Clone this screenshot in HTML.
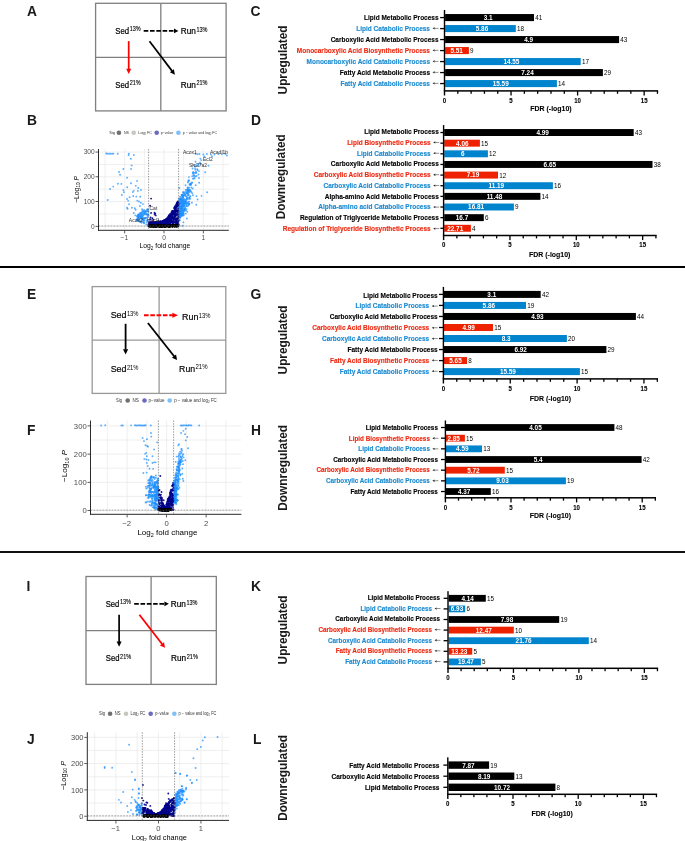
<!DOCTYPE html><html><head><meta charset="utf-8"><style>
*{margin:0;padding:0}
html,body{width:685px;height:841px;background:#fff;overflow:hidden}
svg{display:block;will-change:transform}
text{font-family:"Liberation Sans",sans-serif}
.pl{font-size:13.8px;font-weight:bold;fill:#1a1a1a}
.bl{font-weight:bold;stroke-width:0.14px}
.bv{font-size:7.1px;font-weight:bold;fill:#fff}
.bc{font-size:7.1px;fill:#000}
.bt{font-size:6.6px;font-weight:bold;fill:#000;stroke:#000;stroke-width:0.1px}
.bt2{font-size:7.1px;font-weight:bold;fill:#000;stroke:#000;stroke-width:0.1px}
.side{font-size:12.6px;font-weight:bold;fill:#1a1a1a}
.dt{font-size:8.8px;fill:#000;stroke:#000;stroke-width:0.22px}
.ds{font-size:6.3px;fill:#000;stroke:#000;stroke-width:0.12px}
.dt2{font-size:9px;fill:#000;stroke:#000;stroke-width:0.18px}
.ds2{font-size:6.6px;fill:#000}
.vt{fill:#4d4d4d}
.vx{fill:#000}
.lg{fill:#333}
.gl{font-size:5px;fill:#333}
</style></head><body><svg width="685" height="841" viewBox="0 0 685 841"><rect x="0" y="266" width="685" height="2" fill="#000"/>
<rect x="0" y="551" width="685" height="2" fill="#111"/>
<text x="27.1" y="15.7" class="pl">A</text>
<text x="27" y="124.9" class="pl">B</text>
<text x="250.4" y="15.8" class="pl">C</text>
<text x="251" y="124.9" class="pl">D</text>
<text x="27" y="299" class="pl">E</text>
<text x="27" y="434.9" class="pl">F</text>
<text x="250.4" y="299.2" class="pl">G</text>
<text x="250.9" y="434.7" class="pl">H</text>
<text x="26.5" y="590.6" class="pl">I</text>
<text x="26.9" y="743.6" class="pl">J</text>
<text x="250.9" y="590.6" class="pl">K</text>
<text x="253.1" y="743.8" class="pl">L</text>
<rect x="445.1" y="14.05" width="88.9" height="7.05" fill="#000"/>
<text x="483.76" y="19.97" class="bv" textLength="8.88" lengthAdjust="spacingAndGlyphs">3.1</text>
<text x="535.2" y="20.02" class="bc" textLength="7.03" lengthAdjust="spacingAndGlyphs">41</text>
<rect x="440.1" y="16.93" width="4.2" height="1.3" fill="#000"/>
<text x="364.08" y="19.6" class="bl" font-size="7.5" fill="#000" stroke="#000" textLength="74.52" lengthAdjust="spacingAndGlyphs">Lipid Metabolic Process</text>
<rect x="445.1" y="25.05" width="70.7" height="7.05" fill="#0084cd"/>
<text x="475.78" y="30.97" class="bv" textLength="12.44" lengthAdjust="spacingAndGlyphs">5.86</text>
<text x="517" y="31.02" class="bc" textLength="7.03" lengthAdjust="spacingAndGlyphs">18</text>
<rect x="440.1" y="27.93" width="4.2" height="1.3" fill="#000"/>
<path d="M432.5 28.3l2.2 -1.15v2.3z" fill="#222"/>
<rect x="434.5" y="27.9" width="4.0" height="0.8" fill="#777"/>
<text x="356.21" y="30.6" class="bl" font-size="7.5" fill="#1a8ad0" stroke="#1a8ad0" textLength="73.79" lengthAdjust="spacingAndGlyphs">Lipid Catabolic Process</text>
<rect x="445.1" y="36.05" width="174" height="7.05" fill="#000"/>
<text x="524.26" y="41.97" class="bv" textLength="8.88" lengthAdjust="spacingAndGlyphs">4.9</text>
<text x="620.3" y="42.02" class="bc" textLength="7.03" lengthAdjust="spacingAndGlyphs">43</text>
<rect x="440.1" y="38.92" width="4.2" height="1.3" fill="#000"/>
<text x="330.67" y="41.6" class="bl" font-size="7.5" fill="#000" stroke="#000" textLength="107.93" lengthAdjust="spacingAndGlyphs">Carboxylic Acid Metabolic Process</text>
<rect x="445.1" y="47.05" width="23.8" height="7.05" fill="#ee2200"/>
<text x="450.38" y="52.97" class="bv" textLength="12.44" lengthAdjust="spacingAndGlyphs">5.51</text>
<text x="470.1" y="53.02" class="bc" textLength="3.51" lengthAdjust="spacingAndGlyphs">9</text>
<rect x="440.1" y="49.92" width="4.2" height="1.3" fill="#000"/>
<path d="M432.5 50.3l2.2 -1.15v2.3z" fill="#222"/>
<rect x="434.5" y="49.9" width="4.0" height="0.8" fill="#777"/>
<text x="296.76" y="52.6" class="bl" font-size="7.5" fill="#ee2a12" stroke="#ee2a12" textLength="133.24" lengthAdjust="spacingAndGlyphs">Monocarboxylic Acid Biosynthetic Process</text>
<rect x="445.1" y="58.05" width="135.6" height="7.05" fill="#0084cd"/>
<text x="503.41" y="63.97" class="bv" textLength="15.99" lengthAdjust="spacingAndGlyphs">14.55</text>
<text x="581.9" y="64.02" class="bc" textLength="7.03" lengthAdjust="spacingAndGlyphs">17</text>
<rect x="440.1" y="60.92" width="4.2" height="1.3" fill="#000"/>
<path d="M432.5 61.3l2.2 -1.15v2.3z" fill="#222"/>
<rect x="434.5" y="60.9" width="4.0" height="0.8" fill="#777"/>
<text x="306.52" y="63.6" class="bl" font-size="7.5" fill="#1a8ad0" stroke="#1a8ad0" textLength="123.48" lengthAdjust="spacingAndGlyphs">Monocarboxylic Acid Catabolic Process</text>
<rect x="445.1" y="69.05" width="157.8" height="7.05" fill="#000"/>
<text x="521.28" y="74.98" class="bv" textLength="12.44" lengthAdjust="spacingAndGlyphs">7.24</text>
<text x="604.1" y="75.03" class="bc" textLength="7.03" lengthAdjust="spacingAndGlyphs">29</text>
<rect x="440.1" y="71.92" width="4.2" height="1.3" fill="#000"/>
<path d="M432.5 72.3l2.2 -1.15v2.3z" fill="#222"/>
<rect x="434.5" y="71.9" width="4.0" height="0.8" fill="#777"/>
<text x="339.8" y="74.6" class="bl" font-size="7.5" fill="#000" stroke="#000" textLength="90.2" lengthAdjust="spacingAndGlyphs">Fatty Acid Metabolic Process</text>
<rect x="445.1" y="80.05" width="111.8" height="7.05" fill="#0084cd"/>
<text x="492.71" y="85.98" class="bv" textLength="15.99" lengthAdjust="spacingAndGlyphs">15.59</text>
<text x="558.1" y="86.03" class="bc" textLength="7.03" lengthAdjust="spacingAndGlyphs">14</text>
<rect x="440.1" y="82.92" width="4.2" height="1.3" fill="#000"/>
<path d="M432.5 83.3l2.2 -1.15v2.3z" fill="#222"/>
<rect x="434.5" y="82.9" width="4.0" height="0.8" fill="#777"/>
<text x="340.53" y="85.6" class="bl" font-size="7.5" fill="#1a8ad0" stroke="#1a8ad0" textLength="89.47" lengthAdjust="spacingAndGlyphs">Fatty Acid Catabolic Process</text>
<rect x="443.8" y="10" width="1.4" height="85.5" fill="#000"/>
<rect x="443.8" y="90.15" width="214.36" height="1.5" fill="#000"/>
<rect x="457.16" y="90.9" width="1.3" height="2.9" fill="#000"/>
<rect x="470.47" y="90.9" width="1.3" height="2.9" fill="#000"/>
<rect x="483.78" y="90.9" width="1.3" height="2.9" fill="#000"/>
<rect x="497.09" y="90.9" width="1.3" height="2.9" fill="#000"/>
<rect x="510.4" y="90.9" width="1.3" height="4.6" fill="#000"/>
<rect x="523.71" y="90.9" width="1.3" height="2.9" fill="#000"/>
<rect x="537.02" y="90.9" width="1.3" height="2.9" fill="#000"/>
<rect x="550.33" y="90.9" width="1.3" height="2.9" fill="#000"/>
<rect x="563.64" y="90.9" width="1.3" height="2.9" fill="#000"/>
<rect x="576.95" y="90.9" width="1.3" height="4.6" fill="#000"/>
<rect x="590.26" y="90.9" width="1.3" height="2.9" fill="#000"/>
<rect x="603.57" y="90.9" width="1.3" height="2.9" fill="#000"/>
<rect x="616.88" y="90.9" width="1.3" height="2.9" fill="#000"/>
<rect x="630.19" y="90.9" width="1.3" height="2.9" fill="#000"/>
<rect x="643.5" y="90.9" width="1.3" height="4.6" fill="#000"/>
<rect x="656.81" y="90.9" width="1.3" height="2.9" fill="#000"/>
<text x="442.81" y="102.7" class="bt" textLength="3.38" lengthAdjust="spacingAndGlyphs">0</text>
<text x="509.36" y="102.7" class="bt" textLength="3.38" lengthAdjust="spacingAndGlyphs">5</text>
<text x="574.22" y="102.7" class="bt" textLength="6.75" lengthAdjust="spacingAndGlyphs">10</text>
<text x="640.77" y="102.7" class="bt" textLength="6.75" lengthAdjust="spacingAndGlyphs">15</text>
<text x="530.3" y="111" class="bt2" textLength="41.35" lengthAdjust="spacingAndGlyphs">FDR (-log10)</text>
<text transform="translate(286.8 94.4) rotate(-90)" class="side" textLength="68.9" lengthAdjust="spacingAndGlyphs">Upregulated</text>
<rect x="444.2" y="129.05" width="189.5" height="6.95" fill="#000"/>
<text x="536.48" y="134.93" class="bv" textLength="12.44" lengthAdjust="spacingAndGlyphs">4.99</text>
<text x="634.9" y="134.97" class="bc" textLength="7.03" lengthAdjust="spacingAndGlyphs">43</text>
<rect x="440.4" y="131.88" width="3" height="1.3" fill="#000"/>
<text x="364.28" y="133.95" class="bl" font-size="7" fill="#000" stroke="#000" textLength="74.52" lengthAdjust="spacingAndGlyphs">Lipid Metabolic Process</text>
<rect x="444.2" y="139.69" width="35.7" height="6.95" fill="#ee2200"/>
<text x="456.08" y="145.56" class="bv" textLength="12.44" lengthAdjust="spacingAndGlyphs">4.06</text>
<text x="481.1" y="145.61" class="bc" textLength="7.03" lengthAdjust="spacingAndGlyphs">15</text>
<rect x="440.4" y="142.51" width="3" height="1.3" fill="#000"/>
<path d="M433.2 142.43l2.2 -1.15v2.3z" fill="#222"/>
<rect x="435.2" y="142.03" width="4.0" height="0.8" fill="#777"/>
<text x="347.14" y="144.73" class="bl" font-size="7" fill="#ee2a12" stroke="#ee2a12" textLength="83.56" lengthAdjust="spacingAndGlyphs">Lipid Biosynthetic Process</text>
<rect x="444.2" y="150.33" width="43.7" height="6.95" fill="#0084cd"/>
<text x="461.12" y="156.21" class="bv" textLength="3.55" lengthAdjust="spacingAndGlyphs">6</text>
<text x="489.1" y="156.25" class="bc" textLength="7.03" lengthAdjust="spacingAndGlyphs">12</text>
<rect x="440.4" y="153.16" width="3" height="1.3" fill="#000"/>
<path d="M433.2 153.21l2.2 -1.15v2.3z" fill="#222"/>
<rect x="435.2" y="152.81" width="4.0" height="0.8" fill="#777"/>
<text x="356.91" y="155.51" class="bl" font-size="7" fill="#1a8ad0" stroke="#1a8ad0" textLength="73.79" lengthAdjust="spacingAndGlyphs">Lipid Catabolic Process</text>
<rect x="444.2" y="160.97" width="208.3" height="6.95" fill="#000"/>
<text x="543.58" y="166.85" class="bv" textLength="12.44" lengthAdjust="spacingAndGlyphs">6.65</text>
<text x="653.7" y="166.9" class="bc" textLength="7.03" lengthAdjust="spacingAndGlyphs">38</text>
<rect x="440.4" y="163.8" width="3" height="1.3" fill="#000"/>
<text x="330.87" y="166.28" class="bl" font-size="7" fill="#000" stroke="#000" textLength="107.93" lengthAdjust="spacingAndGlyphs">Carboxylic Acid Metabolic Process</text>
<rect x="444.2" y="171.61" width="53.8" height="6.95" fill="#ee2200"/>
<text x="466.78" y="177.49" class="bv" textLength="12.44" lengthAdjust="spacingAndGlyphs">7.19</text>
<text x="499.2" y="177.53" class="bc" textLength="7.03" lengthAdjust="spacingAndGlyphs">12</text>
<rect x="440.4" y="174.44" width="3" height="1.3" fill="#000"/>
<path d="M433.2 174.76l2.2 -1.15v2.3z" fill="#222"/>
<rect x="435.2" y="174.36" width="4.0" height="0.8" fill="#777"/>
<text x="313.73" y="177.06" class="bl" font-size="7" fill="#ee2a12" stroke="#ee2a12" textLength="116.97" lengthAdjust="spacingAndGlyphs">Carboxylic Acid Biosynthetic Process</text>
<rect x="444.2" y="182.25" width="108.7" height="6.95" fill="#0084cd"/>
<text x="488.48" y="188.12" class="bv" textLength="15.64" lengthAdjust="spacingAndGlyphs">11.19</text>
<text x="554.1" y="188.17" class="bc" textLength="7.03" lengthAdjust="spacingAndGlyphs">16</text>
<rect x="440.4" y="185.07" width="3" height="1.3" fill="#000"/>
<path d="M433.2 185.54l2.2 -1.15v2.3z" fill="#222"/>
<rect x="435.2" y="185.14" width="4.0" height="0.8" fill="#777"/>
<text x="323.49" y="187.84" class="bl" font-size="7" fill="#1a8ad0" stroke="#1a8ad0" textLength="107.21" lengthAdjust="spacingAndGlyphs">Carboxylic Acid Catabolic Process</text>
<rect x="444.2" y="192.89" width="96.2" height="6.95" fill="#000"/>
<text x="486.68" y="198.77" class="bv" textLength="15.64" lengthAdjust="spacingAndGlyphs">11.48</text>
<text x="541.6" y="198.81" class="bc" textLength="7.03" lengthAdjust="spacingAndGlyphs">14</text>
<rect x="440.4" y="195.72" width="3" height="1.3" fill="#000"/>
<text x="324.74" y="198.62" class="bl" font-size="7" fill="#000" stroke="#000" textLength="114.06" lengthAdjust="spacingAndGlyphs">Alpha-amino Acid Metabolic Process</text>
<rect x="444.2" y="203.53" width="69.7" height="6.95" fill="#0084cd"/>
<text x="468.11" y="209.41" class="bv" textLength="15.99" lengthAdjust="spacingAndGlyphs">16.81</text>
<text x="515.1" y="209.46" class="bc" textLength="3.51" lengthAdjust="spacingAndGlyphs">9</text>
<rect x="440.4" y="206.36" width="3" height="1.3" fill="#000"/>
<path d="M433.2 207.09l2.2 -1.15v2.3z" fill="#222"/>
<rect x="435.2" y="206.69" width="4.0" height="0.8" fill="#777"/>
<text x="318.2" y="209.39" class="bl" font-size="7" fill="#1a8ad0" stroke="#1a8ad0" textLength="112.5" lengthAdjust="spacingAndGlyphs">Alpha-amino acid Catabolic Process</text>
<rect x="444.2" y="214.17" width="39.6" height="6.95" fill="#000"/>
<text x="455.78" y="220.05" class="bv" textLength="12.44" lengthAdjust="spacingAndGlyphs">16.7</text>
<text x="485" y="220.09" class="bc" textLength="3.51" lengthAdjust="spacingAndGlyphs">6</text>
<rect x="440.4" y="217" width="3" height="1.3" fill="#000"/>
<text x="299.89" y="220.17" class="bl" font-size="7" fill="#000" stroke="#000" textLength="138.91" lengthAdjust="spacingAndGlyphs">Regulation of Triglyceride Metabolic Process</text>
<rect x="444.2" y="224.81" width="26.7" height="6.95" fill="#ee2200"/>
<text x="447.21" y="230.69" class="bv" textLength="15.99" lengthAdjust="spacingAndGlyphs">22.71</text>
<text x="472.1" y="230.73" class="bc" textLength="3.51" lengthAdjust="spacingAndGlyphs">4</text>
<rect x="440.4" y="227.63" width="3" height="1.3" fill="#000"/>
<path d="M433.2 228.65l2.2 -1.15v2.3z" fill="#222"/>
<rect x="435.2" y="228.25" width="4.0" height="0.8" fill="#777"/>
<text x="282.75" y="230.95" class="bl" font-size="7" fill="#ee2a12" stroke="#ee2a12" textLength="147.95" lengthAdjust="spacingAndGlyphs">Regulation of Triglyceride Biosynthetic Process</text>
<rect x="442.9" y="125.1" width="1.4" height="115" fill="#000"/>
<rect x="442.9" y="234.75" width="213.72" height="1.5" fill="#000"/>
<rect x="456.22" y="235.5" width="1.3" height="2.9" fill="#000"/>
<rect x="469.49" y="235.5" width="1.3" height="2.9" fill="#000"/>
<rect x="482.76" y="235.5" width="1.3" height="2.9" fill="#000"/>
<rect x="496.03" y="235.5" width="1.3" height="2.9" fill="#000"/>
<rect x="509.3" y="235.5" width="1.3" height="4.6" fill="#000"/>
<rect x="522.57" y="235.5" width="1.3" height="2.9" fill="#000"/>
<rect x="535.84" y="235.5" width="1.3" height="2.9" fill="#000"/>
<rect x="549.11" y="235.5" width="1.3" height="2.9" fill="#000"/>
<rect x="562.38" y="235.5" width="1.3" height="2.9" fill="#000"/>
<rect x="575.65" y="235.5" width="1.3" height="4.6" fill="#000"/>
<rect x="588.92" y="235.5" width="1.3" height="2.9" fill="#000"/>
<rect x="602.19" y="235.5" width="1.3" height="2.9" fill="#000"/>
<rect x="615.46" y="235.5" width="1.3" height="2.9" fill="#000"/>
<rect x="628.73" y="235.5" width="1.3" height="2.9" fill="#000"/>
<rect x="642" y="235.5" width="1.3" height="4.6" fill="#000"/>
<rect x="655.27" y="235.5" width="1.3" height="2.9" fill="#000"/>
<text x="441.91" y="247.3" class="bt" textLength="3.38" lengthAdjust="spacingAndGlyphs">0</text>
<text x="508.26" y="247.3" class="bt" textLength="3.38" lengthAdjust="spacingAndGlyphs">5</text>
<text x="572.92" y="247.3" class="bt" textLength="6.75" lengthAdjust="spacingAndGlyphs">10</text>
<text x="639.27" y="247.3" class="bt" textLength="6.75" lengthAdjust="spacingAndGlyphs">15</text>
<text x="529.08" y="257" class="bt2" textLength="41.35" lengthAdjust="spacingAndGlyphs">FDR (-log10)</text>
<text transform="translate(285.2 219.2) rotate(-90)" class="side" textLength="85" lengthAdjust="spacingAndGlyphs">Downregulated</text>
<rect x="444" y="290.9" width="96.7" height="7" fill="#000"/>
<text x="487.36" y="296.8" class="bv" textLength="8.88" lengthAdjust="spacingAndGlyphs">3.1</text>
<text x="541.9" y="296.85" class="bc" textLength="7.03" lengthAdjust="spacingAndGlyphs">42</text>
<rect x="439" y="293.75" width="4.2" height="1.3" fill="#000"/>
<text x="363.18" y="297.55" class="bl" font-size="7.3" fill="#000" stroke="#000" textLength="74.52" lengthAdjust="spacingAndGlyphs">Lipid Metabolic Process</text>
<rect x="444" y="301.93" width="82" height="7" fill="#0084cd"/>
<text x="482.58" y="307.83" class="bv" textLength="12.44" lengthAdjust="spacingAndGlyphs">5.86</text>
<text x="527.2" y="307.88" class="bc" textLength="7.03" lengthAdjust="spacingAndGlyphs">19</text>
<rect x="439" y="304.78" width="4.2" height="1.3" fill="#000"/>
<path d="M431.7 306.1l2.2 -1.15v2.3z" fill="#222"/>
<rect x="433.7" y="305.7" width="4.0" height="0.8" fill="#777"/>
<text x="355.41" y="308.4" class="bl" font-size="7.3" fill="#1a8ad0" stroke="#1a8ad0" textLength="73.79" lengthAdjust="spacingAndGlyphs">Lipid Catabolic Process</text>
<rect x="444" y="312.96" width="191.9" height="7" fill="#000"/>
<text x="531.18" y="318.86" class="bv" textLength="12.44" lengthAdjust="spacingAndGlyphs">4.93</text>
<text x="637.1" y="318.91" class="bc" textLength="7.03" lengthAdjust="spacingAndGlyphs">44</text>
<rect x="439" y="315.81" width="4.2" height="1.3" fill="#000"/>
<text x="329.77" y="319.25" class="bl" font-size="7.3" fill="#000" stroke="#000" textLength="107.93" lengthAdjust="spacingAndGlyphs">Carboxylic Acid Metabolic Process</text>
<rect x="444" y="323.99" width="49" height="7" fill="#ee2200"/>
<text x="462.38" y="329.89" class="bv" textLength="12.44" lengthAdjust="spacingAndGlyphs">4.99</text>
<text x="494.2" y="329.94" class="bc" textLength="7.03" lengthAdjust="spacingAndGlyphs">15</text>
<rect x="439" y="326.84" width="4.2" height="1.3" fill="#000"/>
<path d="M431.7 327.8l2.2 -1.15v2.3z" fill="#222"/>
<rect x="433.7" y="327.4" width="4.0" height="0.8" fill="#777"/>
<text x="312.23" y="330.1" class="bl" font-size="7.3" fill="#ee2a12" stroke="#ee2a12" textLength="116.97" lengthAdjust="spacingAndGlyphs">Carboxylic Acid Biosynthetic Process</text>
<rect x="444" y="335.02" width="122.9" height="7" fill="#0084cd"/>
<text x="501.66" y="340.92" class="bv" textLength="8.88" lengthAdjust="spacingAndGlyphs">8.3</text>
<text x="568.1" y="340.97" class="bc" textLength="7.03" lengthAdjust="spacingAndGlyphs">20</text>
<rect x="439" y="337.87" width="4.2" height="1.3" fill="#000"/>
<path d="M431.7 338.65l2.2 -1.15v2.3z" fill="#222"/>
<rect x="433.7" y="338.25" width="4.0" height="0.8" fill="#777"/>
<text x="321.99" y="340.95" class="bl" font-size="7.3" fill="#1a8ad0" stroke="#1a8ad0" textLength="107.21" lengthAdjust="spacingAndGlyphs">Carboxylic Acid Catabolic Process</text>
<rect x="444" y="346.05" width="162.4" height="7" fill="#000"/>
<text x="514.48" y="351.95" class="bv" textLength="12.44" lengthAdjust="spacingAndGlyphs">6.92</text>
<text x="607.6" y="352" class="bc" textLength="7.03" lengthAdjust="spacingAndGlyphs">29</text>
<rect x="439" y="348.9" width="4.2" height="1.3" fill="#000"/>
<text x="347.5" y="351.8" class="bl" font-size="7.3" fill="#000" stroke="#000" textLength="90.2" lengthAdjust="spacingAndGlyphs">Fatty Acid Metabolic Process</text>
<rect x="444" y="357.08" width="23" height="7" fill="#ee2200"/>
<text x="449.28" y="362.98" class="bv" textLength="12.44" lengthAdjust="spacingAndGlyphs">5.65</text>
<text x="468.2" y="363.03" class="bc" textLength="3.51" lengthAdjust="spacingAndGlyphs">8</text>
<rect x="439" y="359.93" width="4.2" height="1.3" fill="#000"/>
<path d="M431.7 360.35l2.2 -1.15v2.3z" fill="#222"/>
<rect x="433.7" y="359.95" width="4.0" height="0.8" fill="#777"/>
<text x="329.96" y="362.65" class="bl" font-size="7.3" fill="#ee2a12" stroke="#ee2a12" textLength="99.24" lengthAdjust="spacingAndGlyphs">Fatty Acid Biosynthetic Process</text>
<rect x="444" y="368.11" width="135.9" height="7" fill="#0084cd"/>
<text x="499.91" y="374.01" class="bv" textLength="15.99" lengthAdjust="spacingAndGlyphs">15.59</text>
<text x="581.1" y="374.06" class="bc" textLength="7.03" lengthAdjust="spacingAndGlyphs">15</text>
<rect x="439" y="370.96" width="4.2" height="1.3" fill="#000"/>
<path d="M431.7 371.2l2.2 -1.15v2.3z" fill="#222"/>
<rect x="433.7" y="370.8" width="4.0" height="0.8" fill="#777"/>
<text x="339.73" y="373.5" class="bl" font-size="7.3" fill="#1a8ad0" stroke="#1a8ad0" textLength="89.47" lengthAdjust="spacingAndGlyphs">Fatty Acid Catabolic Process</text>
<rect x="442.7" y="286.9" width="1.4" height="96.6" fill="#000"/>
<rect x="442.7" y="378.15" width="215.32" height="1.5" fill="#000"/>
<rect x="456.12" y="378.9" width="1.3" height="2.9" fill="#000"/>
<rect x="469.49" y="378.9" width="1.3" height="2.9" fill="#000"/>
<rect x="482.86" y="378.9" width="1.3" height="2.9" fill="#000"/>
<rect x="496.23" y="378.9" width="1.3" height="2.9" fill="#000"/>
<rect x="509.6" y="378.9" width="1.3" height="4.6" fill="#000"/>
<rect x="522.97" y="378.9" width="1.3" height="2.9" fill="#000"/>
<rect x="536.34" y="378.9" width="1.3" height="2.9" fill="#000"/>
<rect x="549.71" y="378.9" width="1.3" height="2.9" fill="#000"/>
<rect x="563.08" y="378.9" width="1.3" height="2.9" fill="#000"/>
<rect x="576.45" y="378.9" width="1.3" height="4.6" fill="#000"/>
<rect x="589.82" y="378.9" width="1.3" height="2.9" fill="#000"/>
<rect x="603.19" y="378.9" width="1.3" height="2.9" fill="#000"/>
<rect x="616.56" y="378.9" width="1.3" height="2.9" fill="#000"/>
<rect x="629.93" y="378.9" width="1.3" height="2.9" fill="#000"/>
<rect x="643.3" y="378.9" width="1.3" height="4.6" fill="#000"/>
<rect x="656.67" y="378.9" width="1.3" height="2.9" fill="#000"/>
<text x="441.71" y="390.7" class="bt" textLength="3.38" lengthAdjust="spacingAndGlyphs">0</text>
<text x="508.56" y="390.7" class="bt" textLength="3.38" lengthAdjust="spacingAndGlyphs">5</text>
<text x="573.72" y="390.7" class="bt" textLength="6.75" lengthAdjust="spacingAndGlyphs">10</text>
<text x="640.57" y="390.7" class="bt" textLength="6.75" lengthAdjust="spacingAndGlyphs">15</text>
<text x="529.68" y="400.5" class="bt2" textLength="41.35" lengthAdjust="spacingAndGlyphs">FDR (-log10)</text>
<text transform="translate(286.5 374.4) rotate(-90)" class="side" textLength="68.9" lengthAdjust="spacingAndGlyphs">Upregulated</text>
<rect x="446" y="424.1" width="168.4" height="6.8" fill="#000"/>
<text x="529.28" y="429.9" class="bv" textLength="12.44" lengthAdjust="spacingAndGlyphs">4.05</text>
<text x="615.6" y="429.95" class="bc" textLength="7.03" lengthAdjust="spacingAndGlyphs">48</text>
<rect x="441" y="426.85" width="4.2" height="1.3" fill="#000"/>
<text x="365.63" y="429.9" class="bl" font-size="7" fill="#000" stroke="#000" textLength="72.27" lengthAdjust="spacingAndGlyphs">Lipid Metabolic Process</text>
<rect x="446" y="434.77" width="18.9" height="6.8" fill="#ee2200"/>
<text x="447.38" y="440.57" class="bv" textLength="12.44" lengthAdjust="spacingAndGlyphs">2.85</text>
<text x="466.1" y="440.62" class="bc" textLength="7.03" lengthAdjust="spacingAndGlyphs">15</text>
<rect x="441" y="437.52" width="4.2" height="1.3" fill="#000"/>
<path d="M432.4 438.23l2.2 -1.15v2.3z" fill="#222"/>
<rect x="434.4" y="437.83" width="4.0" height="0.8" fill="#777"/>
<text x="348.86" y="440.53" class="bl" font-size="7" fill="#ee2a12" stroke="#ee2a12" textLength="81.04" lengthAdjust="spacingAndGlyphs">Lipid Biosynthetic Process</text>
<rect x="446" y="445.44" width="36" height="6.8" fill="#0084cd"/>
<text x="456.08" y="451.24" class="bv" textLength="12.44" lengthAdjust="spacingAndGlyphs">4.59</text>
<text x="483.2" y="451.29" class="bc" textLength="7.03" lengthAdjust="spacingAndGlyphs">13</text>
<rect x="441" y="448.19" width="4.2" height="1.3" fill="#000"/>
<path d="M432.4 448.87l2.2 -1.15v2.3z" fill="#222"/>
<rect x="434.4" y="448.47" width="4.0" height="0.8" fill="#777"/>
<text x="358.33" y="451.17" class="bl" font-size="7" fill="#1a8ad0" stroke="#1a8ad0" textLength="71.57" lengthAdjust="spacingAndGlyphs">Lipid Catabolic Process</text>
<rect x="446" y="456.11" width="195.6" height="6.8" fill="#000"/>
<text x="533.76" y="461.91" class="bv" textLength="8.88" lengthAdjust="spacingAndGlyphs">5.4</text>
<text x="642.8" y="461.96" class="bc" textLength="7.03" lengthAdjust="spacingAndGlyphs">42</text>
<rect x="441" y="458.86" width="4.2" height="1.3" fill="#000"/>
<text x="333.22" y="461.8" class="bl" font-size="7" fill="#000" stroke="#000" textLength="104.68" lengthAdjust="spacingAndGlyphs">Carboxylic Acid Metabolic Process</text>
<rect x="446" y="466.78" width="58.8" height="6.8" fill="#ee2200"/>
<text x="467.18" y="472.58" class="bv" textLength="12.44" lengthAdjust="spacingAndGlyphs">5.72</text>
<text x="506" y="472.63" class="bc" textLength="7.03" lengthAdjust="spacingAndGlyphs">15</text>
<rect x="441" y="469.53" width="4.2" height="1.3" fill="#000"/>
<path d="M432.4 470.13l2.2 -1.15v2.3z" fill="#222"/>
<rect x="434.4" y="469.73" width="4.0" height="0.8" fill="#777"/>
<text x="316.45" y="472.43" class="bl" font-size="7" fill="#ee2a12" stroke="#ee2a12" textLength="113.45" lengthAdjust="spacingAndGlyphs">Carboxylic Acid Biosynthetic Process</text>
<rect x="446" y="477.45" width="119.9" height="6.8" fill="#0084cd"/>
<text x="496.28" y="483.25" class="bv" textLength="12.44" lengthAdjust="spacingAndGlyphs">9.03</text>
<text x="567.1" y="483.3" class="bc" textLength="7.03" lengthAdjust="spacingAndGlyphs">19</text>
<rect x="441" y="480.2" width="4.2" height="1.3" fill="#000"/>
<path d="M432.4 480.77l2.2 -1.15v2.3z" fill="#222"/>
<rect x="434.4" y="480.37" width="4.0" height="0.8" fill="#777"/>
<text x="325.92" y="483.07" class="bl" font-size="7" fill="#1a8ad0" stroke="#1a8ad0" textLength="103.98" lengthAdjust="spacingAndGlyphs">Carboxylic Acid Catabolic Process</text>
<rect x="446" y="488.12" width="44.8" height="6.8" fill="#000"/>
<text x="457.88" y="493.92" class="bv" textLength="12.44" lengthAdjust="spacingAndGlyphs">4.37</text>
<text x="492" y="493.97" class="bc" textLength="7.03" lengthAdjust="spacingAndGlyphs">16</text>
<rect x="441" y="490.87" width="4.2" height="1.3" fill="#000"/>
<text x="350.42" y="493.7" class="bl" font-size="7" fill="#000" stroke="#000" textLength="87.48" lengthAdjust="spacingAndGlyphs">Fatty Acid Metabolic Process</text>
<rect x="444.7" y="420.5" width="1.4" height="81.9" fill="#000"/>
<rect x="444.7" y="497.05" width="211.32" height="1.5" fill="#000"/>
<rect x="457.87" y="497.8" width="1.3" height="2.9" fill="#000"/>
<rect x="470.99" y="497.8" width="1.3" height="2.9" fill="#000"/>
<rect x="484.11" y="497.8" width="1.3" height="2.9" fill="#000"/>
<rect x="497.23" y="497.8" width="1.3" height="2.9" fill="#000"/>
<rect x="510.35" y="497.8" width="1.3" height="4.6" fill="#000"/>
<rect x="523.47" y="497.8" width="1.3" height="2.9" fill="#000"/>
<rect x="536.59" y="497.8" width="1.3" height="2.9" fill="#000"/>
<rect x="549.71" y="497.8" width="1.3" height="2.9" fill="#000"/>
<rect x="562.83" y="497.8" width="1.3" height="2.9" fill="#000"/>
<rect x="575.95" y="497.8" width="1.3" height="4.6" fill="#000"/>
<rect x="589.07" y="497.8" width="1.3" height="2.9" fill="#000"/>
<rect x="602.19" y="497.8" width="1.3" height="2.9" fill="#000"/>
<rect x="615.31" y="497.8" width="1.3" height="2.9" fill="#000"/>
<rect x="628.43" y="497.8" width="1.3" height="2.9" fill="#000"/>
<rect x="641.55" y="497.8" width="1.3" height="4.6" fill="#000"/>
<rect x="654.67" y="497.8" width="1.3" height="2.9" fill="#000"/>
<text x="443.71" y="509.6" class="bt" textLength="3.38" lengthAdjust="spacingAndGlyphs">0</text>
<text x="509.31" y="509.6" class="bt" textLength="3.38" lengthAdjust="spacingAndGlyphs">5</text>
<text x="573.22" y="509.6" class="bt" textLength="6.75" lengthAdjust="spacingAndGlyphs">10</text>
<text x="638.82" y="509.6" class="bt" textLength="6.75" lengthAdjust="spacingAndGlyphs">15</text>
<text x="529.68" y="518" class="bt2" textLength="41.35" lengthAdjust="spacingAndGlyphs">FDR (-log10)</text>
<text transform="translate(286.5 510.7) rotate(-90)" class="side" textLength="85.7" lengthAdjust="spacingAndGlyphs">Downregulated</text>
<rect x="448.6" y="594.9" width="37.2" height="6.8" fill="#000"/>
<text x="461.48" y="600.7" class="bv" textLength="12.44" lengthAdjust="spacingAndGlyphs">4.14</text>
<text x="487" y="600.75" class="bc" textLength="7.03" lengthAdjust="spacingAndGlyphs">15</text>
<rect x="443.6" y="597.65" width="4.2" height="1.3" fill="#000"/>
<text x="367.73" y="600.3" class="bl" font-size="6.7" fill="#000" stroke="#000" textLength="72.27" lengthAdjust="spacingAndGlyphs">Lipid Metabolic Process</text>
<rect x="448.6" y="605.5" width="16.6" height="6.8" fill="#0084cd"/>
<text x="450.78" y="611.3" class="bv" textLength="12.44" lengthAdjust="spacingAndGlyphs">6.93</text>
<text x="466.4" y="611.35" class="bc" textLength="3.51" lengthAdjust="spacingAndGlyphs">6</text>
<rect x="443.6" y="608.25" width="4.2" height="1.3" fill="#000"/>
<path d="M434.5 608.57l2.2 -1.15v2.3z" fill="#222"/>
<rect x="436.5" y="608.17" width="4.0" height="0.8" fill="#777"/>
<text x="360.43" y="610.87" class="bl" font-size="6.7" fill="#1a8ad0" stroke="#1a8ad0" textLength="71.57" lengthAdjust="spacingAndGlyphs">Lipid Catabolic Process</text>
<rect x="448.6" y="616.1" width="110.6" height="6.8" fill="#000"/>
<text x="500.78" y="621.9" class="bv" textLength="12.44" lengthAdjust="spacingAndGlyphs">7.98</text>
<text x="560.4" y="621.95" class="bc" textLength="7.03" lengthAdjust="spacingAndGlyphs">19</text>
<rect x="443.6" y="618.85" width="4.2" height="1.3" fill="#000"/>
<text x="335.32" y="621.43" class="bl" font-size="6.7" fill="#000" stroke="#000" textLength="104.68" lengthAdjust="spacingAndGlyphs">Carboxylic Acid Metabolic Process</text>
<rect x="448.6" y="626.7" width="65.2" height="6.8" fill="#ee2200"/>
<text x="475.81" y="632.5" class="bv" textLength="15.99" lengthAdjust="spacingAndGlyphs">12.47</text>
<text x="515" y="632.55" class="bc" textLength="7.03" lengthAdjust="spacingAndGlyphs">10</text>
<rect x="443.6" y="629.45" width="4.2" height="1.3" fill="#000"/>
<path d="M434.5 629.7l2.2 -1.15v2.3z" fill="#222"/>
<rect x="436.5" y="629.3" width="4.0" height="0.8" fill="#777"/>
<text x="318.55" y="632" class="bl" font-size="6.7" fill="#ee2a12" stroke="#ee2a12" textLength="113.45" lengthAdjust="spacingAndGlyphs">Carboxylic Acid Biosynthetic Process</text>
<rect x="448.6" y="637.3" width="140.2" height="6.8" fill="#0084cd"/>
<text x="515.61" y="643.1" class="bv" textLength="15.99" lengthAdjust="spacingAndGlyphs">21.76</text>
<text x="590" y="643.15" class="bc" textLength="7.03" lengthAdjust="spacingAndGlyphs">14</text>
<rect x="443.6" y="640.05" width="4.2" height="1.3" fill="#000"/>
<path d="M434.5 640.27l2.2 -1.15v2.3z" fill="#222"/>
<rect x="436.5" y="639.87" width="4.0" height="0.8" fill="#777"/>
<text x="328.02" y="642.57" class="bl" font-size="6.7" fill="#1a8ad0" stroke="#1a8ad0" textLength="103.98" lengthAdjust="spacingAndGlyphs">Carboxylic Acid Catabolic Process</text>
<rect x="448.6" y="647.9" width="23.6" height="6.8" fill="#ee2200"/>
<text x="451.31" y="653.7" class="bv" textLength="15.99" lengthAdjust="spacingAndGlyphs">13.23</text>
<text x="473.4" y="653.75" class="bc" textLength="3.51" lengthAdjust="spacingAndGlyphs">5</text>
<rect x="443.6" y="650.65" width="4.2" height="1.3" fill="#000"/>
<path d="M434.5 650.83l2.2 -1.15v2.3z" fill="#222"/>
<rect x="436.5" y="650.43" width="4.0" height="0.8" fill="#777"/>
<text x="335.75" y="653.13" class="bl" font-size="6.7" fill="#ee2a12" stroke="#ee2a12" textLength="96.25" lengthAdjust="spacingAndGlyphs">Fatty Acid Biosynthetic Process</text>
<rect x="448.6" y="658.5" width="32.3" height="6.8" fill="#0084cd"/>
<text x="457.91" y="664.3" class="bv" textLength="15.99" lengthAdjust="spacingAndGlyphs">19.47</text>
<text x="482.1" y="664.35" class="bc" textLength="3.51" lengthAdjust="spacingAndGlyphs">5</text>
<rect x="443.6" y="661.25" width="4.2" height="1.3" fill="#000"/>
<path d="M434.5 661.4l2.2 -1.15v2.3z" fill="#222"/>
<rect x="436.5" y="661" width="4.0" height="0.8" fill="#777"/>
<text x="345.22" y="663.7" class="bl" font-size="6.7" fill="#1a8ad0" stroke="#1a8ad0" textLength="86.78" lengthAdjust="spacingAndGlyphs">Fatty Acid Catabolic Process</text>
<rect x="447.3" y="591.2" width="1.4" height="81.7" fill="#000"/>
<rect x="447.3" y="667.55" width="210.84" height="1.5" fill="#000"/>
<rect x="460.44" y="668.3" width="1.3" height="2.9" fill="#000"/>
<rect x="473.53" y="668.3" width="1.3" height="2.9" fill="#000"/>
<rect x="486.62" y="668.3" width="1.3" height="2.9" fill="#000"/>
<rect x="499.71" y="668.3" width="1.3" height="2.9" fill="#000"/>
<rect x="512.8" y="668.3" width="1.3" height="4.6" fill="#000"/>
<rect x="525.89" y="668.3" width="1.3" height="2.9" fill="#000"/>
<rect x="538.98" y="668.3" width="1.3" height="2.9" fill="#000"/>
<rect x="552.07" y="668.3" width="1.3" height="2.9" fill="#000"/>
<rect x="565.16" y="668.3" width="1.3" height="2.9" fill="#000"/>
<rect x="578.25" y="668.3" width="1.3" height="4.6" fill="#000"/>
<rect x="591.34" y="668.3" width="1.3" height="2.9" fill="#000"/>
<rect x="604.43" y="668.3" width="1.3" height="2.9" fill="#000"/>
<rect x="617.52" y="668.3" width="1.3" height="2.9" fill="#000"/>
<rect x="630.61" y="668.3" width="1.3" height="2.9" fill="#000"/>
<rect x="643.7" y="668.3" width="1.3" height="4.6" fill="#000"/>
<rect x="656.79" y="668.3" width="1.3" height="2.9" fill="#000"/>
<text x="446.31" y="680.1" class="bt" textLength="3.38" lengthAdjust="spacingAndGlyphs">0</text>
<text x="511.76" y="680.1" class="bt" textLength="3.38" lengthAdjust="spacingAndGlyphs">5</text>
<text x="575.52" y="680.1" class="bt" textLength="6.75" lengthAdjust="spacingAndGlyphs">10</text>
<text x="640.97" y="680.1" class="bt" textLength="6.75" lengthAdjust="spacingAndGlyphs">15</text>
<text transform="translate(286.5 664.4) rotate(-90)" class="side" textLength="68.9" lengthAdjust="spacingAndGlyphs">Upregulated</text>
<rect x="448.4" y="761.4" width="40.7" height="7.4" fill="#000"/>
<text x="462.18" y="767.5" class="bv" textLength="12.44" lengthAdjust="spacingAndGlyphs">7.87</text>
<text x="490.3" y="767.55" class="bc" textLength="7.03" lengthAdjust="spacingAndGlyphs">19</text>
<rect x="443.4" y="764.45" width="4.2" height="1.3" fill="#000"/>
<text x="349.2" y="767.6" class="bl" font-size="7" fill="#000" stroke="#000" textLength="90.2" lengthAdjust="spacingAndGlyphs">Fatty Acid Metabolic Process</text>
<rect x="448.4" y="772.5" width="65.9" height="7.4" fill="#000"/>
<text x="477.88" y="778.6" class="bv" textLength="12.44" lengthAdjust="spacingAndGlyphs">8.19</text>
<text x="515.5" y="778.65" class="bc" textLength="7.03" lengthAdjust="spacingAndGlyphs">13</text>
<rect x="443.4" y="775.55" width="4.2" height="1.3" fill="#000"/>
<text x="331.47" y="778.65" class="bl" font-size="7" fill="#000" stroke="#000" textLength="107.93" lengthAdjust="spacingAndGlyphs">Carboxylic Acid Metabolic Process</text>
<rect x="448.4" y="783.6" width="107" height="7.4" fill="#000"/>
<text x="494.01" y="789.7" class="bv" textLength="15.99" lengthAdjust="spacingAndGlyphs">10.72</text>
<text x="556.6" y="789.75" class="bc" textLength="3.51" lengthAdjust="spacingAndGlyphs">8</text>
<rect x="443.4" y="786.65" width="4.2" height="1.3" fill="#000"/>
<text x="364.88" y="789.7" class="bl" font-size="7" fill="#000" stroke="#000" textLength="74.52" lengthAdjust="spacingAndGlyphs">Lipid Metabolic Process</text>
<rect x="447.1" y="757.3" width="1.4" height="41.6" fill="#000"/>
<rect x="447.1" y="793.55" width="210.04" height="1.5" fill="#000"/>
<rect x="460.19" y="794.3" width="1.3" height="2.9" fill="#000"/>
<rect x="473.23" y="794.3" width="1.3" height="2.9" fill="#000"/>
<rect x="486.27" y="794.3" width="1.3" height="2.9" fill="#000"/>
<rect x="499.31" y="794.3" width="1.3" height="2.9" fill="#000"/>
<rect x="512.35" y="794.3" width="1.3" height="4.6" fill="#000"/>
<rect x="525.39" y="794.3" width="1.3" height="2.9" fill="#000"/>
<rect x="538.43" y="794.3" width="1.3" height="2.9" fill="#000"/>
<rect x="551.47" y="794.3" width="1.3" height="2.9" fill="#000"/>
<rect x="564.51" y="794.3" width="1.3" height="2.9" fill="#000"/>
<rect x="577.55" y="794.3" width="1.3" height="4.6" fill="#000"/>
<rect x="590.59" y="794.3" width="1.3" height="2.9" fill="#000"/>
<rect x="603.63" y="794.3" width="1.3" height="2.9" fill="#000"/>
<rect x="616.67" y="794.3" width="1.3" height="2.9" fill="#000"/>
<rect x="629.71" y="794.3" width="1.3" height="2.9" fill="#000"/>
<rect x="642.75" y="794.3" width="1.3" height="4.6" fill="#000"/>
<rect x="655.79" y="794.3" width="1.3" height="2.9" fill="#000"/>
<text x="446.11" y="806.1" class="bt" textLength="3.38" lengthAdjust="spacingAndGlyphs">0</text>
<text x="511.31" y="806.1" class="bt" textLength="3.38" lengthAdjust="spacingAndGlyphs">5</text>
<text x="574.82" y="806.1" class="bt" textLength="6.75" lengthAdjust="spacingAndGlyphs">10</text>
<text x="640.02" y="806.1" class="bt" textLength="6.75" lengthAdjust="spacingAndGlyphs">15</text>
<text x="531.44" y="815.7" class="bt2" textLength="41.35" lengthAdjust="spacingAndGlyphs">FDR (-log10)</text>
<text transform="translate(286.5 820.7) rotate(-90)" class="side" textLength="85.7" lengthAdjust="spacingAndGlyphs">Downregulated</text>
<rect x="95.6" y="3.3" width="130.5" height="107.6" fill="none" stroke="#7f7f7f" stroke-width="1.3"/>
<line x1="160.8" y1="3.3" x2="160.8" y2="110.9" stroke="#7f7f7f" stroke-width="1.3"/>
<line x1="95.6" y1="57.4" x2="226.1" y2="57.4" stroke="#7f7f7f" stroke-width="1.3"/>
<text x="115.3" y="33.8" class="dt" textLength="13.8" lengthAdjust="spacingAndGlyphs">Sed</text>
<text x="129.7" y="31.45" class="ds" textLength="11" lengthAdjust="spacingAndGlyphs">13%</text>
<text x="180.8" y="34" class="dt" textLength="15.1" lengthAdjust="spacingAndGlyphs">Run</text>
<text x="196.5" y="31.65" class="ds" textLength="11" lengthAdjust="spacingAndGlyphs">13%</text>
<text x="115.3" y="87.5" class="dt" textLength="13.8" lengthAdjust="spacingAndGlyphs">Sed</text>
<text x="129.7" y="85.15" class="ds" textLength="11" lengthAdjust="spacingAndGlyphs">21%</text>
<text x="180.8" y="87.8" class="dt" textLength="15.1" lengthAdjust="spacingAndGlyphs">Run</text>
<text x="196.5" y="85.45" class="ds" textLength="11" lengthAdjust="spacingAndGlyphs">21%</text>
<line x1="143.7" y1="30.9" x2="174.5" y2="30.9" stroke="#000" stroke-width="1.8" stroke-dasharray="4.6 1.7"/><path d="M178.4 30.9L174 33.3L174 28.5z" fill="#000"/>
<line x1="128.7" y1="41.1" x2="128.7" y2="69.2" stroke="#ff0000" stroke-width="1.7"/><path d="M128.7 74L126.2 68.7L131.2 68.7z" fill="#ff0000"/>
<line x1="149.5" y1="41.3" x2="172.18" y2="71.12" stroke="#000" stroke-width="1.7"/><path d="M174.9 74.7L169.88 72.23L173.86 69.21z" fill="#000"/>
<rect x="92.2" y="286.6" width="133.6" height="106.8" fill="none" stroke="#999" stroke-width="1.3"/>
<line x1="159.1" y1="286.6" x2="159.1" y2="393.4" stroke="#999" stroke-width="1.3"/>
<line x1="92.2" y1="340.1" x2="225.8" y2="340.1" stroke="#999" stroke-width="1.3"/>
<text x="110.7" y="317.7" class="dt2" textLength="15.8" lengthAdjust="spacingAndGlyphs">Sed</text>
<text x="126.9" y="315.5" class="ds2" textLength="11.6" lengthAdjust="spacingAndGlyphs">13%</text>
<text x="182.1" y="319.9" class="dt2" textLength="16.3" lengthAdjust="spacingAndGlyphs">Run</text>
<text x="198.8" y="317.7" class="ds2" textLength="11.6" lengthAdjust="spacingAndGlyphs">13%</text>
<text x="110.7" y="372" class="dt2" textLength="15.8" lengthAdjust="spacingAndGlyphs">Sed</text>
<text x="126.9" y="369.8" class="ds2" textLength="11.6" lengthAdjust="spacingAndGlyphs">21%</text>
<text x="179.1" y="371.5" class="dt2" textLength="16" lengthAdjust="spacingAndGlyphs">Run</text>
<text x="195.5" y="369.3" class="ds2" textLength="12" lengthAdjust="spacingAndGlyphs">21%</text>
<line x1="144" y1="315.2" x2="172.9" y2="315.2" stroke="#ff0000" stroke-width="2" stroke-dasharray="4.6 1.7"/><path d="M178 315.2L172.4 317.7L172.4 312.7z" fill="#ff0000"/>
<line x1="125.6" y1="323.8" x2="125.6" y2="349.7" stroke="#000" stroke-width="1.8"/><path d="M125.6 354.4L123 349.2L128.2 349.2z" fill="#000"/>
<line x1="147.9" y1="323" x2="174.31" y2="356.47" stroke="#000" stroke-width="1.8"/><path d="M177.1 360L171.96 357.69L176.04 354.46z" fill="#000"/>
<rect x="86" y="576.5" width="130.3" height="107.9" fill="none" stroke="#7f7f7f" stroke-width="1.3"/>
<line x1="151.1" y1="576.5" x2="151.1" y2="684.4" stroke="#7f7f7f" stroke-width="1.3"/>
<line x1="86" y1="630.7" x2="216.3" y2="630.7" stroke="#7f7f7f" stroke-width="1.3"/>
<text x="105.7" y="606.8" class="dt" textLength="13.7" lengthAdjust="spacingAndGlyphs">Sed</text>
<text x="120" y="604.45" class="ds" textLength="11" lengthAdjust="spacingAndGlyphs">13%</text>
<text x="170.8" y="607.3" class="dt" textLength="15.1" lengthAdjust="spacingAndGlyphs">Run</text>
<text x="186.5" y="604.95" class="ds" textLength="11" lengthAdjust="spacingAndGlyphs">13%</text>
<text x="105.8" y="661" class="dt" textLength="13.7" lengthAdjust="spacingAndGlyphs">Sed</text>
<text x="120.1" y="658.65" class="ds" textLength="11" lengthAdjust="spacingAndGlyphs">21%</text>
<text x="171.1" y="661.1" class="dt" textLength="15.1" lengthAdjust="spacingAndGlyphs">Run</text>
<text x="186.8" y="658.75" class="ds" textLength="11" lengthAdjust="spacingAndGlyphs">21%</text>
<line x1="134.2" y1="603.8" x2="164.9" y2="603.8" stroke="#000" stroke-width="1.8" stroke-dasharray="4.6 1.7"/><path d="M168.8 603.8L164.4 606.2L164.4 601.4z" fill="#000"/>
<line x1="119.1" y1="614.7" x2="119.1" y2="642.1" stroke="#000" stroke-width="1.7"/><path d="M119.1 646.8L116.6 641.6L121.6 641.6z" fill="#000"/>
<line x1="139.4" y1="614.7" x2="162.25" y2="644.24" stroke="#ff0000" stroke-width="1.8"/><path d="M165 647.8L159.88 645.44L164 642.25z" fill="#ff0000"/>
<g stroke="#e8e8e8" stroke-width="0.7"><line x1="105.05" y1="149" x2="105.05" y2="229.7"/><line x1="124.7" y1="149" x2="124.7" y2="229.7"/><line x1="144.35" y1="149" x2="144.35" y2="229.7"/><line x1="164" y1="149" x2="164" y2="229.7"/><line x1="183.65" y1="149" x2="183.65" y2="229.7"/><line x1="203.3" y1="149" x2="203.3" y2="229.7"/><line x1="222.95" y1="149" x2="222.95" y2="229.7"/><line x1="98.5" y1="226.3" x2="228.8" y2="226.3"/><line x1="98.5" y1="213.93" x2="228.8" y2="213.93"/><line x1="98.5" y1="201.55" x2="228.8" y2="201.55"/><line x1="98.5" y1="189.18" x2="228.8" y2="189.18"/><line x1="98.5" y1="176.8" x2="228.8" y2="176.8"/><line x1="98.5" y1="164.43" x2="228.8" y2="164.43"/><line x1="98.5" y1="152.05" x2="228.8" y2="152.05"/></g>
<g fill="#1e90ff" fill-opacity="0.72"><circle cx="180.82" cy="205.37" r="0.95"/><circle cx="182.75" cy="203.49" r="0.95"/><circle cx="180.97" cy="204.28" r="0.95"/><circle cx="179.57" cy="208.8" r="0.95"/><circle cx="181.55" cy="198.91" r="0.95"/><circle cx="179.19" cy="214.4" r="0.95"/><circle cx="179.32" cy="202.87" r="0.95"/><circle cx="181.7" cy="214.38" r="0.95"/><circle cx="183.04" cy="192.86" r="0.95"/><circle cx="181.5" cy="202.52" r="0.95"/><circle cx="179.67" cy="220.55" r="0.95"/><circle cx="181" cy="215.7" r="0.95"/><circle cx="179.56" cy="215.12" r="0.95"/><circle cx="179.01" cy="211.34" r="0.95"/><circle cx="180.72" cy="199.24" r="0.95"/><circle cx="181.06" cy="203.1" r="0.95"/><circle cx="180.87" cy="202.93" r="0.95"/><circle cx="180.65" cy="211.54" r="0.95"/><circle cx="183.07" cy="192.03" r="0.95"/><circle cx="182.28" cy="199.14" r="0.95"/><circle cx="180.1" cy="214.16" r="0.95"/><circle cx="180.23" cy="217.75" r="0.95"/><circle cx="182.03" cy="206.19" r="0.95"/><circle cx="182.34" cy="205.8" r="0.95"/><circle cx="182.83" cy="195.27" r="0.95"/><circle cx="178.92" cy="217.61" r="0.95"/><circle cx="182.59" cy="203.44" r="0.95"/><circle cx="183" cy="204.24" r="0.95"/><circle cx="179.2" cy="207.21" r="0.95"/><circle cx="182.15" cy="208.73" r="0.95"/><circle cx="179.39" cy="213.77" r="0.95"/><circle cx="182.94" cy="197.02" r="0.95"/><circle cx="179.42" cy="215.49" r="0.95"/><circle cx="179.3" cy="220.13" r="0.95"/><circle cx="182.25" cy="210.54" r="0.95"/><circle cx="181.11" cy="206.99" r="0.95"/><circle cx="179.6" cy="203.81" r="0.95"/><circle cx="179.44" cy="206.15" r="0.95"/><circle cx="179.41" cy="211.62" r="0.95"/><circle cx="179.79" cy="214.24" r="0.95"/><circle cx="182.78" cy="196.05" r="0.95"/><circle cx="180" cy="199.45" r="0.95"/><circle cx="179.74" cy="211.3" r="0.95"/><circle cx="182.33" cy="200.45" r="0.95"/><circle cx="179.18" cy="198.67" r="0.95"/><circle cx="179.79" cy="214.4" r="0.95"/><circle cx="182.16" cy="207.47" r="0.95"/><circle cx="180.01" cy="217.68" r="0.95"/><circle cx="179.13" cy="207.99" r="0.95"/><circle cx="179.93" cy="206.34" r="0.95"/><circle cx="180.35" cy="208.56" r="0.95"/><circle cx="182.71" cy="202.78" r="0.95"/><circle cx="181.16" cy="197.77" r="0.95"/><circle cx="179.55" cy="217.11" r="0.95"/><circle cx="182.72" cy="196.43" r="0.95"/><circle cx="179.79" cy="215.56" r="0.95"/><circle cx="181.89" cy="194.99" r="0.95"/><circle cx="179.85" cy="198.62" r="0.95"/><circle cx="182.51" cy="201" r="0.95"/><circle cx="180.77" cy="215.68" r="0.95"/><circle cx="179.05" cy="199.67" r="0.95"/><circle cx="179.74" cy="203.95" r="0.95"/><circle cx="180.07" cy="201.08" r="0.95"/><circle cx="181.31" cy="209.89" r="0.95"/><circle cx="179.6" cy="204.04" r="0.95"/><circle cx="179.04" cy="216.61" r="0.95"/><circle cx="181.27" cy="198.33" r="0.95"/><circle cx="181.34" cy="209.99" r="0.95"/><circle cx="182.68" cy="208.65" r="0.95"/><circle cx="178.96" cy="216.15" r="0.95"/><circle cx="180.69" cy="216.44" r="0.95"/><circle cx="179.77" cy="212.24" r="0.95"/><circle cx="181.11" cy="213.63" r="0.95"/><circle cx="180.43" cy="198.76" r="0.95"/><circle cx="182.87" cy="199.08" r="0.95"/><circle cx="181.84" cy="202.95" r="0.95"/><circle cx="179.59" cy="220.21" r="0.95"/><circle cx="178.94" cy="201.08" r="0.95"/><circle cx="181.74" cy="194.96" r="0.95"/><circle cx="178.9" cy="207.33" r="0.95"/><circle cx="180.78" cy="201.52" r="0.95"/><circle cx="180.11" cy="196.69" r="0.95"/><circle cx="179.12" cy="209.01" r="0.95"/><circle cx="181.86" cy="195.91" r="0.95"/><circle cx="182.07" cy="200.09" r="0.95"/><circle cx="182.26" cy="195.12" r="0.95"/><circle cx="180.31" cy="203.42" r="0.95"/><circle cx="182.65" cy="195.28" r="0.95"/><circle cx="180.54" cy="200.55" r="0.95"/><circle cx="182.34" cy="201.63" r="0.95"/><circle cx="183.32" cy="197.45" r="0.95"/><circle cx="187.52" cy="198.02" r="0.95"/><circle cx="200.05" cy="162.35" r="0.95"/><circle cx="182.17" cy="206.39" r="0.95"/><circle cx="183.23" cy="205.64" r="0.95"/><circle cx="191.35" cy="187.44" r="0.95"/><circle cx="183.43" cy="206.02" r="0.95"/><circle cx="179.75" cy="201.77" r="0.95"/><circle cx="183.13" cy="211.86" r="0.95"/><circle cx="186.92" cy="193.26" r="0.95"/><circle cx="193.2" cy="172.19" r="0.95"/><circle cx="192.27" cy="176.21" r="0.95"/><circle cx="178.02" cy="213.5" r="0.95"/><circle cx="196.15" cy="171.68" r="0.95"/><circle cx="183.99" cy="199.28" r="0.95"/><circle cx="185.34" cy="201.41" r="0.95"/><circle cx="189" cy="190.03" r="0.95"/><circle cx="179.56" cy="213.32" r="0.95"/><circle cx="178.86" cy="213.41" r="0.95"/><circle cx="181.67" cy="205.67" r="0.95"/><circle cx="196.66" cy="165.15" r="0.95"/><circle cx="181.35" cy="213.68" r="0.95"/><circle cx="185.7" cy="189.89" r="0.95"/><circle cx="190.81" cy="183.99" r="0.95"/><circle cx="186.58" cy="205.83" r="0.95"/><circle cx="181.95" cy="212.3" r="0.95"/><circle cx="182.79" cy="196.67" r="0.95"/><circle cx="187.69" cy="191.51" r="0.95"/><circle cx="187.48" cy="193.67" r="0.95"/><circle cx="183.58" cy="213.01" r="0.95"/><circle cx="188.21" cy="190.8" r="0.95"/><circle cx="181.17" cy="208.01" r="0.95"/><circle cx="185.03" cy="195.68" r="0.95"/><circle cx="190.55" cy="183.55" r="0.95"/><circle cx="195.22" cy="169.86" r="0.95"/><circle cx="179.71" cy="203.57" r="0.95"/><circle cx="178.36" cy="207.43" r="0.95"/><circle cx="192.08" cy="182.84" r="0.95"/><circle cx="186.76" cy="196.36" r="0.95"/><circle cx="188.68" cy="180.08" r="0.95"/><circle cx="185.92" cy="210.53" r="0.95"/><circle cx="193.74" cy="164.99" r="0.95"/><circle cx="185.11" cy="208.85" r="0.95"/><circle cx="183.74" cy="209.95" r="0.95"/><circle cx="183.99" cy="199.28" r="0.95"/><circle cx="181.29" cy="213.57" r="0.95"/><circle cx="190.95" cy="184.04" r="0.95"/><circle cx="190.34" cy="184.66" r="0.95"/><circle cx="182.96" cy="200.22" r="0.95"/><circle cx="188.96" cy="191.47" r="0.95"/><circle cx="197.19" cy="169.21" r="0.95"/><circle cx="182.81" cy="203.95" r="0.95"/><circle cx="181.77" cy="195.05" r="0.95"/><circle cx="183.37" cy="201.28" r="0.95"/><circle cx="192.98" cy="178.68" r="0.95"/><circle cx="194.42" cy="178.31" r="0.95"/><circle cx="184.9" cy="200.9" r="0.95"/><circle cx="183.07" cy="202.93" r="0.95"/><circle cx="194.93" cy="166.27" r="0.95"/><circle cx="187.95" cy="182.52" r="0.95"/><circle cx="189.1" cy="192.33" r="0.95"/><circle cx="187" cy="206.24" r="0.95"/><circle cx="180.43" cy="211.45" r="0.95"/><circle cx="184.43" cy="203.84" r="0.95"/><circle cx="182.37" cy="205.14" r="0.95"/><circle cx="186.06" cy="196.34" r="0.95"/><circle cx="190.78" cy="185.07" r="0.95"/><circle cx="180.71" cy="211.32" r="0.95"/><circle cx="181.38" cy="208.83" r="0.95"/><circle cx="189.83" cy="189.74" r="0.95"/><circle cx="182.22" cy="213.33" r="0.95"/><circle cx="181.16" cy="207.09" r="0.95"/><circle cx="184.4" cy="202.54" r="0.95"/><circle cx="184.01" cy="194.82" r="0.95"/><circle cx="188.96" cy="177.09" r="0.95"/><circle cx="181.18" cy="209.99" r="0.95"/><circle cx="193.52" cy="174.56" r="0.95"/><circle cx="196.62" cy="175.85" r="0.95"/><circle cx="194.51" cy="175.74" r="0.95"/><circle cx="187.74" cy="189.56" r="0.95"/><circle cx="188.2" cy="181.2" r="0.95"/><circle cx="178.47" cy="214.47" r="0.95"/><circle cx="181.8" cy="215.79" r="0.95"/><circle cx="195.5" cy="172.67" r="0.95"/><circle cx="183.56" cy="201.59" r="0.95"/><circle cx="186.93" cy="192.69" r="0.95"/><circle cx="183.64" cy="213.92" r="0.95"/><circle cx="182.36" cy="202.27" r="0.95"/><circle cx="182.41" cy="215.09" r="0.95"/><circle cx="198.49" cy="163.82" r="0.95"/><circle cx="183.21" cy="213.46" r="0.95"/><circle cx="187.92" cy="187.38" r="0.95"/><circle cx="181.11" cy="203.32" r="0.95"/><circle cx="179.85" cy="211.77" r="0.95"/><circle cx="178.14" cy="213.56" r="0.95"/><circle cx="182.92" cy="208.17" r="0.95"/><circle cx="187.53" cy="202.88" r="0.95"/><circle cx="189.16" cy="180.63" r="0.95"/><circle cx="183.08" cy="196.74" r="0.95"/><circle cx="186.96" cy="202.98" r="0.95"/><circle cx="184.45" cy="210.5" r="0.95"/><circle cx="190.3" cy="183.87" r="0.95"/><circle cx="196.27" cy="172.97" r="0.95"/><circle cx="189.42" cy="184.83" r="0.95"/><circle cx="189.24" cy="189.95" r="0.95"/><circle cx="184.73" cy="204.71" r="0.95"/><circle cx="184.52" cy="194.83" r="0.95"/><circle cx="195.14" cy="168.22" r="0.95"/><circle cx="183.83" cy="193.2" r="0.95"/><circle cx="185.17" cy="207.96" r="0.95"/><circle cx="187.52" cy="187.61" r="0.95"/><circle cx="178.64" cy="212.79" r="0.95"/><circle cx="180.91" cy="211.88" r="0.95"/><circle cx="180.65" cy="213.23" r="0.95"/><circle cx="183.71" cy="210.93" r="0.95"/><circle cx="185.97" cy="202.6" r="0.95"/><circle cx="195.54" cy="161.8" r="0.95"/><circle cx="178.17" cy="212.58" r="0.95"/><circle cx="182.21" cy="213.58" r="0.95"/><circle cx="184.14" cy="205.75" r="0.95"/><circle cx="189.45" cy="198.02" r="0.95"/><circle cx="179.9" cy="206.43" r="0.95"/><circle cx="181.5" cy="210.43" r="0.95"/><circle cx="183.24" cy="201.93" r="0.95"/><circle cx="183.14" cy="210.8" r="0.95"/><circle cx="182.73" cy="215.51" r="0.95"/><circle cx="185.07" cy="206.7" r="0.95"/><circle cx="185.68" cy="213.65" r="0.95"/><circle cx="182.78" cy="213.31" r="0.95"/><circle cx="184.45" cy="204.33" r="0.95"/><circle cx="186.5" cy="201.35" r="0.95"/><circle cx="186.72" cy="204.47" r="0.95"/><circle cx="186.81" cy="198.71" r="0.95"/><circle cx="183.09" cy="205.77" r="0.95"/><circle cx="185.07" cy="202.91" r="0.95"/><circle cx="184.92" cy="193.81" r="0.95"/><circle cx="181.35" cy="199.96" r="0.95"/><circle cx="188.64" cy="201.58" r="0.95"/><circle cx="188" cy="189.02" r="0.95"/><circle cx="194.31" cy="172.88" r="0.95"/><circle cx="181.62" cy="210.88" r="0.95"/><circle cx="181.63" cy="198.91" r="0.95"/><circle cx="189.07" cy="187.79" r="0.95"/><circle cx="200.9" cy="163.96" r="0.95"/><circle cx="182.49" cy="214.42" r="0.95"/><circle cx="182" cy="206.31" r="0.95"/><circle cx="184.49" cy="201.45" r="0.95"/><circle cx="183.93" cy="192.37" r="0.95"/><circle cx="180.95" cy="208.53" r="0.95"/><circle cx="181.98" cy="207.16" r="0.95"/><circle cx="183.75" cy="215.28" r="0.95"/><circle cx="185.57" cy="195.37" r="0.95"/><circle cx="182.41" cy="208.76" r="0.95"/><circle cx="178.68" cy="205.67" r="0.95"/><circle cx="178.74" cy="209.51" r="0.95"/><circle cx="193.29" cy="172.38" r="0.95"/><circle cx="181.58" cy="213.34" r="0.95"/><circle cx="179.04" cy="213.23" r="0.95"/><circle cx="185.57" cy="194.11" r="0.95"/><circle cx="181.78" cy="215.49" r="0.95"/><circle cx="180.04" cy="215.67" r="0.95"/><circle cx="186.78" cy="192.11" r="0.95"/><circle cx="181.66" cy="207.8" r="0.95"/><circle cx="180.38" cy="212.09" r="0.95"/><circle cx="198.93" cy="171.1" r="0.95"/><circle cx="183.22" cy="205.09" r="0.95"/><circle cx="178.05" cy="212.02" r="0.95"/><circle cx="193.84" cy="175.7" r="0.95"/><circle cx="180.75" cy="209.78" r="0.95"/><circle cx="183.03" cy="209.64" r="0.95"/><circle cx="182.13" cy="195.14" r="0.95"/><circle cx="188.16" cy="203.34" r="0.95"/><circle cx="188.78" cy="194.6" r="0.95"/><circle cx="181.47" cy="200.81" r="0.95"/><circle cx="186.45" cy="189.77" r="0.95"/><circle cx="176.95" cy="209.66" r="0.95"/><circle cx="187.28" cy="211.71" r="0.95"/><circle cx="192.98" cy="195.29" r="0.95"/><circle cx="182.9" cy="206.19" r="0.95"/><circle cx="184.72" cy="210.3" r="0.95"/><circle cx="185.96" cy="199.44" r="0.95"/><circle cx="188.99" cy="204.53" r="0.95"/><circle cx="180.28" cy="201.28" r="0.95"/><circle cx="190.07" cy="196.62" r="0.95"/><circle cx="185.24" cy="192.07" r="0.95"/><circle cx="191.46" cy="192.19" r="0.95"/><circle cx="187.14" cy="191.03" r="0.95"/><circle cx="188.28" cy="195.56" r="0.95"/><circle cx="188.1" cy="205.88" r="0.95"/><circle cx="188.57" cy="193.02" r="0.95"/><circle cx="181.16" cy="208.43" r="0.95"/><circle cx="192.26" cy="193.33" r="0.95"/><circle cx="179.55" cy="206.93" r="0.95"/><circle cx="186.57" cy="209.28" r="0.95"/><circle cx="186.69" cy="199.86" r="0.95"/><circle cx="183.53" cy="211.15" r="0.95"/><circle cx="182.73" cy="204.57" r="0.95"/><circle cx="184.66" cy="208.89" r="0.95"/><circle cx="183.44" cy="206.91" r="0.95"/><circle cx="187.33" cy="198.77" r="0.95"/><circle cx="189.32" cy="203.77" r="0.95"/><circle cx="176.77" cy="203.64" r="0.95"/><circle cx="185.41" cy="202.81" r="0.95"/><circle cx="190.48" cy="191.23" r="0.95"/><circle cx="183.16" cy="200.95" r="0.95"/><circle cx="188.55" cy="191.05" r="0.95"/><circle cx="178.91" cy="212.11" r="0.95"/><circle cx="187.12" cy="193.37" r="0.95"/><circle cx="184.55" cy="210.28" r="0.95"/><circle cx="186.5" cy="205.07" r="0.95"/><circle cx="189.03" cy="199.07" r="0.95"/><circle cx="188.95" cy="203.62" r="0.95"/><circle cx="184.66" cy="208.5" r="0.95"/><circle cx="190.35" cy="196.14" r="0.95"/><circle cx="190.37" cy="198.83" r="0.95"/><circle cx="189.17" cy="201.6" r="0.95"/><circle cx="186.72" cy="198.06" r="0.95"/><circle cx="186.09" cy="203.16" r="0.95"/><circle cx="189.23" cy="197.82" r="0.95"/><circle cx="188.82" cy="204.3" r="0.95"/><circle cx="183.77" cy="206.4" r="0.95"/><circle cx="179.03" cy="206.41" r="0.95"/><circle cx="183.85" cy="203.65" r="0.95"/><circle cx="176.53" cy="205.06" r="0.95"/><circle cx="188.11" cy="194.97" r="0.95"/><circle cx="184.02" cy="202.96" r="0.95"/><circle cx="185.31" cy="200.4" r="0.95"/><circle cx="190.64" cy="190.91" r="0.95"/><circle cx="185.4" cy="201.1" r="0.95"/><circle cx="184.95" cy="202.64" r="0.95"/><circle cx="195.66" cy="153.91" r="0.95"/><circle cx="197.65" cy="154.26" r="0.95"/><circle cx="199.47" cy="153.96" r="0.95"/><circle cx="203.34" cy="154.47" r="0.95"/><circle cx="206.89" cy="154.04" r="0.95"/><circle cx="210.78" cy="154.4" r="0.95"/><circle cx="214.47" cy="154.59" r="0.95"/><circle cx="218.5" cy="154.13" r="0.95"/><circle cx="221.85" cy="154.26" r="0.95"/><circle cx="200.32" cy="158.62" r="0.95"/><circle cx="201.34" cy="160.11" r="0.95"/><circle cx="208.44" cy="165.81" r="0.95"/><circle cx="198.55" cy="165.69" r="0.95"/><circle cx="192.53" cy="168.57" r="0.95"/><circle cx="197.67" cy="170.03" r="0.95"/><circle cx="205.18" cy="172.27" r="0.95"/><circle cx="192.78" cy="173.23" r="0.95"/><circle cx="198.48" cy="174.44" r="0.95"/><circle cx="195.64" cy="176.66" r="0.95"/><circle cx="193.85" cy="178.42" r="0.95"/><circle cx="198.97" cy="177.99" r="0.95"/><circle cx="199.12" cy="182.73" r="0.95"/><circle cx="195.68" cy="185.15" r="0.95"/><circle cx="192" cy="182.51" r="0.95"/><circle cx="190.03" cy="184.31" r="0.95"/><circle cx="185.58" cy="185.32" r="0.95"/><circle cx="192.68" cy="188.46" r="0.95"/><circle cx="188.06" cy="190.07" r="0.95"/><circle cx="207.15" cy="192.25" r="0.95"/><circle cx="201.52" cy="195.83" r="0.95"/><circle cx="196.46" cy="196.14" r="0.95"/><circle cx="197.59" cy="199.46" r="0.95"/><circle cx="191.89" cy="202.74" r="0.95"/><circle cx="196.25" cy="204.73" r="0.95"/><circle cx="189.14" cy="204.34" r="0.95"/><circle cx="186.85" cy="218.47" r="0.95"/><circle cx="183.4" cy="222.34" r="0.95"/><circle cx="182.46" cy="225.75" r="0.95"/><circle cx="179.37" cy="187.99" r="0.95"/><circle cx="204.47" cy="156.55" r="0.95"/><circle cx="211.92" cy="156.15" r="0.95"/><circle cx="225.41" cy="153.96" r="0.95"/><circle cx="226.89" cy="155.47" r="0.95"/><circle cx="106.27" cy="153.48" r="0.95"/><circle cx="107.4" cy="153.64" r="0.95"/><circle cx="109.04" cy="153.67" r="0.95"/><circle cx="110.43" cy="153.79" r="0.95"/><circle cx="112.07" cy="153.68" r="0.95"/><circle cx="113.39" cy="153.59" r="0.95"/><circle cx="117.75" cy="153.71" r="0.95"/><circle cx="128.83" cy="153.72" r="0.95"/><circle cx="128.56" cy="155.16" r="0.95"/><circle cx="133.81" cy="155.01" r="0.95"/><circle cx="130.78" cy="158.79" r="0.95"/><circle cx="131.64" cy="165.4" r="0.95"/><circle cx="123.39" cy="169.02" r="0.95"/><circle cx="131.09" cy="168.88" r="0.95"/><circle cx="119" cy="171.94" r="0.95"/><circle cx="120.08" cy="174.72" r="0.95"/><circle cx="127.07" cy="177.67" r="0.95"/><circle cx="137.02" cy="180.89" r="0.95"/><circle cx="117.92" cy="183.79" r="0.95"/><circle cx="121.41" cy="183.88" r="0.95"/><circle cx="131.01" cy="183.2" r="0.95"/><circle cx="113.24" cy="186.61" r="0.95"/><circle cx="110.07" cy="188.93" r="0.95"/><circle cx="127.21" cy="187.24" r="0.95"/><circle cx="135.77" cy="185.85" r="0.95"/><circle cx="138.3" cy="188" r="0.95"/><circle cx="140.97" cy="189.96" r="0.95"/><circle cx="137.9" cy="190.91" r="0.95"/><circle cx="123.36" cy="190.28" r="0.95"/><circle cx="123.94" cy="192.14" r="0.95"/><circle cx="132.74" cy="192.1" r="0.95"/><circle cx="133.66" cy="190.87" r="0.95"/><circle cx="121.87" cy="194.93" r="0.95"/><circle cx="129.58" cy="197.13" r="0.95"/><circle cx="133.25" cy="196" r="0.95"/><circle cx="136.35" cy="196.62" r="0.95"/><circle cx="140.23" cy="196.82" r="0.95"/><circle cx="107.7" cy="200.02" r="0.95"/><circle cx="127.07" cy="199.04" r="0.95"/><circle cx="128.17" cy="200.83" r="0.95"/><circle cx="137.26" cy="200.58" r="0.95"/><circle cx="138.89" cy="201.56" r="0.95"/><circle cx="140.88" cy="202.69" r="0.95"/><circle cx="142.86" cy="204.1" r="0.95"/><circle cx="129.07" cy="204.21" r="0.95"/><circle cx="139.91" cy="205.97" r="0.95"/><circle cx="127.02" cy="207.68" r="0.95"/><circle cx="127.56" cy="208.74" r="0.95"/><circle cx="131.9" cy="207.72" r="0.95"/><circle cx="134.87" cy="208.3" r="0.95"/><circle cx="135.65" cy="209.77" r="0.95"/><circle cx="142.04" cy="209.15" r="0.95"/><circle cx="144.03" cy="209.94" r="0.95"/><circle cx="133.76" cy="212.93" r="0.95"/><circle cx="135.26" cy="215.34" r="0.95"/><circle cx="141.28" cy="214.65" r="0.95"/><circle cx="139.55" cy="219.83" r="0.95"/><circle cx="145.36" cy="218.13" r="0.95"/><circle cx="147.8" cy="214.57" r="0.95"/><circle cx="145.18" cy="217.95" r="0.95"/><circle cx="146.59" cy="222.33" r="0.95"/><circle cx="138.31" cy="220.98" r="0.95"/><circle cx="144.64" cy="213.35" r="0.95"/><circle cx="138.55" cy="218.27" r="0.95"/><circle cx="146.73" cy="214.37" r="0.95"/><circle cx="137.54" cy="219.86" r="0.95"/><circle cx="138.49" cy="220.73" r="0.95"/><circle cx="141.29" cy="221.78" r="0.95"/><circle cx="147.5" cy="216.68" r="0.95"/><circle cx="142.71" cy="214.4" r="0.95"/><circle cx="145.82" cy="211.67" r="0.95"/><circle cx="141.3" cy="218.18" r="0.95"/><circle cx="141.51" cy="222.84" r="0.95"/><circle cx="141.42" cy="214.22" r="0.95"/><circle cx="148.44" cy="211.78" r="0.95"/><circle cx="144.61" cy="214.35" r="0.95"/><circle cx="136.81" cy="219.16" r="0.95"/><circle cx="140.72" cy="215.09" r="0.95"/><circle cx="137.77" cy="218.57" r="0.95"/><circle cx="142.55" cy="212.77" r="0.95"/><circle cx="146.56" cy="214.07" r="0.95"/><circle cx="138.3" cy="215.78" r="0.95"/><circle cx="147.48" cy="214.95" r="0.95"/><circle cx="140.65" cy="216.34" r="0.95"/><circle cx="138.16" cy="216.29" r="0.95"/><circle cx="148.46" cy="215.44" r="0.95"/><circle cx="145.07" cy="211.77" r="0.95"/><circle cx="138.9" cy="214.28" r="0.95"/><circle cx="143.98" cy="220.07" r="0.95"/><circle cx="137.5" cy="219.49" r="0.95"/><circle cx="143.46" cy="213.59" r="0.95"/><circle cx="140.54" cy="213.06" r="0.95"/><circle cx="140.87" cy="216.84" r="0.95"/><circle cx="137.97" cy="214.87" r="0.95"/><circle cx="138.02" cy="215.13" r="0.95"/><circle cx="142.98" cy="215.2" r="0.95"/><circle cx="143.19" cy="218.82" r="0.95"/><circle cx="147.4" cy="209.38" r="0.95"/><circle cx="146.42" cy="214.35" r="0.95"/><circle cx="137.95" cy="215.66" r="0.95"/><circle cx="140.09" cy="213.54" r="0.95"/><circle cx="139.44" cy="216.44" r="0.95"/><circle cx="146.7" cy="220.44" r="0.95"/><circle cx="143.19" cy="221.88" r="0.95"/><circle cx="136.82" cy="220.25" r="0.95"/><circle cx="148.47" cy="209.7" r="0.95"/><circle cx="144.34" cy="218.43" r="0.95"/><circle cx="144.59" cy="213.05" r="0.95"/><circle cx="141.1" cy="215.44" r="0.95"/><circle cx="146.24" cy="224.49" r="0.95"/><circle cx="139.04" cy="217.5" r="0.95"/><circle cx="138.23" cy="218.31" r="0.95"/><circle cx="143.47" cy="220.14" r="0.95"/><circle cx="142.73" cy="218.95" r="0.95"/><circle cx="143.23" cy="218" r="0.95"/><circle cx="144.29" cy="223.14" r="0.95"/><circle cx="144.57" cy="220.84" r="0.95"/><circle cx="148.24" cy="214.24" r="0.95"/><circle cx="142.28" cy="216.81" r="0.95"/><circle cx="144.13" cy="213.53" r="0.95"/><circle cx="145.58" cy="212.64" r="0.95"/><circle cx="142.41" cy="210.82" r="0.95"/><circle cx="146.72" cy="211.25" r="0.95"/><circle cx="141.57" cy="217" r="0.95"/><circle cx="143.4" cy="211.47" r="0.95"/><circle cx="143" cy="215.66" r="0.95"/><circle cx="141.67" cy="212.2" r="0.95"/><circle cx="140.45" cy="221.8" r="0.95"/><circle cx="145.2" cy="210.92" r="0.95"/><circle cx="145.37" cy="214.43" r="0.95"/><circle cx="145.54" cy="218.36" r="0.95"/><circle cx="143.57" cy="222.22" r="0.95"/><circle cx="137.94" cy="217.96" r="0.95"/><circle cx="142.52" cy="217.11" r="0.95"/><circle cx="137.24" cy="216.85" r="0.95"/><circle cx="142.98" cy="219.3" r="0.95"/><circle cx="140.24" cy="217.7" r="0.95"/><circle cx="139.42" cy="221.49" r="0.95"/><circle cx="147.57" cy="209.84" r="0.95"/><circle cx="144.64" cy="211.53" r="0.95"/><circle cx="141.47" cy="213.23" r="0.95"/><circle cx="139.14" cy="215.37" r="0.95"/><circle cx="143.28" cy="211.51" r="0.95"/><circle cx="137.65" cy="216.11" r="0.95"/><circle cx="138.13" cy="217.41" r="0.95"/><circle cx="148.03" cy="225.67" r="0.95"/><circle cx="139.37" cy="218.96" r="0.95"/><circle cx="140.31" cy="221.87" r="0.95"/><circle cx="147.38" cy="211.41" r="0.95"/><circle cx="141.43" cy="217.66" r="0.95"/><circle cx="143.6" cy="222.63" r="0.95"/><circle cx="137.02" cy="216.07" r="0.95"/><circle cx="140.34" cy="216.58" r="0.95"/><circle cx="147.85" cy="209.38" r="0.95"/><circle cx="142.08" cy="219.62" r="0.95"/><circle cx="140.22" cy="213.38" r="0.95"/><circle cx="147.46" cy="220.5" r="0.95"/><circle cx="146.65" cy="217.61" r="0.95"/><circle cx="142.23" cy="220.02" r="0.95"/><circle cx="147.15" cy="209.45" r="0.95"/><circle cx="138.94" cy="216.17" r="0.95"/><circle cx="138.88" cy="214.63" r="0.95"/><circle cx="137.1" cy="220.67" r="0.95"/><circle cx="145.28" cy="218.31" r="0.95"/><circle cx="147.54" cy="210.9" r="0.95"/></g>
<g fill="#00008b" fill-opacity="0.92"><circle cx="152.66" cy="224.69" r="0.95"/><circle cx="158.7" cy="222.91" r="0.95"/><circle cx="176.86" cy="202.99" r="0.95"/><circle cx="177.19" cy="203.5" r="0.95"/><circle cx="174.44" cy="208.47" r="0.95"/><circle cx="149.21" cy="224.09" r="0.95"/><circle cx="166.38" cy="220.84" r="0.95"/><circle cx="167.04" cy="220.87" r="0.95"/><circle cx="176.69" cy="224" r="0.95"/><circle cx="164.23" cy="220.44" r="0.95"/><circle cx="149.56" cy="225.56" r="0.95"/><circle cx="174.76" cy="207.52" r="0.95"/><circle cx="149.32" cy="225.87" r="0.95"/><circle cx="173.58" cy="214.16" r="0.95"/><circle cx="164.24" cy="222.64" r="0.95"/><circle cx="171.4" cy="214.71" r="0.95"/><circle cx="148.62" cy="225.74" r="0.95"/><circle cx="172.5" cy="210.96" r="0.95"/><circle cx="173.68" cy="218.91" r="0.95"/><circle cx="158.7" cy="224.47" r="0.95"/><circle cx="149.05" cy="223.01" r="0.95"/><circle cx="156.49" cy="223.52" r="0.95"/><circle cx="164.44" cy="224.02" r="0.95"/><circle cx="168.91" cy="221.1" r="0.95"/><circle cx="155.66" cy="222.28" r="0.95"/><circle cx="153.89" cy="225.35" r="0.95"/><circle cx="156.23" cy="223.98" r="0.95"/><circle cx="172.19" cy="221" r="0.95"/><circle cx="155.77" cy="223.24" r="0.95"/><circle cx="156.43" cy="223.79" r="0.95"/><circle cx="156.27" cy="222.3" r="0.95"/><circle cx="154.15" cy="225" r="0.95"/><circle cx="157.67" cy="224.57" r="0.95"/><circle cx="170.47" cy="217.39" r="0.95"/><circle cx="172.39" cy="217.75" r="0.95"/><circle cx="150.97" cy="222.78" r="0.95"/><circle cx="155.96" cy="225.08" r="0.95"/><circle cx="161.07" cy="221.3" r="0.95"/><circle cx="159.76" cy="224.4" r="0.95"/><circle cx="176.02" cy="204.49" r="0.95"/><circle cx="160.25" cy="225.38" r="0.95"/><circle cx="172.37" cy="214.08" r="0.95"/><circle cx="158.78" cy="222.52" r="0.95"/><circle cx="160.02" cy="224.71" r="0.95"/><circle cx="166.46" cy="220.35" r="0.95"/><circle cx="162.92" cy="221.76" r="0.95"/><circle cx="149.02" cy="224.07" r="0.95"/><circle cx="160.05" cy="225.71" r="0.95"/><circle cx="176.13" cy="222.85" r="0.95"/><circle cx="154.79" cy="222.26" r="0.95"/><circle cx="177.51" cy="202.7" r="0.95"/><circle cx="158.89" cy="221.89" r="0.95"/><circle cx="152.87" cy="222.89" r="0.95"/><circle cx="177.06" cy="221.37" r="0.95"/><circle cx="152.68" cy="223.04" r="0.95"/><circle cx="175.16" cy="211.44" r="0.95"/><circle cx="177.17" cy="214.99" r="0.95"/><circle cx="159.81" cy="225.46" r="0.95"/><circle cx="156.82" cy="222" r="0.95"/><circle cx="150.76" cy="225.23" r="0.95"/><circle cx="159.06" cy="225.78" r="0.95"/><circle cx="157.84" cy="225.21" r="0.95"/><circle cx="152.3" cy="223.69" r="0.95"/><circle cx="164.86" cy="222.54" r="0.95"/><circle cx="171.54" cy="218.54" r="0.95"/><circle cx="177.11" cy="224.03" r="0.95"/><circle cx="155.31" cy="225.68" r="0.95"/><circle cx="157.91" cy="222.7" r="0.95"/><circle cx="176.42" cy="214.62" r="0.95"/><circle cx="153.43" cy="224.57" r="0.95"/><circle cx="165.71" cy="224.04" r="0.95"/><circle cx="172.46" cy="211.06" r="0.95"/><circle cx="162.44" cy="222.94" r="0.95"/><circle cx="174.06" cy="217.6" r="0.95"/><circle cx="154.34" cy="221.96" r="0.95"/><circle cx="178.04" cy="225.37" r="0.95"/><circle cx="171.56" cy="220.32" r="0.95"/><circle cx="150.16" cy="225.34" r="0.95"/><circle cx="153.81" cy="222.83" r="0.95"/><circle cx="154.97" cy="225.92" r="0.95"/><circle cx="155.21" cy="222.61" r="0.95"/><circle cx="163.63" cy="222.41" r="0.95"/><circle cx="162.6" cy="225.07" r="0.95"/><circle cx="149.06" cy="224.82" r="0.95"/><circle cx="149.85" cy="224.95" r="0.95"/><circle cx="167.22" cy="222.82" r="0.95"/><circle cx="162.84" cy="222.78" r="0.95"/><circle cx="158.14" cy="224.45" r="0.95"/><circle cx="175.2" cy="214.32" r="0.95"/><circle cx="161.15" cy="223.42" r="0.95"/><circle cx="162.46" cy="224.31" r="0.95"/><circle cx="176.1" cy="220.89" r="0.95"/><circle cx="176.77" cy="206.06" r="0.95"/><circle cx="175.15" cy="222.75" r="0.95"/><circle cx="163.92" cy="220.45" r="0.95"/><circle cx="157.29" cy="225.27" r="0.95"/><circle cx="170.37" cy="223.03" r="0.95"/><circle cx="166.17" cy="224.86" r="0.95"/><circle cx="177.12" cy="219.14" r="0.95"/><circle cx="151.52" cy="223.03" r="0.95"/><circle cx="159.05" cy="223.52" r="0.95"/><circle cx="163.57" cy="220.95" r="0.95"/><circle cx="164.08" cy="223.83" r="0.95"/><circle cx="148.65" cy="224.11" r="0.95"/><circle cx="156.7" cy="223.56" r="0.95"/><circle cx="167.62" cy="221.79" r="0.95"/><circle cx="151.31" cy="223.87" r="0.95"/><circle cx="163.1" cy="222.63" r="0.95"/><circle cx="177.8" cy="218.86" r="0.95"/><circle cx="161.93" cy="225.58" r="0.95"/><circle cx="172.68" cy="222.33" r="0.95"/><circle cx="173.55" cy="212.31" r="0.95"/><circle cx="156.26" cy="222.19" r="0.95"/><circle cx="163.77" cy="223.63" r="0.95"/><circle cx="165.31" cy="220.03" r="0.95"/><circle cx="163.35" cy="223.41" r="0.95"/><circle cx="157.35" cy="222.38" r="0.95"/><circle cx="163.74" cy="224.1" r="0.95"/><circle cx="154.51" cy="225.08" r="0.95"/><circle cx="173.71" cy="212" r="0.95"/><circle cx="178.06" cy="202.22" r="0.95"/><circle cx="169.22" cy="217.1" r="0.95"/><circle cx="170.02" cy="216.13" r="0.95"/><circle cx="172.72" cy="223.23" r="0.95"/><circle cx="173.12" cy="221.03" r="0.95"/><circle cx="155.95" cy="222.14" r="0.95"/><circle cx="149.29" cy="223.99" r="0.95"/><circle cx="158.93" cy="222.5" r="0.95"/><circle cx="166.98" cy="218.45" r="0.95"/><circle cx="176.67" cy="211.08" r="0.95"/><circle cx="150.54" cy="223.24" r="0.95"/><circle cx="151.89" cy="221.7" r="0.95"/><circle cx="174.83" cy="219.96" r="0.95"/><circle cx="154.2" cy="223.02" r="0.95"/><circle cx="171.42" cy="212.2" r="0.95"/><circle cx="167.35" cy="224.9" r="0.95"/><circle cx="170.47" cy="225.25" r="0.95"/><circle cx="174.72" cy="211.21" r="0.95"/><circle cx="172.24" cy="212.83" r="0.95"/><circle cx="165.73" cy="219.68" r="0.95"/><circle cx="167.84" cy="221.38" r="0.95"/><circle cx="160.17" cy="224.4" r="0.95"/><circle cx="149.29" cy="225.37" r="0.95"/><circle cx="172.55" cy="222.46" r="0.95"/><circle cx="168.27" cy="218.29" r="0.95"/><circle cx="169.5" cy="220.06" r="0.95"/><circle cx="158.11" cy="224.81" r="0.95"/><circle cx="154.24" cy="223.22" r="0.95"/><circle cx="169.26" cy="215.44" r="0.95"/><circle cx="158.55" cy="221.93" r="0.95"/><circle cx="176.04" cy="219.68" r="0.95"/><circle cx="177.26" cy="210.85" r="0.95"/><circle cx="177.57" cy="206.55" r="0.95"/><circle cx="158.63" cy="224.77" r="0.95"/><circle cx="164.33" cy="223.15" r="0.95"/><circle cx="149.67" cy="222.56" r="0.95"/><circle cx="164.72" cy="223.15" r="0.95"/><circle cx="171.01" cy="222.63" r="0.95"/><circle cx="154.6" cy="223.52" r="0.95"/><circle cx="155.86" cy="224.62" r="0.95"/><circle cx="150.71" cy="225.78" r="0.95"/><circle cx="159.29" cy="223.66" r="0.95"/><circle cx="177.16" cy="210.49" r="0.95"/><circle cx="161.07" cy="224.07" r="0.95"/><circle cx="155.69" cy="224" r="0.95"/><circle cx="177.47" cy="222.96" r="0.95"/><circle cx="161.63" cy="222.65" r="0.95"/><circle cx="171.55" cy="218.13" r="0.95"/><circle cx="167.9" cy="217.12" r="0.95"/><circle cx="175.77" cy="220.69" r="0.95"/><circle cx="164.89" cy="219.91" r="0.95"/><circle cx="164.48" cy="224.88" r="0.95"/><circle cx="171.66" cy="225.18" r="0.95"/><circle cx="153.12" cy="223.61" r="0.95"/><circle cx="156.8" cy="222.93" r="0.95"/><circle cx="170.48" cy="221.92" r="0.95"/><circle cx="171.69" cy="216.7" r="0.95"/><circle cx="169.85" cy="220.53" r="0.95"/><circle cx="161.62" cy="225.48" r="0.95"/><circle cx="162.89" cy="221.06" r="0.95"/><circle cx="175.34" cy="224.86" r="0.95"/><circle cx="150.74" cy="224.87" r="0.95"/><circle cx="169.5" cy="220.96" r="0.95"/><circle cx="152.45" cy="224.14" r="0.95"/><circle cx="165.85" cy="220.9" r="0.95"/><circle cx="160.73" cy="222.97" r="0.95"/><circle cx="169.11" cy="219.22" r="0.95"/><circle cx="150" cy="223.12" r="0.95"/><circle cx="152.47" cy="225.76" r="0.95"/><circle cx="162.86" cy="225.91" r="0.95"/><circle cx="150.79" cy="224.36" r="0.95"/><circle cx="162.7" cy="225.46" r="0.95"/><circle cx="177.31" cy="205.06" r="0.95"/><circle cx="163.25" cy="222.87" r="0.95"/><circle cx="158.1" cy="221.71" r="0.95"/><circle cx="152.21" cy="224.66" r="0.95"/><circle cx="155.25" cy="222.33" r="0.95"/><circle cx="163.92" cy="223.69" r="0.95"/><circle cx="160.6" cy="221.88" r="0.95"/><circle cx="156.35" cy="222.66" r="0.95"/><circle cx="169.91" cy="220.59" r="0.95"/><circle cx="159.61" cy="224.05" r="0.95"/><circle cx="162.24" cy="224.42" r="0.95"/><circle cx="167.38" cy="222.38" r="0.95"/><circle cx="157.74" cy="222.65" r="0.95"/><circle cx="162.3" cy="223.61" r="0.95"/><circle cx="175.07" cy="216.96" r="0.95"/><circle cx="159.92" cy="221.96" r="0.95"/><circle cx="177.99" cy="205.72" r="0.95"/><circle cx="160.68" cy="222.87" r="0.95"/><circle cx="170.9" cy="222.05" r="0.95"/><circle cx="170.39" cy="213.96" r="0.95"/><circle cx="168.34" cy="219.29" r="0.95"/><circle cx="161.7" cy="222.8" r="0.95"/><circle cx="155.4" cy="222.74" r="0.95"/><circle cx="164.83" cy="220.04" r="0.95"/><circle cx="158.89" cy="222.86" r="0.95"/><circle cx="149.1" cy="224.38" r="0.95"/><circle cx="171.67" cy="222.28" r="0.95"/><circle cx="167.07" cy="224.14" r="0.95"/><circle cx="160.59" cy="221.39" r="0.95"/><circle cx="154.52" cy="222.1" r="0.95"/><circle cx="150.4" cy="223.6" r="0.95"/><circle cx="173.32" cy="211.99" r="0.95"/><circle cx="160.38" cy="223.29" r="0.95"/><circle cx="170.03" cy="216.7" r="0.95"/><circle cx="171.07" cy="218.15" r="0.95"/><circle cx="156.17" cy="223.03" r="0.95"/><circle cx="165.49" cy="222.52" r="0.95"/><circle cx="178.31" cy="222.4" r="0.95"/><circle cx="172.1" cy="221.16" r="0.95"/><circle cx="170.47" cy="213.86" r="0.95"/><circle cx="156.86" cy="223.58" r="0.95"/><circle cx="164.5" cy="223.07" r="0.95"/><circle cx="153.63" cy="223.3" r="0.95"/><circle cx="175.49" cy="212.32" r="0.95"/><circle cx="157.3" cy="222.54" r="0.95"/><circle cx="161.24" cy="225.3" r="0.95"/><circle cx="166.84" cy="222.27" r="0.95"/><circle cx="164.55" cy="220.11" r="0.95"/><circle cx="165.74" cy="219.6" r="0.95"/><circle cx="159.21" cy="222.63" r="0.95"/><circle cx="150.87" cy="224.74" r="0.95"/><circle cx="169.43" cy="218.11" r="0.95"/><circle cx="173.54" cy="219.49" r="0.95"/><circle cx="156.84" cy="224.47" r="0.95"/><circle cx="164.77" cy="225.85" r="0.95"/><circle cx="159.87" cy="223.05" r="0.95"/><circle cx="153.07" cy="224.65" r="0.95"/><circle cx="174.87" cy="207.79" r="0.95"/><circle cx="156.12" cy="225.25" r="0.95"/><circle cx="152.14" cy="225.62" r="0.95"/><circle cx="172.5" cy="214.61" r="0.95"/><circle cx="156.56" cy="223.93" r="0.95"/><circle cx="169.53" cy="225.68" r="0.95"/><circle cx="173.25" cy="211.73" r="0.95"/><circle cx="154.96" cy="223.01" r="0.95"/><circle cx="169.65" cy="222.05" r="0.95"/><circle cx="175.04" cy="221.67" r="0.95"/><circle cx="162.86" cy="224.38" r="0.95"/><circle cx="161.9" cy="221.98" r="0.95"/><circle cx="165.76" cy="221.9" r="0.95"/><circle cx="178.31" cy="220.11" r="0.95"/><circle cx="155.3" cy="223.38" r="0.95"/><circle cx="153.12" cy="221.81" r="0.95"/><circle cx="158.87" cy="224.06" r="0.95"/><circle cx="161.58" cy="221.97" r="0.95"/><circle cx="176.15" cy="211.1" r="0.95"/><circle cx="153.76" cy="224.47" r="0.95"/><circle cx="169.86" cy="223.41" r="0.95"/><circle cx="175.17" cy="208.51" r="0.95"/><circle cx="155.42" cy="224.46" r="0.95"/><circle cx="155.49" cy="222.96" r="0.95"/><circle cx="150.02" cy="223.18" r="0.95"/><circle cx="150.49" cy="222.52" r="0.95"/><circle cx="164.95" cy="222.42" r="0.95"/><circle cx="151.47" cy="225.81" r="0.95"/><circle cx="159.23" cy="221.63" r="0.95"/><circle cx="166.66" cy="219.2" r="0.95"/><circle cx="150.49" cy="225.58" r="0.95"/><circle cx="149.23" cy="223.27" r="0.95"/><circle cx="153.91" cy="224.83" r="0.95"/><circle cx="168.68" cy="218.72" r="0.95"/><circle cx="158.3" cy="223.96" r="0.95"/><circle cx="157.3" cy="223.59" r="0.95"/><circle cx="159.31" cy="224.4" r="0.95"/><circle cx="156.09" cy="224.77" r="0.95"/><circle cx="156.45" cy="225.93" r="0.95"/><circle cx="157.94" cy="223.43" r="0.95"/><circle cx="156.69" cy="225.52" r="0.95"/><circle cx="174.07" cy="217.52" r="0.95"/><circle cx="164" cy="224.23" r="0.95"/><circle cx="175.3" cy="210.7" r="0.95"/><circle cx="167.34" cy="220.23" r="0.95"/><circle cx="169.44" cy="220.27" r="0.95"/><circle cx="161.04" cy="224.15" r="0.95"/><circle cx="163.77" cy="223.39" r="0.95"/><circle cx="164.52" cy="222.84" r="0.95"/><circle cx="172.34" cy="212.43" r="0.95"/><circle cx="155.34" cy="225.91" r="0.95"/><circle cx="157.66" cy="225.86" r="0.95"/><circle cx="172.57" cy="216.38" r="0.95"/><circle cx="157.19" cy="225.18" r="0.95"/><circle cx="174.75" cy="209.87" r="0.95"/><circle cx="169.18" cy="218.32" r="0.95"/><circle cx="171.01" cy="219.87" r="0.95"/><circle cx="160.56" cy="223.44" r="0.95"/><circle cx="175.1" cy="206.25" r="0.95"/><circle cx="176.2" cy="207.52" r="0.95"/><circle cx="150.84" cy="224.96" r="0.95"/><circle cx="177.83" cy="212.12" r="0.95"/><circle cx="164.1" cy="224.23" r="0.95"/><circle cx="174.55" cy="216.22" r="0.95"/><circle cx="178.41" cy="224" r="0.95"/><circle cx="178.5" cy="225.64" r="0.95"/><circle cx="153.06" cy="224.31" r="0.95"/><circle cx="167.85" cy="224.96" r="0.95"/><circle cx="165.53" cy="219.95" r="0.95"/><circle cx="161.71" cy="222.27" r="0.95"/><circle cx="166.42" cy="221.59" r="0.95"/><circle cx="153.81" cy="224" r="0.95"/><circle cx="175.7" cy="211.84" r="0.95"/><circle cx="155.13" cy="224.1" r="0.95"/><circle cx="164.96" cy="223.93" r="0.95"/><circle cx="165.99" cy="221.56" r="0.95"/><circle cx="149.14" cy="225.14" r="0.95"/><circle cx="168.37" cy="223.84" r="0.95"/><circle cx="150.79" cy="222.81" r="0.95"/><circle cx="158.65" cy="221.79" r="0.95"/><circle cx="165.42" cy="225.36" r="0.95"/><circle cx="167.77" cy="223.56" r="0.95"/><circle cx="173.11" cy="214.15" r="0.95"/><circle cx="171.43" cy="225.2" r="0.95"/><circle cx="149.63" cy="222.82" r="0.95"/><circle cx="152.83" cy="225.12" r="0.95"/><circle cx="149.5" cy="225.35" r="0.95"/><circle cx="162.86" cy="221.05" r="0.95"/><circle cx="158.27" cy="224.87" r="0.95"/><circle cx="173.52" cy="222.85" r="0.95"/><circle cx="167.72" cy="220.32" r="0.95"/><circle cx="176.75" cy="224.98" r="0.95"/><circle cx="165.55" cy="223.52" r="0.95"/><circle cx="173.39" cy="221.75" r="0.95"/><circle cx="170.12" cy="223.72" r="0.95"/><circle cx="163.5" cy="220.73" r="0.95"/><circle cx="155.82" cy="224.83" r="0.95"/><circle cx="176.22" cy="211.06" r="0.95"/><circle cx="150.58" cy="225.23" r="0.95"/><circle cx="155.74" cy="224.78" r="0.95"/><circle cx="174.02" cy="213.4" r="0.95"/><circle cx="178.09" cy="208.6" r="0.95"/><circle cx="167.5" cy="222.57" r="0.95"/><circle cx="170.19" cy="219.87" r="0.95"/><circle cx="150.37" cy="223.98" r="0.95"/><circle cx="160.16" cy="223.59" r="0.95"/><circle cx="150.07" cy="225.89" r="0.95"/><circle cx="178.18" cy="216.3" r="0.95"/><circle cx="158.53" cy="225.35" r="0.95"/><circle cx="166.43" cy="219.05" r="0.95"/><circle cx="154.03" cy="223.85" r="0.95"/><circle cx="163.64" cy="221.78" r="0.95"/><circle cx="165.61" cy="224.44" r="0.95"/><circle cx="154.31" cy="222.9" r="0.95"/><circle cx="150.95" cy="222.36" r="0.95"/><circle cx="149.61" cy="225.25" r="0.95"/><circle cx="162.68" cy="221.67" r="0.95"/><circle cx="167.25" cy="219.56" r="0.95"/><circle cx="171.51" cy="215.8" r="0.95"/><circle cx="150.15" cy="222.64" r="0.95"/><circle cx="153.05" cy="225.29" r="0.95"/><circle cx="149.73" cy="225.89" r="0.95"/><circle cx="175" cy="218.48" r="0.95"/><circle cx="151.2" cy="225.8" r="0.95"/><circle cx="174.08" cy="215.12" r="0.95"/><circle cx="176.18" cy="225.18" r="0.95"/><circle cx="151.99" cy="224.74" r="0.95"/><circle cx="154.35" cy="225.52" r="0.95"/><circle cx="154.64" cy="223.27" r="0.95"/><circle cx="153.66" cy="225.27" r="0.95"/><circle cx="164.72" cy="223.74" r="0.95"/><circle cx="153.1" cy="223.53" r="0.95"/><circle cx="163.89" cy="223.82" r="0.95"/><circle cx="162.88" cy="225.79" r="0.95"/><circle cx="167.11" cy="224.36" r="0.95"/><circle cx="158.71" cy="225.96" r="0.95"/><circle cx="175.32" cy="214.06" r="0.95"/><circle cx="160.4" cy="223.51" r="0.95"/><circle cx="176.89" cy="222.88" r="0.95"/><circle cx="160.14" cy="222.79" r="0.95"/><circle cx="159.8" cy="222.83" r="0.95"/><circle cx="175.94" cy="225.12" r="0.95"/><circle cx="157.16" cy="224.74" r="0.95"/><circle cx="171.18" cy="215.25" r="0.95"/><circle cx="169.65" cy="215.16" r="0.95"/><circle cx="154.19" cy="224.31" r="0.95"/><circle cx="174.27" cy="211.88" r="0.95"/><circle cx="151.99" cy="221.69" r="0.95"/><circle cx="170.89" cy="214.47" r="0.95"/><circle cx="159.5" cy="223.3" r="0.95"/><circle cx="177.46" cy="203.64" r="0.95"/><circle cx="165.97" cy="219.77" r="0.95"/><circle cx="178.67" cy="203.38" r="0.95"/><circle cx="168.34" cy="216.37" r="0.95"/><circle cx="152.93" cy="224.24" r="0.95"/><circle cx="165.58" cy="225.14" r="0.95"/><circle cx="172.1" cy="225.07" r="0.95"/><circle cx="167.53" cy="223.49" r="0.95"/><circle cx="158.32" cy="223.35" r="0.95"/><circle cx="154.36" cy="224.08" r="0.95"/><circle cx="174.4" cy="207.57" r="0.95"/><circle cx="156.5" cy="224.45" r="0.95"/><circle cx="169.48" cy="223.82" r="0.95"/><circle cx="174.16" cy="222.38" r="0.95"/><circle cx="165.36" cy="223.85" r="0.95"/><circle cx="148.63" cy="226" r="0.95"/><circle cx="148.66" cy="224.75" r="0.95"/><circle cx="156.88" cy="221.77" r="0.95"/><circle cx="167.79" cy="225.39" r="0.95"/><circle cx="170.15" cy="223.13" r="0.95"/><circle cx="163.09" cy="222.21" r="0.95"/><circle cx="174.39" cy="208.56" r="0.95"/><circle cx="161.27" cy="224.48" r="0.95"/><circle cx="160.56" cy="224.55" r="0.95"/><circle cx="170.92" cy="219.81" r="0.95"/><circle cx="169.23" cy="224.3" r="0.95"/><circle cx="172.16" cy="211.52" r="0.95"/><circle cx="154.71" cy="223.37" r="0.95"/><circle cx="153.48" cy="225.85" r="0.95"/><circle cx="161.06" cy="225.13" r="0.95"/><circle cx="170.59" cy="218.59" r="0.95"/><circle cx="168.9" cy="215.6" r="0.95"/><circle cx="150.35" cy="225.6" r="0.95"/><circle cx="149.68" cy="224.17" r="0.95"/><circle cx="173.42" cy="214.44" r="0.95"/><circle cx="165.09" cy="220.69" r="0.95"/><circle cx="159.8" cy="225.49" r="0.95"/><circle cx="167.91" cy="225.76" r="0.95"/><circle cx="155.5" cy="225.87" r="0.95"/><circle cx="153.46" cy="225.72" r="0.95"/><circle cx="164.6" cy="225.24" r="0.95"/><circle cx="166.76" cy="219.4" r="0.95"/><circle cx="158.97" cy="225.47" r="0.95"/><circle cx="168.8" cy="218.26" r="0.95"/><circle cx="175.21" cy="214.85" r="0.95"/><circle cx="166.12" cy="219.79" r="0.95"/><circle cx="168.98" cy="215.42" r="0.95"/><circle cx="157.24" cy="222.68" r="0.95"/><circle cx="167.65" cy="221.72" r="0.95"/><circle cx="148.92" cy="224.16" r="0.95"/><circle cx="156.53" cy="223.45" r="0.95"/><circle cx="163.93" cy="223.12" r="0.95"/><circle cx="150.37" cy="225.46" r="0.95"/><circle cx="166.87" cy="220.44" r="0.95"/><circle cx="178.42" cy="204.97" r="0.95"/><circle cx="157.33" cy="224.04" r="0.95"/><circle cx="163.82" cy="221.5" r="0.95"/><circle cx="160.48" cy="221.76" r="0.95"/><circle cx="163.17" cy="223.9" r="0.95"/><circle cx="163.04" cy="224.13" r="0.95"/><circle cx="178.69" cy="224.75" r="0.95"/><circle cx="160.63" cy="225.63" r="0.95"/><circle cx="169.01" cy="224.36" r="0.95"/><circle cx="153.09" cy="224.16" r="0.95"/><circle cx="166.72" cy="219.92" r="0.95"/><circle cx="161.98" cy="224.54" r="0.95"/><circle cx="159.67" cy="222.02" r="0.95"/><circle cx="155.02" cy="225.95" r="0.95"/><circle cx="175.26" cy="216.24" r="0.95"/><circle cx="152.58" cy="225.41" r="0.95"/><circle cx="175.4" cy="210.67" r="0.95"/><circle cx="150.54" cy="223.2" r="0.95"/><circle cx="155.04" cy="224.11" r="0.95"/><circle cx="166.81" cy="225.59" r="0.95"/><circle cx="176.76" cy="218.17" r="0.95"/><circle cx="152.93" cy="222.6" r="0.95"/><circle cx="151.89" cy="225.84" r="0.95"/><circle cx="168.22" cy="221.35" r="0.95"/><circle cx="175.71" cy="209.38" r="0.95"/><circle cx="154.82" cy="225.81" r="0.95"/><circle cx="166.76" cy="222.23" r="0.95"/><circle cx="157.66" cy="222.03" r="0.95"/><circle cx="154.87" cy="223.26" r="0.95"/><circle cx="150.81" cy="222.13" r="0.95"/><circle cx="177.16" cy="211.02" r="0.95"/><circle cx="158.24" cy="222.84" r="0.95"/><circle cx="175.79" cy="209.14" r="0.95"/><circle cx="149.83" cy="223.98" r="0.95"/><circle cx="152.81" cy="223.62" r="0.95"/><circle cx="177.2" cy="204.96" r="0.95"/><circle cx="156.09" cy="223.68" r="0.95"/><circle cx="158.16" cy="225.27" r="0.95"/><circle cx="170.99" cy="215.79" r="0.95"/><circle cx="158.73" cy="224.15" r="0.95"/><circle cx="169.56" cy="217.56" r="0.95"/><circle cx="162.55" cy="225.4" r="0.95"/><circle cx="151.48" cy="225.27" r="0.95"/><circle cx="173.47" cy="217.56" r="0.95"/><circle cx="168" cy="222.5" r="0.95"/><circle cx="159.7" cy="225.21" r="0.95"/><circle cx="177.94" cy="210.42" r="0.95"/><circle cx="152.47" cy="222.92" r="0.95"/><circle cx="166.6" cy="221.22" r="0.95"/><circle cx="171.77" cy="217.2" r="0.95"/><circle cx="174.98" cy="206.89" r="0.95"/><circle cx="160.84" cy="222.95" r="0.95"/><circle cx="159.87" cy="224.16" r="0.95"/><circle cx="159.62" cy="223.11" r="0.95"/><circle cx="159.21" cy="224.44" r="0.95"/><circle cx="174.09" cy="211.52" r="0.95"/><circle cx="168.95" cy="216.88" r="0.95"/><circle cx="160.22" cy="223.07" r="0.95"/><circle cx="156.16" cy="224.67" r="0.95"/><circle cx="151.63" cy="222.54" r="0.95"/><circle cx="176.33" cy="219.22" r="0.95"/><circle cx="159.99" cy="225.47" r="0.95"/><circle cx="152.88" cy="223.22" r="0.95"/><circle cx="175.45" cy="224.27" r="0.95"/><circle cx="156.26" cy="222.8" r="0.95"/><circle cx="155.4" cy="222.29" r="0.95"/><circle cx="159.22" cy="223.9" r="0.95"/><circle cx="154.67" cy="224.76" r="0.95"/><circle cx="161.38" cy="224.66" r="0.95"/><circle cx="170.55" cy="225.61" r="0.95"/><circle cx="167.83" cy="218.48" r="0.95"/><circle cx="158.42" cy="225.16" r="0.95"/><circle cx="152.21" cy="225.66" r="0.95"/><circle cx="172.44" cy="216.75" r="0.95"/><circle cx="149.06" cy="224.24" r="0.95"/><circle cx="166.62" cy="223.5" r="0.95"/><circle cx="149.65" cy="224.32" r="0.95"/><circle cx="159.24" cy="221.68" r="0.95"/><circle cx="159.43" cy="221.89" r="0.95"/><circle cx="174.73" cy="214.94" r="0.95"/><circle cx="152.39" cy="222.46" r="0.95"/><circle cx="151.31" cy="223.62" r="0.95"/><circle cx="151.53" cy="225.6" r="0.95"/><circle cx="160.96" cy="225.26" r="0.95"/><circle cx="178.46" cy="210.63" r="0.95"/><circle cx="175.6" cy="206.08" r="0.95"/><circle cx="171.41" cy="216.96" r="0.95"/><circle cx="162.84" cy="221.99" r="0.95"/><circle cx="168.75" cy="224.33" r="0.95"/><circle cx="164.55" cy="223.54" r="0.95"/><circle cx="164.12" cy="221.91" r="0.95"/><circle cx="169.34" cy="219.56" r="0.95"/><circle cx="172.34" cy="213.45" r="0.95"/><circle cx="151.38" cy="225.38" r="0.95"/><circle cx="150.02" cy="225.35" r="0.95"/><circle cx="177.47" cy="218.28" r="0.95"/><circle cx="161.81" cy="223.71" r="0.95"/><circle cx="165.59" cy="224.18" r="0.95"/><circle cx="172.04" cy="221.09" r="0.95"/><circle cx="174.05" cy="211.5" r="0.95"/><circle cx="148.63" cy="223.92" r="0.95"/><circle cx="151.4" cy="222.2" r="0.95"/><circle cx="150.69" cy="224.89" r="0.95"/><circle cx="171.74" cy="217.48" r="0.95"/><circle cx="168.68" cy="221.68" r="0.95"/><circle cx="164.27" cy="224.82" r="0.95"/><circle cx="162.52" cy="224.69" r="0.95"/><circle cx="168.93" cy="224.85" r="0.95"/><circle cx="152.74" cy="225.14" r="0.95"/><circle cx="164.64" cy="222.52" r="0.95"/><circle cx="148.69" cy="222.23" r="0.95"/><circle cx="173.75" cy="219.35" r="0.95"/><circle cx="153.38" cy="222.42" r="0.95"/><circle cx="178.01" cy="221.4" r="0.95"/><circle cx="171.36" cy="214.61" r="0.95"/><circle cx="176.81" cy="221.1" r="0.95"/><circle cx="152.23" cy="225.28" r="0.95"/><circle cx="155.56" cy="222.2" r="0.95"/><circle cx="175.99" cy="215.75" r="0.95"/><circle cx="152.44" cy="224.46" r="0.95"/><circle cx="155.86" cy="223.27" r="0.95"/><circle cx="170.27" cy="216.28" r="0.95"/><circle cx="161.75" cy="223.76" r="0.95"/><circle cx="162.68" cy="224.1" r="0.95"/><circle cx="162.3" cy="222.55" r="0.95"/><circle cx="170.01" cy="222.02" r="0.95"/><circle cx="165.66" cy="225.04" r="0.95"/><circle cx="149.96" cy="224.44" r="0.95"/><circle cx="159.41" cy="225.86" r="0.95"/><circle cx="150.99" cy="224.2" r="0.95"/><circle cx="176.96" cy="206.06" r="0.95"/><circle cx="149.51" cy="224.75" r="0.95"/><circle cx="159.7" cy="224.61" r="0.95"/><circle cx="152.73" cy="223.42" r="0.95"/><circle cx="173.86" cy="219.25" r="0.95"/><circle cx="153.91" cy="225.55" r="0.95"/><circle cx="149.06" cy="223.03" r="0.95"/><circle cx="155.55" cy="222.94" r="0.95"/><circle cx="172.4" cy="224.72" r="0.95"/><circle cx="154.29" cy="224.65" r="0.95"/><circle cx="171.74" cy="215.37" r="0.95"/><circle cx="157.72" cy="224.04" r="0.95"/><circle cx="159.29" cy="223.9" r="0.95"/><circle cx="172.49" cy="221.97" r="0.95"/><circle cx="173" cy="211.14" r="0.95"/><circle cx="166.69" cy="218.4" r="0.95"/><circle cx="176.83" cy="221.97" r="0.95"/><circle cx="178.44" cy="220.67" r="0.95"/><circle cx="172.82" cy="224.08" r="0.95"/><circle cx="157.71" cy="224.09" r="0.95"/><circle cx="173.86" cy="213.95" r="0.95"/><circle cx="154.74" cy="222.17" r="0.95"/><circle cx="174.65" cy="216.25" r="0.95"/><circle cx="150.12" cy="224.84" r="0.95"/><circle cx="157.4" cy="224.2" r="0.95"/><circle cx="176.97" cy="211.82" r="0.95"/><circle cx="173.27" cy="224.81" r="0.95"/><circle cx="155.99" cy="222.93" r="0.95"/><circle cx="158.85" cy="225" r="0.95"/><circle cx="150.5" cy="225.79" r="0.95"/><circle cx="161.01" cy="223.41" r="0.95"/><circle cx="160.64" cy="223.37" r="0.95"/><circle cx="157.36" cy="225.93" r="0.95"/><circle cx="168.9" cy="222.39" r="0.95"/><circle cx="163.39" cy="223.96" r="0.95"/><circle cx="156.73" cy="225.78" r="0.95"/><circle cx="157.53" cy="224.71" r="0.95"/><circle cx="152.06" cy="225.87" r="0.95"/><circle cx="163.07" cy="225.9" r="0.95"/><circle cx="175.06" cy="218.85" r="0.95"/><circle cx="161.96" cy="223.39" r="0.95"/><circle cx="149.32" cy="225.6" r="0.95"/><circle cx="172.24" cy="217.61" r="0.95"/><circle cx="163.45" cy="224.14" r="0.95"/><circle cx="171.21" cy="219.09" r="0.95"/><circle cx="172.45" cy="213.18" r="0.95"/><circle cx="175.51" cy="211.01" r="0.95"/><circle cx="168.89" cy="221.05" r="0.95"/><circle cx="164.66" cy="222.53" r="0.95"/><circle cx="164.41" cy="221.19" r="0.95"/><circle cx="174.43" cy="225.02" r="0.95"/><circle cx="171.24" cy="217.51" r="0.95"/><circle cx="166.61" cy="218.9" r="0.95"/><circle cx="150.09" cy="224.07" r="0.95"/><circle cx="159.9" cy="221.74" r="0.95"/><circle cx="153.56" cy="223.57" r="0.95"/><circle cx="152.94" cy="222.72" r="0.95"/><circle cx="163.32" cy="222.06" r="0.95"/><circle cx="157.84" cy="222.17" r="0.95"/><circle cx="148.81" cy="225.14" r="0.95"/><circle cx="170.68" cy="214.54" r="0.95"/><circle cx="172" cy="221.94" r="0.95"/><circle cx="151.04" cy="223" r="0.95"/><circle cx="170.62" cy="225.21" r="0.95"/><circle cx="176.74" cy="213.7" r="0.95"/><circle cx="149.61" cy="224.09" r="0.95"/><circle cx="158.78" cy="225.54" r="0.95"/><circle cx="175.25" cy="207.13" r="0.95"/><circle cx="152.34" cy="224.05" r="0.95"/><circle cx="156.83" cy="223.13" r="0.95"/><circle cx="151.9" cy="224.54" r="0.95"/><circle cx="160.95" cy="223.77" r="0.95"/><circle cx="161.7" cy="223.08" r="0.95"/><circle cx="176.9" cy="203.95" r="0.95"/><circle cx="175.91" cy="208.2" r="0.95"/><circle cx="155.47" cy="224.97" r="0.95"/><circle cx="162.44" cy="222.74" r="0.95"/><circle cx="166.85" cy="223.16" r="0.95"/><circle cx="178.45" cy="217.7" r="0.95"/><circle cx="149.18" cy="225.65" r="0.95"/><circle cx="154.9" cy="222.89" r="0.95"/><circle cx="173.91" cy="225.26" r="0.95"/><circle cx="155.73" cy="224.98" r="0.95"/><circle cx="172.27" cy="212.43" r="0.95"/><circle cx="156.53" cy="225.57" r="0.95"/><circle cx="177.7" cy="201.39" r="0.95"/><circle cx="170.17" cy="220.14" r="0.95"/><circle cx="171.08" cy="215.59" r="0.95"/><circle cx="163.93" cy="224.47" r="0.95"/><circle cx="164.41" cy="222.11" r="0.95"/><circle cx="158.36" cy="223.2" r="0.95"/><circle cx="153.02" cy="221.78" r="0.95"/><circle cx="154.96" cy="225.04" r="0.95"/><circle cx="177.51" cy="202.24" r="0.95"/><circle cx="176.45" cy="206.93" r="0.95"/><circle cx="174.14" cy="211.05" r="0.95"/><circle cx="165.66" cy="225.51" r="0.95"/><circle cx="170.63" cy="215.15" r="0.95"/><circle cx="173.82" cy="225.23" r="0.95"/><circle cx="150.45" cy="222.99" r="0.95"/><circle cx="163.29" cy="221.23" r="0.95"/><circle cx="178.42" cy="214.14" r="0.95"/><circle cx="168.93" cy="218.83" r="0.95"/><circle cx="169.48" cy="221.78" r="0.95"/><circle cx="167.85" cy="225.36" r="0.95"/><circle cx="175.69" cy="210.82" r="0.95"/><circle cx="172.76" cy="218.72" r="0.95"/><circle cx="154.77" cy="224.08" r="0.95"/><circle cx="169.09" cy="219.98" r="0.95"/><circle cx="151.87" cy="225.98" r="0.95"/><circle cx="160.57" cy="224.87" r="0.95"/><circle cx="155.43" cy="225.06" r="0.95"/><circle cx="161.11" cy="222.69" r="0.95"/><circle cx="176.08" cy="211.21" r="0.95"/><circle cx="149.22" cy="222.61" r="0.95"/><circle cx="166.93" cy="219.98" r="0.95"/><circle cx="167.07" cy="223.02" r="0.95"/><circle cx="151.1" cy="198.6" r="0.95"/><circle cx="150.1" cy="205.7" r="0.95"/><circle cx="151.1" cy="212.9" r="0.95"/><circle cx="154.7" cy="214.4" r="0.95"/><circle cx="155.7" cy="215.4" r="0.95"/><circle cx="158.3" cy="220.6" r="0.95"/><circle cx="154.5" cy="212.8" r="0.95"/><circle cx="155.2" cy="213.6" r="0.95"/><circle cx="150.6" cy="217.5" r="0.95"/><circle cx="152.4" cy="218.3" r="0.95"/><circle cx="150.3" cy="219.5" r="0.95"/><circle cx="153.5" cy="219.8" r="0.95"/></g>
<g fill="#000" fill-opacity="0.9"><circle cx="159.11" cy="226.84" r="0.95"/><circle cx="168.59" cy="226.88" r="0.95"/><circle cx="169.09" cy="225" r="0.95"/><circle cx="168.7" cy="225.67" r="0.95"/><circle cx="172.8" cy="224.89" r="0.95"/><circle cx="172.93" cy="224.82" r="0.95"/><circle cx="162.62" cy="226.97" r="0.95"/><circle cx="167.14" cy="225.6" r="0.95"/><circle cx="174.4" cy="225.65" r="0.95"/><circle cx="159.81" cy="226.99" r="0.95"/><circle cx="173.45" cy="225.63" r="0.95"/><circle cx="177.97" cy="225.69" r="0.95"/><circle cx="174.1" cy="225.3" r="0.95"/><circle cx="178.13" cy="225.98" r="0.95"/><circle cx="175.4" cy="226.13" r="0.95"/><circle cx="149.53" cy="226.28" r="0.95"/><circle cx="159.46" cy="224.82" r="0.95"/><circle cx="160.73" cy="226.4" r="0.95"/><circle cx="169.37" cy="226.79" r="0.95"/><circle cx="158.12" cy="226.13" r="0.95"/><circle cx="152.83" cy="225.68" r="0.95"/><circle cx="161.55" cy="225.24" r="0.95"/><circle cx="159.11" cy="224.85" r="0.95"/><circle cx="154.91" cy="225.83" r="0.95"/><circle cx="155.81" cy="226.97" r="0.95"/><circle cx="158.01" cy="225.03" r="0.95"/><circle cx="157.71" cy="225.93" r="0.95"/><circle cx="164.5" cy="226.41" r="0.95"/><circle cx="164.82" cy="226.86" r="0.95"/><circle cx="159.4" cy="226.37" r="0.95"/><circle cx="173.01" cy="225.31" r="0.95"/><circle cx="169.66" cy="225.69" r="0.95"/><circle cx="174.5" cy="225.37" r="0.95"/><circle cx="150.81" cy="226.71" r="0.95"/><circle cx="171.04" cy="225.15" r="0.95"/><circle cx="178.09" cy="225.29" r="0.95"/><circle cx="153.81" cy="225.75" r="0.95"/><circle cx="167.43" cy="225.67" r="0.95"/><circle cx="153.13" cy="224.87" r="0.95"/><circle cx="164.1" cy="226.41" r="0.95"/><circle cx="177.84" cy="226.15" r="0.95"/><circle cx="151.24" cy="225.53" r="0.95"/><circle cx="156.78" cy="226.52" r="0.95"/><circle cx="158.03" cy="225.66" r="0.95"/><circle cx="158.54" cy="225.54" r="0.95"/><circle cx="175.64" cy="224.82" r="0.95"/><circle cx="175.16" cy="224.97" r="0.95"/><circle cx="156.59" cy="225.19" r="0.95"/><circle cx="151.82" cy="225.72" r="0.95"/><circle cx="151.41" cy="226.78" r="0.95"/><circle cx="176.9" cy="226.72" r="0.95"/><circle cx="170.14" cy="225.84" r="0.95"/><circle cx="149.24" cy="225.26" r="0.95"/><circle cx="150.97" cy="225.05" r="0.95"/><circle cx="173.1" cy="225.91" r="0.95"/><circle cx="162.23" cy="226.94" r="0.95"/><circle cx="169.64" cy="226.91" r="0.95"/><circle cx="164.56" cy="224.96" r="0.95"/><circle cx="169" cy="226.74" r="0.95"/><circle cx="170.25" cy="225.46" r="0.95"/><circle cx="158.81" cy="225.3" r="0.95"/><circle cx="166.1" cy="226.09" r="0.95"/><circle cx="164.55" cy="226.39" r="0.95"/><circle cx="157.59" cy="225.04" r="0.95"/><circle cx="159.41" cy="225.3" r="0.95"/><circle cx="159.91" cy="226.58" r="0.95"/><circle cx="149.24" cy="224.88" r="0.95"/><circle cx="171.15" cy="224.84" r="0.95"/><circle cx="166.4" cy="226.86" r="0.95"/><circle cx="153.97" cy="226.89" r="0.95"/><circle cx="167.08" cy="225.63" r="0.95"/><circle cx="177.1" cy="226.35" r="0.95"/><circle cx="156.01" cy="226.51" r="0.95"/><circle cx="153.5" cy="226.94" r="0.95"/><circle cx="163.62" cy="226.08" r="0.95"/><circle cx="159.95" cy="224.91" r="0.95"/><circle cx="158.36" cy="225.18" r="0.95"/><circle cx="164.75" cy="226.77" r="0.95"/><circle cx="150.06" cy="225.66" r="0.95"/><circle cx="174.73" cy="226.89" r="0.95"/><circle cx="169.7" cy="226.49" r="0.95"/><circle cx="169.26" cy="225.17" r="0.95"/><circle cx="170.43" cy="226.46" r="0.95"/><circle cx="153.76" cy="224.87" r="0.95"/><circle cx="175.94" cy="224.97" r="0.95"/><circle cx="165" cy="226.89" r="0.95"/><circle cx="159.97" cy="225" r="0.95"/><circle cx="151.16" cy="226.35" r="0.95"/><circle cx="150.44" cy="225.06" r="0.95"/><circle cx="159.53" cy="226.82" r="0.95"/><circle cx="159.6" cy="226.55" r="0.95"/><circle cx="161.85" cy="225.64" r="0.95"/><circle cx="168.41" cy="226.79" r="0.95"/><circle cx="164.8" cy="226.88" r="0.95"/><circle cx="162.09" cy="225.22" r="0.95"/><circle cx="156.86" cy="225.19" r="0.95"/><circle cx="156.33" cy="226.13" r="0.95"/><circle cx="172.34" cy="226.99" r="0.95"/><circle cx="165.38" cy="225.82" r="0.95"/><circle cx="170.07" cy="224.91" r="0.95"/><circle cx="169.48" cy="226.51" r="0.95"/><circle cx="155.01" cy="225.94" r="0.95"/><circle cx="157.42" cy="225.78" r="0.95"/><circle cx="151.82" cy="225.47" r="0.95"/><circle cx="161.37" cy="226.89" r="0.95"/><circle cx="152.72" cy="224.94" r="0.95"/><circle cx="173.99" cy="225.06" r="0.95"/><circle cx="160.58" cy="224.83" r="0.95"/><circle cx="154.17" cy="225.4" r="0.95"/><circle cx="176.7" cy="226.54" r="0.95"/><circle cx="149.32" cy="226.72" r="0.95"/><circle cx="151.64" cy="225.23" r="0.95"/><circle cx="166.9" cy="225.95" r="0.95"/><circle cx="152.54" cy="225.59" r="0.95"/><circle cx="153.2" cy="226.71" r="0.95"/><circle cx="166.54" cy="225.58" r="0.95"/><circle cx="172.59" cy="225.18" r="0.95"/><circle cx="153.21" cy="226.33" r="0.95"/><circle cx="153.4" cy="225.92" r="0.95"/><circle cx="150.03" cy="225.09" r="0.95"/><circle cx="169.1" cy="225.22" r="0.95"/><circle cx="163.46" cy="224.99" r="0.95"/><circle cx="173.58" cy="225.18" r="0.95"/><circle cx="172.73" cy="226.52" r="0.95"/><circle cx="159.28" cy="226.88" r="0.95"/><circle cx="171.52" cy="225.96" r="0.95"/><circle cx="178" cy="226.36" r="0.95"/><circle cx="161.79" cy="225.09" r="0.95"/><circle cx="177.49" cy="225.33" r="0.95"/><circle cx="174.97" cy="224.97" r="0.95"/><circle cx="157.13" cy="225.64" r="0.95"/><circle cx="151.06" cy="225.51" r="0.95"/><circle cx="177.01" cy="225.89" r="0.95"/><circle cx="153.46" cy="225.75" r="0.95"/><circle cx="151.11" cy="225.98" r="0.95"/><circle cx="151.54" cy="226.08" r="0.95"/><circle cx="173.08" cy="225.37" r="0.95"/><circle cx="174.12" cy="225.99" r="0.95"/><circle cx="162.08" cy="226.88" r="0.95"/><circle cx="172.24" cy="225.75" r="0.95"/><circle cx="161.11" cy="226.68" r="0.95"/><circle cx="162.59" cy="226.86" r="0.95"/><circle cx="152.7" cy="226.83" r="0.95"/><circle cx="161.61" cy="226.7" r="0.95"/><circle cx="173.36" cy="225.66" r="0.95"/><circle cx="174.51" cy="225.78" r="0.95"/><circle cx="153.86" cy="226.39" r="0.95"/><circle cx="173.72" cy="225.71" r="0.95"/><circle cx="168.07" cy="225.61" r="0.95"/><circle cx="150.6" cy="226.56" r="0.95"/><circle cx="161.8" cy="225.14" r="0.95"/><circle cx="176.75" cy="225.7" r="0.95"/><circle cx="156.78" cy="226.9" r="0.95"/><circle cx="165.52" cy="226.1" r="0.95"/><circle cx="176.38" cy="226.55" r="0.95"/><circle cx="155.18" cy="226.97" r="0.95"/><circle cx="150.04" cy="225.22" r="0.95"/><circle cx="174.64" cy="226.66" r="0.95"/><circle cx="149.65" cy="225.73" r="0.95"/><circle cx="156.4" cy="225.65" r="0.95"/></g>
<rect x="148.8" y="224.9" width="23" height="2.4" rx="1.1" fill="#000"/>
<line x1="148.6" y1="149" x2="148.6" y2="229.7" stroke="#5a5a5a" stroke-width="0.6" stroke-dasharray="1.5 1.2"/>
<line x1="178.6" y1="149" x2="178.6" y2="229.7" stroke="#5a5a5a" stroke-width="0.6" stroke-dasharray="1.5 1.2"/>
<line x1="98.5" y1="225.98" x2="228.8" y2="225.98" stroke="#666" stroke-width="0.6" stroke-dasharray="1.8 1.2"/>
<rect x="98" y="149" width="1.0" height="81.8" fill="#2a2a2a"/>
<rect x="98" y="229.8" width="130.8" height="1.0" fill="#2a2a2a"/>
<rect x="95.5" y="225.9" width="2.6" height="0.8" fill="#333"/>
<text x="94.7" y="228.68" class="vt" font-size="6.6" text-anchor="end">0</text>
<rect x="95.5" y="201.15" width="2.6" height="0.8" fill="#333"/>
<text x="94.7" y="203.93" class="vt" font-size="6.6" text-anchor="end">100</text>
<rect x="95.5" y="176.4" width="2.6" height="0.8" fill="#333"/>
<text x="94.7" y="179.18" class="vt" font-size="6.6" text-anchor="end">200</text>
<rect x="95.5" y="151.65" width="2.6" height="0.8" fill="#333"/>
<text x="94.7" y="154.43" class="vt" font-size="6.6" text-anchor="end">300</text>
<rect x="124.3" y="230.8" width="0.8" height="2.6" fill="#333"/>
<text x="124.3" y="239.5" class="vt" font-size="6.6" text-anchor="middle">−1</text>
<rect x="163.6" y="230.8" width="0.8" height="2.6" fill="#333"/>
<text x="164" y="239.5" class="vt" font-size="6.6" text-anchor="middle">0</text>
<rect x="202.9" y="230.8" width="0.8" height="2.6" fill="#333"/>
<text x="203.3" y="239.5" class="vt" font-size="6.6" text-anchor="middle">1</text>
<text x="139.6" y="248.4" class="vx" font-size="6.75">Log<tspan font-size="4.59" dy="1.49">2</tspan><tspan dy="-1.49"> fold change</tspan></text>
<text transform="translate(78.6 203.1) rotate(-90)" class="vx" font-size="6.9">−Log<tspan font-size="4.69" dy="1.52">10</tspan><tspan dy="-1.52" font-style="italic"> P</tspan></text>
<text x="109.2" y="134.14" class="lg" font-size="4" textLength="5.6" lengthAdjust="spacingAndGlyphs">Sig</text>
<circle cx="118.9" cy="132.7" r="2.3" fill="#707070"/>
<text x="124" y="134.14" class="lg" font-size="4" textLength="5" lengthAdjust="spacingAndGlyphs">NS</text>
<circle cx="133.7" cy="132.7" r="2.3" fill="#c9c6c0"/>
<text x="138.3" y="134.14" class="lg" font-size="4" textLength="13.8" lengthAdjust="spacingAndGlyphs">Log<tspan font-size="70%" dy="0.8">2</tspan><tspan dy="-0.8"> FC</tspan></text>
<circle cx="156.7" cy="132.7" r="2.3" fill="#6a6abf"/>
<text x="160.8" y="134.14" class="lg" font-size="4" textLength="12.5" lengthAdjust="spacingAndGlyphs">p−value</text>
<circle cx="178.4" cy="132.7" r="2.3" fill="#7fbff8"/>
<text x="182.8" y="134.14" class="lg" font-size="4" textLength="34.3" lengthAdjust="spacingAndGlyphs">p − value and log<tspan font-size="70%" dy="0.8">2</tspan><tspan dy="-0.8"> FC</tspan></text>
<text x="183" y="154" class="gl">Acox1</text>
<text x="210" y="154" class="gl">Acadl1b</text>
<text x="203" y="160.5" class="gl">Ecl2</text>
<text x="189" y="167" class="gl">Slc27a2</text>
<text x="149.5" y="210" class="gl">Cat</text>
<text x="128.8" y="221.8" class="gl">Acox2</text>
<text x="146.8" y="221.8" class="gl">Hacl1</text>
<g stroke="#e8e8e8" stroke-width="0.7"><line x1="107.35" y1="420.5" x2="107.35" y2="513.7"/><line x1="127.1" y1="420.5" x2="127.1" y2="513.7"/><line x1="146.85" y1="420.5" x2="146.85" y2="513.7"/><line x1="166.6" y1="420.5" x2="166.6" y2="513.7"/><line x1="186.35" y1="420.5" x2="186.35" y2="513.7"/><line x1="206.1" y1="420.5" x2="206.1" y2="513.7"/><line x1="225.85" y1="420.5" x2="225.85" y2="513.7"/><line x1="90.5" y1="510.5" x2="241.4" y2="510.5"/><line x1="90.5" y1="496.4" x2="241.4" y2="496.4"/><line x1="90.5" y1="482.3" x2="241.4" y2="482.3"/><line x1="90.5" y1="468.2" x2="241.4" y2="468.2"/><line x1="90.5" y1="454.1" x2="241.4" y2="454.1"/><line x1="90.5" y1="440" x2="241.4" y2="440"/><line x1="90.5" y1="425.9" x2="241.4" y2="425.9"/></g>
<g fill="#1e90ff" fill-opacity="0.72"><circle cx="101.12" cy="425.54" r="0.95"/><circle cx="105.23" cy="425.28" r="0.95"/><circle cx="121.43" cy="425.53" r="0.95"/><circle cx="122.81" cy="425.41" r="0.95"/><circle cx="131.11" cy="425.35" r="0.95"/><circle cx="134.95" cy="425.25" r="0.95"/><circle cx="136.09" cy="425.43" r="0.95"/><circle cx="137.4" cy="425.51" r="0.95"/><circle cx="138.58" cy="425.33" r="0.95"/><circle cx="139.77" cy="425.29" r="0.95"/><circle cx="140.99" cy="425.46" r="0.95"/><circle cx="142.11" cy="425.43" r="0.95"/><circle cx="143.55" cy="425.46" r="0.95"/><circle cx="144.55" cy="425.44" r="0.95"/><circle cx="145.68" cy="425.28" r="0.95"/><circle cx="150.79" cy="425.46" r="0.95"/><circle cx="180.74" cy="425.42" r="0.95"/><circle cx="181.86" cy="425.5" r="0.95"/><circle cx="183.1" cy="425.5" r="0.95"/><circle cx="184.37" cy="425.35" r="0.95"/><circle cx="185.59" cy="425.35" r="0.95"/><circle cx="186.73" cy="425.5" r="0.95"/><circle cx="188.04" cy="425.44" r="0.95"/><circle cx="189.01" cy="425.3" r="0.95"/><circle cx="190.4" cy="425.34" r="0.95"/><circle cx="191.39" cy="425.42" r="0.95"/><circle cx="199.18" cy="425.47" r="0.95"/><circle cx="151" cy="433" r="0.95"/><circle cx="151.24" cy="436.6" r="0.95"/><circle cx="146.97" cy="439.17" r="0.95"/><circle cx="145.49" cy="445.29" r="0.95"/><circle cx="147.24" cy="446.01" r="0.95"/><circle cx="147.99" cy="446.64" r="0.95"/><circle cx="154.06" cy="449.54" r="0.95"/><circle cx="146.31" cy="452.87" r="0.95"/><circle cx="145.08" cy="453.83" r="0.95"/><circle cx="146.8" cy="456.24" r="0.95"/><circle cx="152.48" cy="456.25" r="0.95"/><circle cx="144.35" cy="458.9" r="0.95"/><circle cx="146.35" cy="459.51" r="0.95"/><circle cx="148.5" cy="459.98" r="0.95"/><circle cx="152.49" cy="463" r="0.95"/><circle cx="154.04" cy="462.33" r="0.95"/><circle cx="155.67" cy="462.34" r="0.95"/><circle cx="146.8" cy="462.88" r="0.95"/><circle cx="147.75" cy="465.98" r="0.95"/><circle cx="149.52" cy="468.7" r="0.95"/><circle cx="153.14" cy="468.91" r="0.95"/><circle cx="143.4" cy="473.06" r="0.95"/><circle cx="146.72" cy="472.58" r="0.95"/><circle cx="146.24" cy="488.46" r="0.95"/><circle cx="148.03" cy="495.11" r="0.95"/><circle cx="148.43" cy="498.07" r="0.95"/><circle cx="142.63" cy="437.92" r="0.95"/><circle cx="143.97" cy="441.08" r="0.95"/><circle cx="157.09" cy="442.37" r="0.95"/><circle cx="153.55" cy="487.09" r="0.95"/><circle cx="155.15" cy="503.81" r="0.95"/><circle cx="149.09" cy="492.55" r="0.95"/><circle cx="151.48" cy="481" r="0.95"/><circle cx="155.4" cy="488.03" r="0.95"/><circle cx="154.4" cy="486.04" r="0.95"/><circle cx="150.22" cy="491.31" r="0.95"/><circle cx="150.54" cy="478.07" r="0.95"/><circle cx="149.64" cy="482.51" r="0.95"/><circle cx="149.63" cy="485.3" r="0.95"/><circle cx="152.32" cy="495.06" r="0.95"/><circle cx="156.97" cy="508.84" r="0.95"/><circle cx="149.55" cy="480.34" r="0.95"/><circle cx="153.83" cy="505.48" r="0.95"/><circle cx="158.23" cy="480.54" r="0.95"/><circle cx="149.92" cy="491.86" r="0.95"/><circle cx="150.33" cy="494.89" r="0.95"/><circle cx="154.86" cy="503.2" r="0.95"/><circle cx="155.5" cy="507.38" r="0.95"/><circle cx="150.68" cy="480.61" r="0.95"/><circle cx="152.64" cy="495.07" r="0.95"/><circle cx="154.56" cy="492.01" r="0.95"/><circle cx="152.74" cy="507.15" r="0.95"/><circle cx="155.82" cy="475.53" r="0.95"/><circle cx="158.06" cy="489.08" r="0.95"/><circle cx="152.38" cy="496.5" r="0.95"/><circle cx="155.56" cy="485.25" r="0.95"/><circle cx="150" cy="496.83" r="0.95"/><circle cx="152.42" cy="491.83" r="0.95"/><circle cx="156.6" cy="492.62" r="0.95"/><circle cx="149.12" cy="483.12" r="0.95"/><circle cx="153.16" cy="492.09" r="0.95"/><circle cx="151" cy="492.18" r="0.95"/><circle cx="152.7" cy="483.65" r="0.95"/><circle cx="149.93" cy="488.68" r="0.95"/><circle cx="150.6" cy="483.98" r="0.95"/><circle cx="149.21" cy="494.71" r="0.95"/><circle cx="152.1" cy="487.49" r="0.95"/><circle cx="149.62" cy="490.87" r="0.95"/><circle cx="150.96" cy="496.35" r="0.95"/><circle cx="153.49" cy="477.27" r="0.95"/><circle cx="153.39" cy="477.34" r="0.95"/><circle cx="150.5" cy="477.55" r="0.95"/><circle cx="152.44" cy="502.12" r="0.95"/><circle cx="155.97" cy="477.82" r="0.95"/><circle cx="148.95" cy="494.64" r="0.95"/><circle cx="156.39" cy="497.71" r="0.95"/><circle cx="151.22" cy="505.82" r="0.95"/><circle cx="149.5" cy="487.4" r="0.95"/><circle cx="158.26" cy="478.68" r="0.95"/><circle cx="153.6" cy="507.62" r="0.95"/><circle cx="152.13" cy="482.53" r="0.95"/><circle cx="156.88" cy="488.28" r="0.95"/><circle cx="151.05" cy="489.16" r="0.95"/><circle cx="153.34" cy="487.98" r="0.95"/><circle cx="151.51" cy="476.26" r="0.95"/><circle cx="157.38" cy="504.38" r="0.95"/><circle cx="151.85" cy="479.15" r="0.95"/><circle cx="151.53" cy="476.78" r="0.95"/><circle cx="153.74" cy="485.57" r="0.95"/><circle cx="155.75" cy="501.78" r="0.95"/><circle cx="151.71" cy="498.86" r="0.95"/><circle cx="155.33" cy="484.62" r="0.95"/><circle cx="150.22" cy="479.41" r="0.95"/><circle cx="152.86" cy="500.75" r="0.95"/><circle cx="153.2" cy="477.4" r="0.95"/><circle cx="154.36" cy="487.21" r="0.95"/><circle cx="157.7" cy="478.75" r="0.95"/><circle cx="156.07" cy="494.85" r="0.95"/><circle cx="154.44" cy="477.4" r="0.95"/><circle cx="156.51" cy="489.82" r="0.95"/><circle cx="152.39" cy="496.15" r="0.95"/><circle cx="156.05" cy="489.71" r="0.95"/><circle cx="149.21" cy="485.65" r="0.95"/><circle cx="157.43" cy="483.87" r="0.95"/><circle cx="157.42" cy="480.15" r="0.95"/><circle cx="154.1" cy="482.16" r="0.95"/><circle cx="152.62" cy="504.91" r="0.95"/><circle cx="152.41" cy="498.16" r="0.95"/><circle cx="157.92" cy="487.73" r="0.95"/><circle cx="154.22" cy="487.57" r="0.95"/><circle cx="150.19" cy="488.8" r="0.95"/><circle cx="155.51" cy="495.27" r="0.95"/><circle cx="151.33" cy="493.19" r="0.95"/><circle cx="152.06" cy="485.75" r="0.95"/><circle cx="150.25" cy="501.1" r="0.95"/><circle cx="151.88" cy="485.13" r="0.95"/><circle cx="156.06" cy="486.67" r="0.95"/><circle cx="157.82" cy="498.02" r="0.95"/><circle cx="149.4" cy="490.09" r="0.95"/><circle cx="153.3" cy="502.54" r="0.95"/><circle cx="155.22" cy="496.85" r="0.95"/><circle cx="151.29" cy="495.5" r="0.95"/><circle cx="157.78" cy="509.69" r="0.95"/><circle cx="152.51" cy="499.03" r="0.95"/><circle cx="150.77" cy="491.71" r="0.95"/><circle cx="151.03" cy="476.71" r="0.95"/><circle cx="153.84" cy="485.57" r="0.95"/><circle cx="150.48" cy="490.68" r="0.95"/><circle cx="154.57" cy="479.01" r="0.95"/><circle cx="151.46" cy="491.78" r="0.95"/><circle cx="157" cy="482.06" r="0.95"/><circle cx="151.25" cy="488.68" r="0.95"/><circle cx="156.13" cy="495.87" r="0.95"/><circle cx="155.19" cy="485.48" r="0.95"/><circle cx="158.05" cy="492.52" r="0.95"/><circle cx="155.53" cy="496.82" r="0.95"/><circle cx="155.96" cy="498.15" r="0.95"/><circle cx="153.66" cy="496.72" r="0.95"/><circle cx="151.96" cy="503.42" r="0.95"/><circle cx="151.08" cy="488.63" r="0.95"/><circle cx="151.27" cy="504.88" r="0.95"/><circle cx="156.69" cy="499.88" r="0.95"/><circle cx="157.88" cy="490.63" r="0.95"/><circle cx="152.62" cy="480.53" r="0.95"/><circle cx="157.53" cy="499.22" r="0.95"/><circle cx="150.19" cy="486.11" r="0.95"/><circle cx="156.98" cy="489.29" r="0.95"/><circle cx="156.25" cy="495.33" r="0.95"/><circle cx="154.72" cy="499.55" r="0.95"/><circle cx="152.83" cy="496.15" r="0.95"/><circle cx="152.75" cy="495.62" r="0.95"/><circle cx="156.5" cy="503.65" r="0.95"/><circle cx="151.07" cy="497.12" r="0.95"/><circle cx="158.03" cy="493.46" r="0.95"/><circle cx="149.6" cy="482.13" r="0.95"/><circle cx="157.22" cy="482.83" r="0.95"/><circle cx="152.41" cy="484.55" r="0.95"/><circle cx="151.92" cy="503.28" r="0.95"/><circle cx="157.13" cy="482.18" r="0.95"/><circle cx="151.02" cy="477.89" r="0.95"/><circle cx="149.11" cy="494.09" r="0.95"/><circle cx="149.1" cy="496.68" r="0.95"/><circle cx="150.48" cy="483.42" r="0.95"/><circle cx="151.88" cy="501.32" r="0.95"/><circle cx="150.71" cy="495.43" r="0.95"/><circle cx="157.2" cy="489.61" r="0.95"/><circle cx="149.82" cy="485.16" r="0.95"/><circle cx="153.96" cy="493.55" r="0.95"/><circle cx="153.84" cy="486.86" r="0.95"/><circle cx="156.63" cy="492.28" r="0.95"/><circle cx="155.07" cy="492.04" r="0.95"/><circle cx="154.85" cy="495.02" r="0.95"/><circle cx="152.82" cy="492.01" r="0.95"/><circle cx="155.68" cy="499.52" r="0.95"/><circle cx="157.78" cy="494.15" r="0.95"/><circle cx="156.96" cy="486.74" r="0.95"/><circle cx="158.09" cy="488.28" r="0.95"/><circle cx="152.9" cy="495.6" r="0.95"/><circle cx="154.63" cy="482.3" r="0.95"/><circle cx="157.66" cy="506.06" r="0.95"/><circle cx="154.35" cy="507.08" r="0.95"/><circle cx="154.27" cy="508.32" r="0.95"/><circle cx="154.04" cy="502.91" r="0.95"/><circle cx="154.64" cy="490.64" r="0.95"/><circle cx="156.58" cy="481.68" r="0.95"/><circle cx="158.14" cy="487.58" r="0.95"/><circle cx="158.21" cy="509.27" r="0.95"/><circle cx="154.97" cy="483.66" r="0.95"/><circle cx="156.23" cy="504.02" r="0.95"/><circle cx="157.29" cy="497.61" r="0.95"/><circle cx="156.44" cy="500.79" r="0.95"/><circle cx="155.16" cy="507.44" r="0.95"/><circle cx="156.55" cy="482.09" r="0.95"/><circle cx="158.29" cy="487.17" r="0.95"/><circle cx="158.03" cy="499.05" r="0.95"/><circle cx="155.19" cy="483.68" r="0.95"/><circle cx="156.64" cy="490.6" r="0.95"/><circle cx="154.01" cy="503.49" r="0.95"/><circle cx="156.03" cy="488.9" r="0.95"/><circle cx="157.63" cy="487.65" r="0.95"/><circle cx="155.63" cy="499.05" r="0.95"/><circle cx="157.67" cy="480.69" r="0.95"/><circle cx="156.25" cy="504.38" r="0.95"/><circle cx="156.76" cy="494.41" r="0.95"/><circle cx="155.55" cy="503.24" r="0.95"/><circle cx="155.83" cy="492.37" r="0.95"/><circle cx="154.51" cy="494.83" r="0.95"/><circle cx="158.31" cy="487.7" r="0.95"/><circle cx="155.18" cy="498.22" r="0.95"/><circle cx="154.46" cy="489.21" r="0.95"/><circle cx="156.91" cy="504.83" r="0.95"/><circle cx="156.47" cy="492.57" r="0.95"/><circle cx="156.49" cy="499.05" r="0.95"/><circle cx="155.24" cy="499.97" r="0.95"/><circle cx="158.45" cy="500.22" r="0.95"/><circle cx="156.31" cy="496.69" r="0.95"/><circle cx="154.73" cy="498.55" r="0.95"/><circle cx="155.03" cy="500.93" r="0.95"/><circle cx="155.56" cy="499.88" r="0.95"/><circle cx="158.27" cy="501.08" r="0.95"/><circle cx="155.36" cy="491.07" r="0.95"/><circle cx="155.81" cy="495.24" r="0.95"/><circle cx="156.78" cy="507.9" r="0.95"/><circle cx="156.98" cy="507.08" r="0.95"/><circle cx="155" cy="487.01" r="0.95"/><circle cx="158.23" cy="489.68" r="0.95"/><circle cx="154.79" cy="497.7" r="0.95"/><circle cx="155.3" cy="486.08" r="0.95"/><circle cx="155.13" cy="504.46" r="0.95"/><circle cx="156.93" cy="491.49" r="0.95"/><circle cx="156.7" cy="495.92" r="0.95"/><circle cx="158.16" cy="496.27" r="0.95"/><circle cx="158.14" cy="498.29" r="0.95"/><circle cx="156.16" cy="499.64" r="0.95"/><circle cx="157.27" cy="488.03" r="0.95"/><circle cx="154.92" cy="494.96" r="0.95"/><circle cx="157.34" cy="495.11" r="0.95"/><circle cx="156.88" cy="491.83" r="0.95"/><circle cx="157.19" cy="499.53" r="0.95"/><circle cx="155.46" cy="509.43" r="0.95"/><circle cx="158.03" cy="486.42" r="0.95"/><circle cx="155.76" cy="482.31" r="0.95"/><circle cx="157.95" cy="505.47" r="0.95"/><circle cx="157.83" cy="497.53" r="0.95"/><circle cx="155.24" cy="502.6" r="0.95"/><circle cx="155.71" cy="508.37" r="0.95"/><circle cx="154.34" cy="506.79" r="0.95"/><circle cx="155.32" cy="505.6" r="0.95"/><circle cx="154.45" cy="486.37" r="0.95"/><circle cx="155.54" cy="495.9" r="0.95"/><circle cx="156.57" cy="482.8" r="0.95"/><circle cx="154.78" cy="503.54" r="0.95"/><circle cx="157.89" cy="482.85" r="0.95"/><circle cx="158.17" cy="494.13" r="0.95"/><circle cx="155.72" cy="504.59" r="0.95"/><circle cx="157.96" cy="487.14" r="0.95"/><circle cx="156.35" cy="487.03" r="0.95"/><circle cx="155.14" cy="494.67" r="0.95"/><circle cx="157.92" cy="506.73" r="0.95"/><circle cx="156.65" cy="504.48" r="0.95"/><circle cx="157.7" cy="485.16" r="0.95"/><circle cx="156.69" cy="497.29" r="0.95"/><circle cx="154" cy="496.15" r="0.95"/><circle cx="155.67" cy="498.45" r="0.95"/><circle cx="154.44" cy="483.97" r="0.95"/><circle cx="156.24" cy="493.54" r="0.95"/><circle cx="157.6" cy="483.45" r="0.95"/><circle cx="156.55" cy="494.25" r="0.95"/><circle cx="157.64" cy="498.97" r="0.95"/><circle cx="149.54" cy="504.97" r="0.95"/><circle cx="148.85" cy="491.69" r="0.95"/><circle cx="148.24" cy="480.45" r="0.95"/><circle cx="145.98" cy="495.2" r="0.95"/><circle cx="148.91" cy="485.7" r="0.95"/><circle cx="147.77" cy="486.05" r="0.95"/><circle cx="148.31" cy="483.27" r="0.95"/><circle cx="148.32" cy="495.97" r="0.95"/><circle cx="146.33" cy="502.21" r="0.95"/><circle cx="145.58" cy="502.43" r="0.95"/><circle cx="149.96" cy="501.94" r="0.95"/><circle cx="147.99" cy="501.46" r="0.95"/><circle cx="149.82" cy="491.22" r="0.95"/><circle cx="145.77" cy="486.66" r="0.95"/><circle cx="149.3" cy="479.54" r="0.95"/><circle cx="146.1" cy="495.17" r="0.95"/><circle cx="148.32" cy="497.81" r="0.95"/><circle cx="147.76" cy="487.68" r="0.95"/><circle cx="185.7" cy="428.73" r="0.95"/><circle cx="183.4" cy="430.83" r="0.95"/><circle cx="181.06" cy="432.93" r="0.95"/><circle cx="185.07" cy="434.13" r="0.95"/><circle cx="187.32" cy="437.02" r="0.95"/><circle cx="185.77" cy="440.38" r="0.95"/><circle cx="188.03" cy="448.26" r="0.95"/><circle cx="179.07" cy="444.23" r="0.95"/><circle cx="178.27" cy="445.34" r="0.95"/><circle cx="181.71" cy="448.87" r="0.95"/><circle cx="181.3" cy="449.47" r="0.95"/><circle cx="180.12" cy="451.61" r="0.95"/><circle cx="176.68" cy="456.62" r="0.95"/><circle cx="175.75" cy="461.89" r="0.95"/><circle cx="185.28" cy="460.2" r="0.95"/><circle cx="183.63" cy="457.42" r="0.95"/><circle cx="182.98" cy="464.15" r="0.95"/><circle cx="182.26" cy="468.55" r="0.95"/><circle cx="182.35" cy="473.78" r="0.95"/><circle cx="183.36" cy="481.07" r="0.95"/><circle cx="182.88" cy="478.68" r="0.95"/><circle cx="179.46" cy="487.73" r="0.95"/><circle cx="176.25" cy="504.13" r="0.95"/><circle cx="181.42" cy="452.09" r="0.95"/><circle cx="182.17" cy="450.58" r="0.95"/><circle cx="179.08" cy="471.21" r="0.95"/><circle cx="175" cy="495.38" r="0.95"/><circle cx="176.47" cy="499.9" r="0.95"/><circle cx="176.61" cy="494.22" r="0.95"/><circle cx="174.82" cy="491.97" r="0.95"/><circle cx="172.71" cy="484.68" r="0.95"/><circle cx="179.19" cy="463.06" r="0.95"/><circle cx="175.74" cy="495.14" r="0.95"/><circle cx="176.93" cy="494.57" r="0.95"/><circle cx="177.77" cy="475.68" r="0.95"/><circle cx="181.35" cy="457.45" r="0.95"/><circle cx="176.43" cy="489.35" r="0.95"/><circle cx="181.37" cy="453.16" r="0.95"/><circle cx="180.04" cy="461.18" r="0.95"/><circle cx="182.16" cy="456.55" r="0.95"/><circle cx="176.31" cy="488.7" r="0.95"/><circle cx="175.6" cy="502.04" r="0.95"/><circle cx="181.32" cy="461.68" r="0.95"/><circle cx="175.31" cy="477.8" r="0.95"/><circle cx="180.32" cy="475.34" r="0.95"/><circle cx="176.81" cy="476.99" r="0.95"/><circle cx="175.26" cy="488.84" r="0.95"/><circle cx="173.98" cy="498.99" r="0.95"/><circle cx="175.07" cy="482.41" r="0.95"/><circle cx="176.26" cy="476.69" r="0.95"/><circle cx="176.48" cy="494.16" r="0.95"/><circle cx="178.99" cy="459.94" r="0.95"/><circle cx="173.91" cy="500.15" r="0.95"/><circle cx="174.56" cy="494.62" r="0.95"/><circle cx="174.58" cy="496.93" r="0.95"/><circle cx="180.05" cy="462.88" r="0.95"/><circle cx="178.99" cy="458.26" r="0.95"/><circle cx="178.54" cy="486.03" r="0.95"/><circle cx="176.66" cy="487.12" r="0.95"/><circle cx="174.2" cy="496.47" r="0.95"/><circle cx="179.5" cy="465.3" r="0.95"/><circle cx="174.16" cy="501.61" r="0.95"/><circle cx="178.96" cy="462.7" r="0.95"/><circle cx="174.82" cy="501.3" r="0.95"/><circle cx="172.38" cy="499.39" r="0.95"/><circle cx="177.33" cy="499.83" r="0.95"/><circle cx="174.38" cy="501.55" r="0.95"/><circle cx="175.58" cy="496.54" r="0.95"/><circle cx="181" cy="459.43" r="0.95"/><circle cx="174.92" cy="501.95" r="0.95"/><circle cx="179.02" cy="469.55" r="0.95"/><circle cx="176.01" cy="494.47" r="0.95"/><circle cx="174.13" cy="502.98" r="0.95"/><circle cx="174.76" cy="496.68" r="0.95"/><circle cx="178.12" cy="479.42" r="0.95"/><circle cx="179.15" cy="472.5" r="0.95"/><circle cx="178.25" cy="456.43" r="0.95"/><circle cx="180.85" cy="460.72" r="0.95"/><circle cx="174.16" cy="495.21" r="0.95"/><circle cx="175.07" cy="496.28" r="0.95"/><circle cx="174.41" cy="501.93" r="0.95"/><circle cx="176.59" cy="497.53" r="0.95"/><circle cx="180.59" cy="464.33" r="0.95"/><circle cx="176.39" cy="474.97" r="0.95"/><circle cx="174.96" cy="500.84" r="0.95"/><circle cx="174.84" cy="488.54" r="0.95"/><circle cx="178.8" cy="467.9" r="0.95"/><circle cx="180.51" cy="474.46" r="0.95"/><circle cx="174.33" cy="495.55" r="0.95"/><circle cx="177.98" cy="475.28" r="0.95"/><circle cx="175.61" cy="502.18" r="0.95"/><circle cx="182.62" cy="454.96" r="0.95"/><circle cx="174.99" cy="494.3" r="0.95"/><circle cx="173.52" cy="501.27" r="0.95"/><circle cx="176.33" cy="502.88" r="0.95"/><circle cx="180.35" cy="474.49" r="0.95"/><circle cx="178.25" cy="473.75" r="0.95"/><circle cx="180.05" cy="454.02" r="0.95"/><circle cx="174.95" cy="499.41" r="0.95"/><circle cx="175.45" cy="503.09" r="0.95"/><circle cx="177.46" cy="480.52" r="0.95"/><circle cx="177.31" cy="473.3" r="0.95"/><circle cx="175.24" cy="501.11" r="0.95"/><circle cx="175.9" cy="491.14" r="0.95"/><circle cx="176.15" cy="489.89" r="0.95"/><circle cx="177.87" cy="488.76" r="0.95"/><circle cx="177.51" cy="469.37" r="0.95"/><circle cx="173.44" cy="500.01" r="0.95"/><circle cx="174.85" cy="501.34" r="0.95"/><circle cx="179.16" cy="453.42" r="0.95"/><circle cx="176.95" cy="500.44" r="0.95"/><circle cx="176.9" cy="470.15" r="0.95"/><circle cx="177.01" cy="487.33" r="0.95"/><circle cx="174.89" cy="485.37" r="0.95"/><circle cx="178.74" cy="481.96" r="0.95"/><circle cx="175.11" cy="494.26" r="0.95"/><circle cx="173.96" cy="487.8" r="0.95"/><circle cx="174.88" cy="501.75" r="0.95"/><circle cx="177.76" cy="481.5" r="0.95"/><circle cx="178.89" cy="463.51" r="0.95"/><circle cx="175.61" cy="482.31" r="0.95"/><circle cx="174.08" cy="498.82" r="0.95"/><circle cx="178.94" cy="455.27" r="0.95"/><circle cx="180.43" cy="459.94" r="0.95"/><circle cx="182.78" cy="461" r="0.95"/><circle cx="178.47" cy="471.24" r="0.95"/><circle cx="174.75" cy="484.11" r="0.95"/><circle cx="174.75" cy="488.41" r="0.95"/><circle cx="173.12" cy="500.96" r="0.95"/><circle cx="178.15" cy="464.05" r="0.95"/><circle cx="175.62" cy="501.83" r="0.95"/><circle cx="175.13" cy="501.47" r="0.95"/><circle cx="175.3" cy="492.45" r="0.95"/><circle cx="176.28" cy="489.13" r="0.95"/><circle cx="177.58" cy="500.28" r="0.95"/><circle cx="173.64" cy="500.03" r="0.95"/><circle cx="173.14" cy="496.08" r="0.95"/><circle cx="174.86" cy="500.35" r="0.95"/><circle cx="173.39" cy="498.65" r="0.95"/><circle cx="179.89" cy="469.71" r="0.95"/><circle cx="176.54" cy="480.06" r="0.95"/><circle cx="174.78" cy="483.67" r="0.95"/><circle cx="176.28" cy="493.25" r="0.95"/><circle cx="177.34" cy="466.88" r="0.95"/><circle cx="174.5" cy="502.19" r="0.95"/><circle cx="178.35" cy="489.18" r="0.95"/><circle cx="176.06" cy="494.6" r="0.95"/><circle cx="174.38" cy="486.22" r="0.95"/><circle cx="177.13" cy="501.1" r="0.95"/><circle cx="175.55" cy="485.83" r="0.95"/><circle cx="177.87" cy="500.35" r="0.95"/><circle cx="178.25" cy="462.96" r="0.95"/><circle cx="175.83" cy="487.96" r="0.95"/><circle cx="179.01" cy="473.19" r="0.95"/><circle cx="177.93" cy="479.7" r="0.95"/><circle cx="175.28" cy="498.68" r="0.95"/><circle cx="177.72" cy="481.77" r="0.95"/><circle cx="173.33" cy="501.02" r="0.95"/><circle cx="177.02" cy="466.77" r="0.95"/><circle cx="176.88" cy="470.22" r="0.95"/><circle cx="178.4" cy="477.57" r="0.95"/><circle cx="175.16" cy="499.68" r="0.95"/><circle cx="174.45" cy="493.44" r="0.95"/><circle cx="174.16" cy="499.66" r="0.95"/><circle cx="178.69" cy="468.54" r="0.95"/><circle cx="178.64" cy="483.92" r="0.95"/><circle cx="171.58" cy="500.04" r="0.95"/><circle cx="173.01" cy="496.94" r="0.95"/><circle cx="176.53" cy="479.94" r="0.95"/><circle cx="179.72" cy="461.78" r="0.95"/><circle cx="178.44" cy="476.26" r="0.95"/><circle cx="179.95" cy="462.91" r="0.95"/><circle cx="179.62" cy="464.92" r="0.95"/><circle cx="176.32" cy="499.18" r="0.95"/><circle cx="174.65" cy="498.28" r="0.95"/><circle cx="178.57" cy="480.64" r="0.95"/><circle cx="176.26" cy="472.43" r="0.95"/><circle cx="172.39" cy="501.05" r="0.95"/><circle cx="175.44" cy="491.84" r="0.95"/><circle cx="178.89" cy="467.96" r="0.95"/><circle cx="179.49" cy="467.01" r="0.95"/><circle cx="176.24" cy="475.13" r="0.95"/><circle cx="174.04" cy="495.18" r="0.95"/><circle cx="178.43" cy="461.61" r="0.95"/><circle cx="175.45" cy="486.09" r="0.95"/><circle cx="176.16" cy="479.26" r="0.95"/><circle cx="177.54" cy="487.46" r="0.95"/><circle cx="178.18" cy="470.72" r="0.95"/><circle cx="180.12" cy="456.22" r="0.95"/><circle cx="173.66" cy="500.84" r="0.95"/><circle cx="179.64" cy="461.25" r="0.95"/><circle cx="176.44" cy="491.84" r="0.95"/><circle cx="177.53" cy="483.47" r="0.95"/><circle cx="180.68" cy="457.3" r="0.95"/><circle cx="178.38" cy="466.77" r="0.95"/><circle cx="175" cy="489.46" r="0.95"/><circle cx="172.94" cy="500.25" r="0.95"/><circle cx="177.83" cy="485.39" r="0.95"/><circle cx="173.24" cy="490.14" r="0.95"/><circle cx="173.34" cy="500.56" r="0.95"/><circle cx="177.13" cy="480.19" r="0.95"/><circle cx="173.96" cy="497.82" r="0.95"/><circle cx="181.82" cy="458.88" r="0.95"/><circle cx="176.5" cy="490.66" r="0.95"/><circle cx="179.33" cy="470.19" r="0.95"/><circle cx="179.29" cy="471.31" r="0.95"/><circle cx="177.97" cy="494.43" r="0.95"/><circle cx="175.28" cy="498.62" r="0.95"/><circle cx="175.18" cy="484.97" r="0.95"/><circle cx="179.75" cy="479.2" r="0.95"/><circle cx="180.61" cy="462.47" r="0.95"/><circle cx="178.38" cy="465.54" r="0.95"/><circle cx="174.59" cy="501.85" r="0.95"/><circle cx="174.29" cy="490.42" r="0.95"/><circle cx="174.23" cy="494.23" r="0.95"/><circle cx="178.62" cy="478.29" r="0.95"/><circle cx="177.07" cy="478.95" r="0.95"/><circle cx="177.39" cy="488.65" r="0.95"/><circle cx="175.27" cy="475.14" r="0.95"/><circle cx="176.88" cy="484.75" r="0.95"/><circle cx="176.55" cy="469.17" r="0.95"/><circle cx="183.39" cy="454.08" r="0.95"/><circle cx="174" cy="494.84" r="0.95"/><circle cx="177.74" cy="466.77" r="0.95"/><circle cx="173.97" cy="501.74" r="0.95"/><circle cx="175.3" cy="494.49" r="0.95"/><circle cx="175.56" cy="495.22" r="0.95"/><circle cx="174.67" cy="484.05" r="0.95"/><circle cx="175.35" cy="496.12" r="0.95"/><circle cx="176.61" cy="494.75" r="0.95"/><circle cx="174.81" cy="484.5" r="0.95"/><circle cx="175.44" cy="484.12" r="0.95"/><circle cx="176.12" cy="493.77" r="0.95"/><circle cx="175.14" cy="494.11" r="0.95"/><circle cx="175.47" cy="488.2" r="0.95"/><circle cx="175.52" cy="480.4" r="0.95"/><circle cx="175.24" cy="490.32" r="0.95"/><circle cx="175.2" cy="495.51" r="0.95"/><circle cx="176.21" cy="487.04" r="0.95"/><circle cx="175.25" cy="480.7" r="0.95"/><circle cx="175.97" cy="473.79" r="0.95"/><circle cx="175.84" cy="485.83" r="0.95"/><circle cx="175.08" cy="482.73" r="0.95"/><circle cx="175.62" cy="498.61" r="0.95"/><circle cx="175.41" cy="483.88" r="0.95"/><circle cx="174.9" cy="482.44" r="0.95"/><circle cx="175.86" cy="477.27" r="0.95"/><circle cx="174.61" cy="486.81" r="0.95"/><circle cx="175.41" cy="491.62" r="0.95"/><circle cx="174.66" cy="500.02" r="0.95"/><circle cx="176.15" cy="490.28" r="0.95"/><circle cx="174.82" cy="495.74" r="0.95"/><circle cx="175.43" cy="488.04" r="0.95"/><circle cx="176.27" cy="494.42" r="0.95"/><circle cx="174.73" cy="482.36" r="0.95"/><circle cx="176.08" cy="495.64" r="0.95"/><circle cx="174.95" cy="477.6" r="0.95"/><circle cx="176.44" cy="487.85" r="0.95"/><circle cx="175.76" cy="489.91" r="0.95"/><circle cx="174.01" cy="483.77" r="0.95"/><circle cx="174.02" cy="480.81" r="0.95"/><circle cx="175.09" cy="480.86" r="0.95"/><circle cx="175.18" cy="479.42" r="0.95"/><circle cx="175.93" cy="493.64" r="0.95"/><circle cx="173.9" cy="500.97" r="0.95"/><circle cx="175.34" cy="496.43" r="0.95"/><circle cx="174.15" cy="495.37" r="0.95"/><circle cx="173.87" cy="497.47" r="0.95"/><circle cx="175.43" cy="493.55" r="0.95"/><circle cx="175.79" cy="490.98" r="0.95"/><circle cx="174.82" cy="492" r="0.95"/><circle cx="176.17" cy="495.45" r="0.95"/><circle cx="176.01" cy="494.58" r="0.95"/><circle cx="176.39" cy="482.4" r="0.95"/><circle cx="175.81" cy="485.6" r="0.95"/><circle cx="175.52" cy="482.43" r="0.95"/><circle cx="174.33" cy="499.01" r="0.95"/><circle cx="176.35" cy="490.75" r="0.95"/><circle cx="174.5" cy="501.35" r="0.95"/><circle cx="175.7" cy="479.64" r="0.95"/><circle cx="173.96" cy="484.74" r="0.95"/><circle cx="174.08" cy="492.39" r="0.95"/><circle cx="175.19" cy="493.96" r="0.95"/><circle cx="174.58" cy="490.56" r="0.95"/><circle cx="175.95" cy="491.4" r="0.95"/></g>
<g fill="#00008b" fill-opacity="0.92"><circle cx="169.49" cy="505.69" r="0.95"/><circle cx="172.76" cy="495.32" r="0.95"/><circle cx="158.62" cy="508.96" r="0.95"/><circle cx="169.9" cy="509.72" r="0.95"/><circle cx="168.78" cy="505" r="0.95"/><circle cx="161.31" cy="509.42" r="0.95"/><circle cx="169.56" cy="496.75" r="0.95"/><circle cx="172.48" cy="498.53" r="0.95"/><circle cx="160.36" cy="508.86" r="0.95"/><circle cx="164.57" cy="508.4" r="0.95"/><circle cx="166.95" cy="506.49" r="0.95"/><circle cx="167.99" cy="501.85" r="0.95"/><circle cx="172.65" cy="495.18" r="0.95"/><circle cx="164.2" cy="508.69" r="0.95"/><circle cx="173.2" cy="500.59" r="0.95"/><circle cx="158.8" cy="510.33" r="0.95"/><circle cx="170.85" cy="490.74" r="0.95"/><circle cx="165.38" cy="509.95" r="0.95"/><circle cx="162.65" cy="509.5" r="0.95"/><circle cx="169.84" cy="499.79" r="0.95"/><circle cx="171.07" cy="489.62" r="0.95"/><circle cx="163.37" cy="509.67" r="0.95"/><circle cx="159.62" cy="508.18" r="0.95"/><circle cx="172.41" cy="500.4" r="0.95"/><circle cx="172.62" cy="489.11" r="0.95"/><circle cx="170.02" cy="497.02" r="0.95"/><circle cx="168.91" cy="502.26" r="0.95"/><circle cx="162.41" cy="509.64" r="0.95"/><circle cx="163.47" cy="509" r="0.95"/><circle cx="162.3" cy="508.72" r="0.95"/><circle cx="164.17" cy="510.17" r="0.95"/><circle cx="165.58" cy="506.33" r="0.95"/><circle cx="168.06" cy="506.29" r="0.95"/><circle cx="159.62" cy="510.36" r="0.95"/><circle cx="160.27" cy="508.5" r="0.95"/><circle cx="167.46" cy="504.05" r="0.95"/><circle cx="158.98" cy="509.49" r="0.95"/><circle cx="162.36" cy="508.87" r="0.95"/><circle cx="164.5" cy="509.71" r="0.95"/><circle cx="173.33" cy="509.35" r="0.95"/><circle cx="160.02" cy="508.91" r="0.95"/><circle cx="171.91" cy="502.71" r="0.95"/><circle cx="163.17" cy="510.13" r="0.95"/><circle cx="165.46" cy="507.82" r="0.95"/><circle cx="165.09" cy="510.47" r="0.95"/><circle cx="163.24" cy="509.09" r="0.95"/><circle cx="163.04" cy="509.09" r="0.95"/><circle cx="172.93" cy="498.25" r="0.95"/><circle cx="173.28" cy="509.82" r="0.95"/><circle cx="162.6" cy="510.36" r="0.95"/><circle cx="170.6" cy="503.35" r="0.95"/><circle cx="162.93" cy="510.07" r="0.95"/><circle cx="169.62" cy="510.36" r="0.95"/><circle cx="169.05" cy="509.22" r="0.95"/><circle cx="172.48" cy="494.23" r="0.95"/><circle cx="165.64" cy="510.33" r="0.95"/><circle cx="158.79" cy="509.48" r="0.95"/><circle cx="169.49" cy="499.34" r="0.95"/><circle cx="166.75" cy="508.53" r="0.95"/><circle cx="169.96" cy="499.28" r="0.95"/><circle cx="170.28" cy="494.16" r="0.95"/><circle cx="172.01" cy="505.9" r="0.95"/><circle cx="168.89" cy="498.68" r="0.95"/><circle cx="168.17" cy="504.42" r="0.95"/><circle cx="166.64" cy="509.93" r="0.95"/><circle cx="168.81" cy="498.77" r="0.95"/><circle cx="171.54" cy="502.61" r="0.95"/><circle cx="172.01" cy="500.2" r="0.95"/><circle cx="170.87" cy="493.68" r="0.95"/><circle cx="164.93" cy="508.11" r="0.95"/><circle cx="166.97" cy="503.13" r="0.95"/><circle cx="158.78" cy="510.15" r="0.95"/><circle cx="173.47" cy="484.89" r="0.95"/><circle cx="173.48" cy="490.39" r="0.95"/><circle cx="173.41" cy="487.94" r="0.95"/><circle cx="161.21" cy="508.92" r="0.95"/><circle cx="172.4" cy="485.89" r="0.95"/><circle cx="167.85" cy="499.7" r="0.95"/><circle cx="171.24" cy="509.83" r="0.95"/><circle cx="161.68" cy="508.48" r="0.95"/><circle cx="173.18" cy="500.54" r="0.95"/><circle cx="159.42" cy="508.63" r="0.95"/><circle cx="165.26" cy="506.59" r="0.95"/><circle cx="171.1" cy="508.13" r="0.95"/><circle cx="166.6" cy="506.95" r="0.95"/><circle cx="158.74" cy="508.23" r="0.95"/><circle cx="164.89" cy="509.03" r="0.95"/><circle cx="164.45" cy="508.01" r="0.95"/><circle cx="172.86" cy="504.93" r="0.95"/><circle cx="171.16" cy="498.42" r="0.95"/><circle cx="166.49" cy="510.22" r="0.95"/><circle cx="162.16" cy="508.66" r="0.95"/><circle cx="171.02" cy="499.81" r="0.95"/><circle cx="169.36" cy="506.91" r="0.95"/><circle cx="170.49" cy="495.51" r="0.95"/><circle cx="172.19" cy="498.23" r="0.95"/><circle cx="160.96" cy="508.89" r="0.95"/><circle cx="171.36" cy="494.48" r="0.95"/><circle cx="169.14" cy="498.09" r="0.95"/><circle cx="167.84" cy="509.11" r="0.95"/><circle cx="158.74" cy="509.41" r="0.95"/><circle cx="171.04" cy="504.13" r="0.95"/><circle cx="166.7" cy="507.84" r="0.95"/><circle cx="167.49" cy="506.68" r="0.95"/><circle cx="163.17" cy="509.35" r="0.95"/><circle cx="162.65" cy="508.58" r="0.95"/><circle cx="172.6" cy="500.49" r="0.95"/><circle cx="161.87" cy="508.88" r="0.95"/><circle cx="164.87" cy="507.55" r="0.95"/><circle cx="158.98" cy="508.58" r="0.95"/><circle cx="167.89" cy="500.12" r="0.95"/><circle cx="159.28" cy="510.26" r="0.95"/><circle cx="171.28" cy="493.14" r="0.95"/><circle cx="162.13" cy="509.22" r="0.95"/><circle cx="171.05" cy="500.89" r="0.95"/><circle cx="168.59" cy="509.32" r="0.95"/><circle cx="160.21" cy="508.24" r="0.95"/><circle cx="166.91" cy="510.04" r="0.95"/><circle cx="161.43" cy="510.31" r="0.95"/><circle cx="169.04" cy="509.21" r="0.95"/><circle cx="164.15" cy="509.38" r="0.95"/><circle cx="173.1" cy="501.71" r="0.95"/><circle cx="162.53" cy="509.49" r="0.95"/><circle cx="170.02" cy="492.79" r="0.95"/><circle cx="167.24" cy="509.89" r="0.95"/><circle cx="171.04" cy="508.83" r="0.95"/><circle cx="165.08" cy="509.24" r="0.95"/><circle cx="170.87" cy="502.18" r="0.95"/><circle cx="165.31" cy="510.49" r="0.95"/><circle cx="162.54" cy="508.46" r="0.95"/><circle cx="159.16" cy="510.36" r="0.95"/><circle cx="167.97" cy="503.65" r="0.95"/><circle cx="161.65" cy="510.17" r="0.95"/><circle cx="167.64" cy="508.25" r="0.95"/><circle cx="163.62" cy="509.98" r="0.95"/><circle cx="171.22" cy="493.25" r="0.95"/><circle cx="171.25" cy="501.01" r="0.95"/><circle cx="164.46" cy="508.89" r="0.95"/><circle cx="161.43" cy="508.4" r="0.95"/><circle cx="162" cy="508.79" r="0.95"/><circle cx="168.64" cy="508.47" r="0.95"/><circle cx="171.49" cy="495.86" r="0.95"/><circle cx="161.84" cy="509.94" r="0.95"/><circle cx="165.64" cy="507.34" r="0.95"/><circle cx="170.64" cy="492.41" r="0.95"/><circle cx="164.82" cy="509.17" r="0.95"/><circle cx="168.38" cy="504.26" r="0.95"/><circle cx="164.26" cy="507.57" r="0.95"/><circle cx="171.64" cy="508.41" r="0.95"/><circle cx="162.9" cy="510.44" r="0.95"/><circle cx="162.96" cy="510.4" r="0.95"/><circle cx="172.18" cy="499.43" r="0.95"/><circle cx="161.3" cy="509.78" r="0.95"/><circle cx="168" cy="507.19" r="0.95"/><circle cx="159.57" cy="510.14" r="0.95"/><circle cx="166.26" cy="509.01" r="0.95"/><circle cx="164.04" cy="509.24" r="0.95"/><circle cx="171.31" cy="505.61" r="0.95"/><circle cx="161.6" cy="509.47" r="0.95"/><circle cx="168.95" cy="500.44" r="0.95"/><circle cx="162.47" cy="508.81" r="0.95"/><circle cx="158.61" cy="508.81" r="0.95"/><circle cx="161.56" cy="510.06" r="0.95"/><circle cx="160.35" cy="508.28" r="0.95"/><circle cx="164.55" cy="507.32" r="0.95"/><circle cx="172.35" cy="501.68" r="0.95"/><circle cx="170.37" cy="507.11" r="0.95"/><circle cx="166.41" cy="504.6" r="0.95"/><circle cx="169.4" cy="498.22" r="0.95"/><circle cx="169.92" cy="510.02" r="0.95"/><circle cx="171.07" cy="508.35" r="0.95"/><circle cx="165.17" cy="507.77" r="0.95"/><circle cx="168.62" cy="500.66" r="0.95"/><circle cx="173.07" cy="501.23" r="0.95"/><circle cx="159.42" cy="508.68" r="0.95"/><circle cx="164.94" cy="506.89" r="0.95"/><circle cx="166.7" cy="508.55" r="0.95"/><circle cx="169.09" cy="505.41" r="0.95"/><circle cx="172.02" cy="503.86" r="0.95"/><circle cx="166.83" cy="508.86" r="0.95"/><circle cx="171.42" cy="503.91" r="0.95"/><circle cx="161.11" cy="510.38" r="0.95"/><circle cx="172.74" cy="485.99" r="0.95"/><circle cx="164.52" cy="510.15" r="0.95"/><circle cx="161.85" cy="509.33" r="0.95"/><circle cx="159.51" cy="510.1" r="0.95"/><circle cx="159.3" cy="509.09" r="0.95"/><circle cx="160.74" cy="509.86" r="0.95"/><circle cx="172.07" cy="496.85" r="0.95"/><circle cx="162.19" cy="508.94" r="0.95"/><circle cx="170.7" cy="494.72" r="0.95"/><circle cx="172.61" cy="502.72" r="0.95"/><circle cx="167.65" cy="505.91" r="0.95"/><circle cx="170.67" cy="507.76" r="0.95"/><circle cx="173.01" cy="484.8" r="0.95"/><circle cx="162.63" cy="509.49" r="0.95"/><circle cx="166.96" cy="506.16" r="0.95"/><circle cx="165.14" cy="510.04" r="0.95"/><circle cx="172.4" cy="494.01" r="0.95"/><circle cx="172.35" cy="490.39" r="0.95"/><circle cx="161.9" cy="510.04" r="0.95"/><circle cx="161.12" cy="509.86" r="0.95"/><circle cx="162.15" cy="509.3" r="0.95"/><circle cx="161.28" cy="509.48" r="0.95"/><circle cx="169.15" cy="497.91" r="0.95"/><circle cx="165.1" cy="506.94" r="0.95"/><circle cx="163.79" cy="508.42" r="0.95"/><circle cx="170.44" cy="492.73" r="0.95"/><circle cx="166.62" cy="504.71" r="0.95"/><circle cx="170.53" cy="504.98" r="0.95"/><circle cx="169.66" cy="497.58" r="0.95"/><circle cx="164.27" cy="509.18" r="0.95"/><circle cx="165.54" cy="508.44" r="0.95"/><circle cx="166.71" cy="503.19" r="0.95"/><circle cx="169.66" cy="496.88" r="0.95"/><circle cx="167.19" cy="501.48" r="0.95"/><circle cx="162.18" cy="510.11" r="0.95"/><circle cx="171.71" cy="493.18" r="0.95"/><circle cx="159.29" cy="508.65" r="0.95"/><circle cx="168.99" cy="503.37" r="0.95"/><circle cx="163.46" cy="509.83" r="0.95"/><circle cx="172.98" cy="509.82" r="0.95"/><circle cx="170.73" cy="510.11" r="0.95"/><circle cx="163.85" cy="510.45" r="0.95"/><circle cx="168.8" cy="500" r="0.95"/><circle cx="165.67" cy="507.83" r="0.95"/><circle cx="158.9" cy="508.36" r="0.95"/><circle cx="161.3" cy="509.3" r="0.95"/><circle cx="164.74" cy="508.29" r="0.95"/><circle cx="172.57" cy="496.75" r="0.95"/><circle cx="161.41" cy="509.97" r="0.95"/><circle cx="162.69" cy="509.6" r="0.95"/><circle cx="172.2" cy="485.73" r="0.95"/><circle cx="168.69" cy="499.07" r="0.95"/><circle cx="173.33" cy="504.74" r="0.95"/><circle cx="161.14" cy="508.43" r="0.95"/><circle cx="170.86" cy="492.16" r="0.95"/><circle cx="163.94" cy="509.56" r="0.95"/><circle cx="173.02" cy="507.09" r="0.95"/><circle cx="167.41" cy="507.14" r="0.95"/><circle cx="159.06" cy="508.4" r="0.95"/><circle cx="167.44" cy="503.62" r="0.95"/><circle cx="167.73" cy="509.33" r="0.95"/><circle cx="163.98" cy="510.25" r="0.95"/><circle cx="162.18" cy="509.15" r="0.95"/><circle cx="169.33" cy="507.92" r="0.95"/><circle cx="167.9" cy="510.27" r="0.95"/><circle cx="169.09" cy="498.76" r="0.95"/><circle cx="163.42" cy="508.47" r="0.95"/><circle cx="163.22" cy="509.24" r="0.95"/><circle cx="161.7" cy="509.14" r="0.95"/><circle cx="168.56" cy="507.1" r="0.95"/><circle cx="168.25" cy="506.71" r="0.95"/><circle cx="163.01" cy="508.93" r="0.95"/><circle cx="173.09" cy="483.07" r="0.95"/><circle cx="173.27" cy="509.59" r="0.95"/><circle cx="160.65" cy="510.2" r="0.95"/><circle cx="161.39" cy="509.13" r="0.95"/><circle cx="171.4" cy="499.52" r="0.95"/><circle cx="171.24" cy="500.15" r="0.95"/><circle cx="159.11" cy="509.27" r="0.95"/><circle cx="172.41" cy="501.83" r="0.95"/><circle cx="166.79" cy="504.27" r="0.95"/><circle cx="170.44" cy="502.06" r="0.95"/><circle cx="162.03" cy="509.37" r="0.95"/><circle cx="164.23" cy="509.48" r="0.95"/><circle cx="170.48" cy="508.49" r="0.95"/><circle cx="162.68" cy="510.35" r="0.95"/><circle cx="167.14" cy="508.79" r="0.95"/><circle cx="168.64" cy="497.88" r="0.95"/><circle cx="172.17" cy="490.75" r="0.95"/><circle cx="173.21" cy="500.67" r="0.95"/><circle cx="173.25" cy="499.21" r="0.95"/><circle cx="160.83" cy="508.36" r="0.95"/><circle cx="162.35" cy="510.33" r="0.95"/><circle cx="166.78" cy="510.36" r="0.95"/><circle cx="161.01" cy="509.84" r="0.95"/><circle cx="159.77" cy="509.09" r="0.95"/><circle cx="170.63" cy="497.49" r="0.95"/><circle cx="169.45" cy="504.07" r="0.95"/><circle cx="165.6" cy="509.7" r="0.95"/><circle cx="169.92" cy="507.9" r="0.95"/><circle cx="170.49" cy="499.89" r="0.95"/><circle cx="166.75" cy="504.24" r="0.95"/><circle cx="163.96" cy="509.97" r="0.95"/><circle cx="171.29" cy="510.18" r="0.95"/><circle cx="162.85" cy="509.72" r="0.95"/><circle cx="165.42" cy="508.2" r="0.95"/><circle cx="164.84" cy="510.32" r="0.95"/><circle cx="161.36" cy="508.88" r="0.95"/><circle cx="158.75" cy="509.68" r="0.95"/><circle cx="167.96" cy="507.45" r="0.95"/><circle cx="158.89" cy="508.93" r="0.95"/><circle cx="167.84" cy="498.87" r="0.95"/><circle cx="168.69" cy="498.75" r="0.95"/><circle cx="163.91" cy="509.47" r="0.95"/><circle cx="168.47" cy="501.83" r="0.95"/><circle cx="165.52" cy="507.04" r="0.95"/><circle cx="169.88" cy="501.71" r="0.95"/><circle cx="159.76" cy="510.05" r="0.95"/><circle cx="159.57" cy="509.62" r="0.95"/><circle cx="161.88" cy="509.92" r="0.95"/><circle cx="169.58" cy="496.08" r="0.95"/><circle cx="165.11" cy="509.73" r="0.95"/><circle cx="172.05" cy="490.02" r="0.95"/><circle cx="170.58" cy="491.18" r="0.95"/><circle cx="162.06" cy="508.94" r="0.95"/><circle cx="166.19" cy="510.5" r="0.95"/><circle cx="161.28" cy="509.32" r="0.95"/><circle cx="172.2" cy="504.17" r="0.95"/><circle cx="161.88" cy="508.71" r="0.95"/><circle cx="169.89" cy="509.13" r="0.95"/><circle cx="162.92" cy="509.36" r="0.95"/><circle cx="171.43" cy="499.49" r="0.95"/><circle cx="165.8" cy="508.82" r="0.95"/><circle cx="170.11" cy="493.89" r="0.95"/><circle cx="162.69" cy="508.59" r="0.95"/><circle cx="163.77" cy="510.12" r="0.95"/><circle cx="171.72" cy="509.64" r="0.95"/><circle cx="168.22" cy="500.89" r="0.95"/><circle cx="158.76" cy="506.7" r="0.95"/><circle cx="161.03" cy="507.17" r="0.95"/><circle cx="163.04" cy="503.57" r="0.95"/><circle cx="161.7" cy="502.8" r="0.95"/><circle cx="159.24" cy="506.8" r="0.95"/><circle cx="161.84" cy="500.21" r="0.95"/><circle cx="160.09" cy="508.68" r="0.95"/><circle cx="161.84" cy="509" r="0.95"/><circle cx="164.6" cy="507.13" r="0.95"/><circle cx="160.3" cy="495.41" r="0.95"/><circle cx="161.31" cy="505.43" r="0.95"/><circle cx="164.4" cy="507.09" r="0.95"/><circle cx="164.65" cy="506.36" r="0.95"/><circle cx="159.4" cy="494.62" r="0.95"/><circle cx="160.08" cy="497.41" r="0.95"/><circle cx="159.54" cy="504.32" r="0.95"/><circle cx="161.74" cy="508.42" r="0.95"/><circle cx="163.45" cy="505.34" r="0.95"/><circle cx="163.93" cy="509.03" r="0.95"/><circle cx="160.19" cy="508.07" r="0.95"/><circle cx="159.44" cy="503.5" r="0.95"/><circle cx="158.75" cy="490.76" r="0.95"/><circle cx="161.78" cy="499.59" r="0.95"/><circle cx="160.35" cy="505.63" r="0.95"/><circle cx="164.33" cy="508.96" r="0.95"/><circle cx="161.18" cy="500.87" r="0.95"/><circle cx="162.34" cy="505.55" r="0.95"/><circle cx="163.41" cy="506.38" r="0.95"/><circle cx="161.09" cy="509.51" r="0.95"/><circle cx="164.36" cy="509.01" r="0.95"/><circle cx="162.61" cy="503.79" r="0.95"/><circle cx="163.69" cy="505.9" r="0.95"/><circle cx="162.99" cy="508.25" r="0.95"/><circle cx="161.73" cy="500.16" r="0.95"/><circle cx="160.8" cy="498.38" r="0.95"/><circle cx="162.3" cy="504.23" r="0.95"/><circle cx="162.77" cy="504.31" r="0.95"/><circle cx="161.84" cy="510.3" r="0.95"/><circle cx="159.08" cy="500.07" r="0.95"/><circle cx="159.13" cy="494.14" r="0.95"/><circle cx="161.09" cy="499.94" r="0.95"/><circle cx="162.43" cy="503.11" r="0.95"/><circle cx="162.38" cy="503.09" r="0.95"/><circle cx="162.73" cy="506.28" r="0.95"/><circle cx="163.31" cy="506.08" r="0.95"/><circle cx="162" cy="505.38" r="0.95"/><circle cx="164.77" cy="508.55" r="0.95"/><circle cx="164.99" cy="509.57" r="0.95"/><circle cx="158.74" cy="500.98" r="0.95"/><circle cx="160.24" cy="497.65" r="0.95"/><circle cx="163.16" cy="507.46" r="0.95"/><circle cx="161.11" cy="507.83" r="0.95"/><circle cx="162.12" cy="502.64" r="0.95"/><circle cx="161.16" cy="497.24" r="0.95"/><circle cx="158.69" cy="494.9" r="0.95"/><circle cx="164.29" cy="505.78" r="0.95"/><circle cx="162.05" cy="506.86" r="0.95"/><circle cx="161.97" cy="506.15" r="0.95"/><circle cx="158.87" cy="502.81" r="0.95"/><circle cx="164.51" cy="509.28" r="0.95"/><circle cx="163.16" cy="508.25" r="0.95"/><circle cx="162.19" cy="502.66" r="0.95"/><circle cx="164.77" cy="508.31" r="0.95"/><circle cx="162.71" cy="510" r="0.95"/><circle cx="160.89" cy="502.97" r="0.95"/><circle cx="163.52" cy="504.92" r="0.95"/><circle cx="162.75" cy="505.29" r="0.95"/><circle cx="164.4" cy="507.16" r="0.95"/><circle cx="161.42" cy="498.5" r="0.95"/><circle cx="161.91" cy="502.08" r="0.95"/><circle cx="160.3" cy="476" r="0.95"/><circle cx="160.9" cy="494.6" r="0.95"/><circle cx="162" cy="498" r="0.95"/><circle cx="163.7" cy="500.2" r="0.95"/><circle cx="159.5" cy="490" r="0.95"/><circle cx="161.5" cy="492" r="0.95"/></g>
<g fill="#000" fill-opacity="0.9"><circle cx="159.65" cy="509.37" r="0.95"/><circle cx="166.7" cy="509.28" r="0.95"/><circle cx="168.51" cy="510.55" r="0.95"/><circle cx="160.29" cy="509.95" r="0.95"/><circle cx="161.35" cy="510.16" r="0.95"/><circle cx="166.43" cy="510.66" r="0.95"/><circle cx="160.26" cy="509.63" r="0.95"/><circle cx="161.68" cy="509.91" r="0.95"/><circle cx="167.93" cy="510.78" r="0.95"/><circle cx="167.08" cy="510.53" r="0.95"/><circle cx="168.41" cy="509.73" r="0.95"/><circle cx="165.36" cy="509.87" r="0.95"/><circle cx="168.56" cy="509.53" r="0.95"/><circle cx="161.74" cy="509.36" r="0.95"/><circle cx="168.15" cy="509.7" r="0.95"/><circle cx="167.57" cy="510.46" r="0.95"/><circle cx="158.89" cy="510.11" r="0.95"/><circle cx="163.31" cy="509.21" r="0.95"/><circle cx="167.87" cy="509.18" r="0.95"/><circle cx="158.82" cy="508.98" r="0.95"/><circle cx="164.78" cy="510.55" r="0.95"/><circle cx="164.48" cy="510.94" r="0.95"/><circle cx="168.56" cy="509.18" r="0.95"/><circle cx="159.47" cy="509.81" r="0.95"/><circle cx="164.88" cy="509.61" r="0.95"/><circle cx="163.06" cy="508.93" r="0.95"/><circle cx="168.56" cy="510.66" r="0.95"/><circle cx="165.67" cy="509.97" r="0.95"/><circle cx="162.63" cy="509.1" r="0.95"/><circle cx="164.71" cy="510.08" r="0.95"/><circle cx="163.08" cy="510.15" r="0.95"/><circle cx="161.12" cy="510.09" r="0.95"/><circle cx="169.86" cy="509.69" r="0.95"/><circle cx="159.2" cy="510.09" r="0.95"/><circle cx="168.25" cy="510.78" r="0.95"/><circle cx="168.03" cy="510.77" r="0.95"/><circle cx="166.28" cy="510.82" r="0.95"/><circle cx="168.77" cy="510.04" r="0.95"/><circle cx="169.14" cy="509.85" r="0.95"/><circle cx="169.75" cy="508.82" r="0.95"/><circle cx="168.96" cy="508.88" r="0.95"/><circle cx="165.7" cy="509" r="0.95"/><circle cx="167.88" cy="510.07" r="0.95"/><circle cx="165.06" cy="510.88" r="0.95"/><circle cx="165" cy="510.06" r="0.95"/><circle cx="165.4" cy="508.85" r="0.95"/><circle cx="163.29" cy="509.42" r="0.95"/><circle cx="163.86" cy="509.23" r="0.95"/><circle cx="168.59" cy="510.35" r="0.95"/><circle cx="167.47" cy="508.94" r="0.95"/><circle cx="167.27" cy="510.3" r="0.95"/><circle cx="164.45" cy="509.9" r="0.95"/><circle cx="159.11" cy="509.86" r="0.95"/><circle cx="161.8" cy="509.97" r="0.95"/><circle cx="159.07" cy="509.77" r="0.95"/><circle cx="170.32" cy="508.92" r="0.95"/><circle cx="161.26" cy="508.99" r="0.95"/><circle cx="159.07" cy="510.11" r="0.95"/><circle cx="168.4" cy="510.58" r="0.95"/><circle cx="169.41" cy="509.36" r="0.95"/><circle cx="163.11" cy="510.39" r="0.95"/><circle cx="159.24" cy="509.15" r="0.95"/><circle cx="163.1" cy="510.39" r="0.95"/><circle cx="160.99" cy="510.68" r="0.95"/><circle cx="165.64" cy="509.68" r="0.95"/><circle cx="164.39" cy="510.15" r="0.95"/><circle cx="162.36" cy="510.94" r="0.95"/><circle cx="164.7" cy="510.32" r="0.95"/><circle cx="164.12" cy="510.25" r="0.95"/><circle cx="159.35" cy="510.31" r="0.95"/><circle cx="166.36" cy="510.11" r="0.95"/><circle cx="170.32" cy="509.74" r="0.95"/><circle cx="162.87" cy="509.59" r="0.95"/><circle cx="168.31" cy="509.34" r="0.95"/><circle cx="159.37" cy="509.82" r="0.95"/><circle cx="170.14" cy="509.16" r="0.95"/><circle cx="162.46" cy="509.91" r="0.95"/><circle cx="164.99" cy="509.32" r="0.95"/><circle cx="167.03" cy="509.69" r="0.95"/><circle cx="170.3" cy="509.32" r="0.95"/></g>
<rect x="158.1" y="508.6" width="12.4" height="2.5" rx="1.2" fill="#000"/>
<line x1="158.4" y1="420.5" x2="158.4" y2="513.7" stroke="#5a5a5a" stroke-width="0.6" stroke-dasharray="1.5 1.2"/>
<line x1="173.6" y1="420.5" x2="173.6" y2="513.7" stroke="#5a5a5a" stroke-width="0.6" stroke-dasharray="1.5 1.2"/>
<line x1="90.5" y1="510.13" x2="241.4" y2="510.13" stroke="#666" stroke-width="0.6" stroke-dasharray="1.8 1.2"/>
<rect x="90" y="420.5" width="1.0" height="94.3" fill="#2a2a2a"/>
<rect x="90" y="513.8" width="151.4" height="1.0" fill="#2a2a2a"/>
<rect x="87.5" y="510.1" width="2.6" height="0.8" fill="#333"/>
<text x="86.7" y="513.27" class="vt" font-size="7.7" text-anchor="end">0</text>
<rect x="87.5" y="481.9" width="2.6" height="0.8" fill="#333"/>
<text x="86.7" y="485.07" class="vt" font-size="7.7" text-anchor="end">100</text>
<rect x="87.5" y="453.7" width="2.6" height="0.8" fill="#333"/>
<text x="86.7" y="456.87" class="vt" font-size="7.7" text-anchor="end">200</text>
<rect x="87.5" y="425.5" width="2.6" height="0.8" fill="#333"/>
<text x="86.7" y="428.67" class="vt" font-size="7.7" text-anchor="end">300</text>
<rect x="126.7" y="514.8" width="0.8" height="2.6" fill="#333"/>
<text x="126.7" y="525.9" class="vt" font-size="7.7" text-anchor="middle">−2</text>
<rect x="166.2" y="514.8" width="0.8" height="2.6" fill="#333"/>
<text x="166.6" y="525.9" class="vt" font-size="7.7" text-anchor="middle">0</text>
<rect x="205.7" y="514.8" width="0.8" height="2.6" fill="#333"/>
<text x="206.1" y="525.9" class="vt" font-size="7.7" text-anchor="middle">2</text>
<text x="137.4" y="535.2" class="vx" font-size="8">Log<tspan font-size="5.44" dy="1.76">2</tspan><tspan dy="-1.76"> fold change</tspan></text>
<text transform="translate(66.9 481.9) rotate(-90)" class="vx" font-size="8.1">−Log<tspan font-size="5.51" dy="1.78">10</tspan><tspan dy="-1.78" font-style="italic"> P</tspan></text>
<text x="116.1" y="402.3" class="lg" font-size="5" textLength="5.9" lengthAdjust="spacingAndGlyphs">Sig</text>
<circle cx="127.7" cy="400.5" r="2.3" fill="#707070"/>
<text x="132.5" y="402.3" class="lg" font-size="5" textLength="6.4" lengthAdjust="spacingAndGlyphs">NS</text>
<circle cx="144.5" cy="400.5" r="2.3" fill="#6a6abf"/>
<text x="148.5" y="402.3" class="lg" font-size="5" textLength="16.1" lengthAdjust="spacingAndGlyphs">p−value</text>
<circle cx="169.7" cy="400.5" r="2.3" fill="#7fbff8"/>
<text x="174.2" y="402.3" class="lg" font-size="5" textLength="42.6" lengthAdjust="spacingAndGlyphs">p − value and log<tspan font-size="70%" dy="0.8">2</tspan><tspan dy="-0.8"> FC</tspan></text>
<g stroke="#e8e8e8" stroke-width="0.7"><line x1="94.7" y1="732.2" x2="94.7" y2="819.8"/><line x1="115.95" y1="732.2" x2="115.95" y2="819.8"/><line x1="137.2" y1="732.2" x2="137.2" y2="819.8"/><line x1="158.45" y1="732.2" x2="158.45" y2="819.8"/><line x1="179.7" y1="732.2" x2="179.7" y2="819.8"/><line x1="200.95" y1="732.2" x2="200.95" y2="819.8"/><line x1="222.2" y1="732.2" x2="222.2" y2="819.8"/><line x1="87.3" y1="816.2" x2="229" y2="816.2"/><line x1="87.3" y1="803.05" x2="229" y2="803.05"/><line x1="87.3" y1="789.9" x2="229" y2="789.9"/><line x1="87.3" y1="776.75" x2="229" y2="776.75"/><line x1="87.3" y1="763.6" x2="229" y2="763.6"/><line x1="87.3" y1="750.45" x2="229" y2="750.45"/><line x1="87.3" y1="737.3" x2="229" y2="737.3"/></g>
<g fill="#1e90ff" fill-opacity="0.72"><circle cx="104.63" cy="766.98" r="0.95"/><circle cx="104.64" cy="768.05" r="0.95"/><circle cx="112.15" cy="767.82" r="0.95"/><circle cx="129.06" cy="744.76" r="0.95"/><circle cx="131.87" cy="771.89" r="0.95"/><circle cx="134.97" cy="780.09" r="0.95"/><circle cx="123.19" cy="791.95" r="0.95"/><circle cx="118.88" cy="799.87" r="0.95"/><circle cx="121.02" cy="802.47" r="0.95"/><circle cx="131.87" cy="797.21" r="0.95"/><circle cx="134.59" cy="799.85" r="0.95"/><circle cx="135.74" cy="802.14" r="0.95"/><circle cx="127.21" cy="805.93" r="0.95"/><circle cx="131.04" cy="802.91" r="0.95"/><circle cx="132.74" cy="789.58" r="0.95"/><circle cx="138.88" cy="789.19" r="0.95"/><circle cx="138.87" cy="793.47" r="0.95"/><circle cx="204.91" cy="737.3" r="0.95"/><circle cx="217.55" cy="737.06" r="0.95"/><circle cx="202.76" cy="740.52" r="0.95"/><circle cx="200.82" cy="747.02" r="0.95"/><circle cx="197.25" cy="749.16" r="0.95"/><circle cx="193.46" cy="758.29" r="0.95"/><circle cx="195.61" cy="768" r="0.95"/><circle cx="175.47" cy="773.04" r="0.95"/><circle cx="180.31" cy="774.01" r="0.95"/><circle cx="187.28" cy="775.4" r="0.95"/><circle cx="190.26" cy="779.98" r="0.95"/><circle cx="191.88" cy="782.82" r="0.95"/><circle cx="196.73" cy="780.02" r="0.95"/><circle cx="182.02" cy="786.22" r="0.95"/><circle cx="186.13" cy="788.26" r="0.95"/><circle cx="184.38" cy="791.45" r="0.95"/><circle cx="179.1" cy="792.51" r="0.95"/><circle cx="186.74" cy="799.33" r="0.95"/><circle cx="184.59" cy="802.92" r="0.95"/><circle cx="175.64" cy="772.98" r="0.95"/><circle cx="180.08" cy="773.78" r="0.95"/><circle cx="186.76" cy="775.72" r="0.95"/><circle cx="191.88" cy="783.06" r="0.95"/><circle cx="181.72" cy="786.15" r="0.95"/><circle cx="186.16" cy="787.85" r="0.95"/><circle cx="185.92" cy="789.58" r="0.95"/><circle cx="183.48" cy="791.09" r="0.95"/><circle cx="186.8" cy="799.28" r="0.95"/><circle cx="184.48" cy="802.29" r="0.95"/><circle cx="176.85" cy="808.51" r="0.95"/><circle cx="175.22" cy="812.8" r="0.95"/><circle cx="135.12" cy="779.46" r="0.95"/><circle cx="138.86" cy="788.48" r="0.95"/><circle cx="138.97" cy="793.48" r="0.95"/><circle cx="138.57" cy="798.02" r="0.95"/><circle cx="135.54" cy="801.13" r="0.95"/><circle cx="137.09" cy="803.03" r="0.95"/><circle cx="138.58" cy="805" r="0.95"/><circle cx="140.02" cy="807.1" r="0.95"/><circle cx="139.04" cy="809.96" r="0.95"/><circle cx="139.36" cy="812.59" r="0.95"/><circle cx="136.95" cy="814.48" r="0.95"/><circle cx="127.94" cy="812.02" r="0.95"/><circle cx="130.97" cy="810.1" r="0.95"/><circle cx="133.03" cy="814.02" r="0.95"/><circle cx="177.14" cy="796.59" r="0.95"/><circle cx="180.76" cy="791.18" r="0.95"/><circle cx="176.48" cy="805.24" r="0.95"/><circle cx="176.2" cy="805.88" r="0.95"/><circle cx="181.2" cy="800.65" r="0.95"/><circle cx="179.34" cy="801.23" r="0.95"/><circle cx="177.36" cy="800.32" r="0.95"/><circle cx="181.95" cy="793.57" r="0.95"/><circle cx="175" cy="807.07" r="0.95"/><circle cx="176.18" cy="795.04" r="0.95"/><circle cx="181.93" cy="791.14" r="0.95"/><circle cx="182.01" cy="791.76" r="0.95"/><circle cx="183.03" cy="790.79" r="0.95"/><circle cx="177.1" cy="793.98" r="0.95"/><circle cx="179.01" cy="793.22" r="0.95"/><circle cx="179.77" cy="797.78" r="0.95"/><circle cx="178.04" cy="799.21" r="0.95"/><circle cx="177.5" cy="805.1" r="0.95"/><circle cx="181.82" cy="791.36" r="0.95"/><circle cx="183.25" cy="791.92" r="0.95"/><circle cx="179.65" cy="793.12" r="0.95"/><circle cx="176.1" cy="798.55" r="0.95"/><circle cx="178.66" cy="802.41" r="0.95"/><circle cx="176.65" cy="800.14" r="0.95"/><circle cx="176.93" cy="800.26" r="0.95"/><circle cx="180.04" cy="798.14" r="0.95"/><circle cx="176.05" cy="801.69" r="0.95"/><circle cx="176.71" cy="804.4" r="0.95"/><circle cx="176.4" cy="802.86" r="0.95"/><circle cx="175.44" cy="800" r="0.95"/><circle cx="182.99" cy="795.74" r="0.95"/><circle cx="181.12" cy="789.67" r="0.95"/><circle cx="175.2" cy="808.84" r="0.95"/><circle cx="181.87" cy="790.89" r="0.95"/><circle cx="180.41" cy="801.14" r="0.95"/><circle cx="178.43" cy="791.85" r="0.95"/><circle cx="182.5" cy="790.75" r="0.95"/><circle cx="176.63" cy="794.52" r="0.95"/><circle cx="178.07" cy="794.41" r="0.95"/><circle cx="176.01" cy="793.48" r="0.95"/><circle cx="179.91" cy="793.31" r="0.95"/><circle cx="176.71" cy="798.53" r="0.95"/><circle cx="179.91" cy="795.46" r="0.95"/><circle cx="177.82" cy="794.52" r="0.95"/><circle cx="177.81" cy="801.59" r="0.95"/><circle cx="176.12" cy="797.92" r="0.95"/><circle cx="175.78" cy="806.49" r="0.95"/><circle cx="175.46" cy="800.07" r="0.95"/><circle cx="179.51" cy="796.23" r="0.95"/><circle cx="175.14" cy="803.84" r="0.95"/><circle cx="177.82" cy="804.84" r="0.95"/><circle cx="174.77" cy="794.98" r="0.95"/><circle cx="175.93" cy="804.87" r="0.95"/><circle cx="177.12" cy="797.82" r="0.95"/><circle cx="175.52" cy="802.94" r="0.95"/><circle cx="177.92" cy="792.73" r="0.95"/><circle cx="174.84" cy="806.14" r="0.95"/><circle cx="179.05" cy="790.06" r="0.95"/><circle cx="179.39" cy="797.48" r="0.95"/><circle cx="180.47" cy="799.04" r="0.95"/><circle cx="175.1" cy="802.98" r="0.95"/><circle cx="182.64" cy="791.55" r="0.95"/><circle cx="177.1" cy="796.57" r="0.95"/><circle cx="182.08" cy="798.2" r="0.95"/><circle cx="179.9" cy="798.59" r="0.95"/><circle cx="177.04" cy="803.2" r="0.95"/><circle cx="176.53" cy="802.94" r="0.95"/><circle cx="175.18" cy="804.78" r="0.95"/><circle cx="175.46" cy="797.9" r="0.95"/><circle cx="180.13" cy="803.73" r="0.95"/><circle cx="181.6" cy="799.58" r="0.95"/><circle cx="179.05" cy="796.59" r="0.95"/><circle cx="177.65" cy="801.98" r="0.95"/><circle cx="178.54" cy="803.35" r="0.95"/><circle cx="182.39" cy="799.96" r="0.95"/><circle cx="182.08" cy="798.84" r="0.95"/><circle cx="177.57" cy="800.67" r="0.95"/><circle cx="175.11" cy="809.16" r="0.95"/><circle cx="177.97" cy="799.09" r="0.95"/><circle cx="182.36" cy="788.61" r="0.95"/><circle cx="175.15" cy="802.17" r="0.95"/><circle cx="175.83" cy="796.53" r="0.95"/><circle cx="177.57" cy="792.2" r="0.95"/><circle cx="179.49" cy="802.59" r="0.95"/><circle cx="174.83" cy="807.76" r="0.95"/><circle cx="182.33" cy="799.2" r="0.95"/><circle cx="179" cy="799.17" r="0.95"/><circle cx="177.69" cy="793.53" r="0.95"/><circle cx="176.71" cy="796.57" r="0.95"/><circle cx="180.73" cy="789.82" r="0.95"/><circle cx="179.22" cy="790.66" r="0.95"/><circle cx="178.72" cy="796.47" r="0.95"/><circle cx="180.27" cy="791.49" r="0.95"/><circle cx="182.73" cy="799.4" r="0.95"/><circle cx="176.13" cy="800.75" r="0.95"/><circle cx="181.76" cy="794.82" r="0.95"/><circle cx="177.49" cy="791.6" r="0.95"/><circle cx="177.32" cy="805.84" r="0.95"/><circle cx="175.26" cy="810.55" r="0.95"/><circle cx="181" cy="801.27" r="0.95"/><circle cx="180.9" cy="790.66" r="0.95"/><circle cx="183.45" cy="790.41" r="0.95"/><circle cx="178.59" cy="795.83" r="0.95"/><circle cx="182.09" cy="792.09" r="0.95"/><circle cx="177.4" cy="794.82" r="0.95"/><circle cx="175.89" cy="805.2" r="0.95"/><circle cx="183.34" cy="794.44" r="0.95"/><circle cx="177.05" cy="794.74" r="0.95"/><circle cx="178.83" cy="805.14" r="0.95"/><circle cx="174.99" cy="807.16" r="0.95"/><circle cx="137.86" cy="804.71" r="0.95"/><circle cx="137.53" cy="806.27" r="0.95"/><circle cx="141.01" cy="809.53" r="0.95"/><circle cx="141.84" cy="803.63" r="0.95"/><circle cx="138.85" cy="812.16" r="0.95"/><circle cx="138.64" cy="804.48" r="0.95"/><circle cx="139.19" cy="812.94" r="0.95"/><circle cx="138.26" cy="809.79" r="0.95"/><circle cx="137.2" cy="809.54" r="0.95"/><circle cx="136.2" cy="807.51" r="0.95"/><circle cx="137.04" cy="814.37" r="0.95"/><circle cx="139.51" cy="811.4" r="0.95"/><circle cx="141.25" cy="808.2" r="0.95"/><circle cx="139.12" cy="804.83" r="0.95"/><circle cx="137.18" cy="807.56" r="0.95"/><circle cx="139.85" cy="809.86" r="0.95"/><circle cx="141.79" cy="815.2" r="0.95"/><circle cx="141.13" cy="813.42" r="0.95"/><circle cx="141.01" cy="813.27" r="0.95"/><circle cx="136.45" cy="810.46" r="0.95"/><circle cx="141.47" cy="811.75" r="0.95"/><circle cx="139.05" cy="808.04" r="0.95"/><circle cx="137.57" cy="809.57" r="0.95"/><circle cx="136.12" cy="811.09" r="0.95"/><circle cx="140.66" cy="810.69" r="0.95"/><circle cx="137.32" cy="814.96" r="0.95"/><circle cx="140.12" cy="809.67" r="0.95"/><circle cx="141.59" cy="804.39" r="0.95"/><circle cx="136.58" cy="806.22" r="0.95"/><circle cx="141.5" cy="803.11" r="0.95"/><circle cx="141.09" cy="805.77" r="0.95"/><circle cx="140.29" cy="806.21" r="0.95"/><circle cx="139.5" cy="812.25" r="0.95"/><circle cx="136.73" cy="807.92" r="0.95"/><circle cx="139.52" cy="814.64" r="0.95"/><circle cx="139.74" cy="807.28" r="0.95"/><circle cx="139.11" cy="805.89" r="0.95"/><circle cx="141.19" cy="809.81" r="0.95"/><circle cx="140.91" cy="808.18" r="0.95"/><circle cx="139.31" cy="810.17" r="0.95"/></g>
<g fill="#00008b" fill-opacity="0.92"><circle cx="164.64" cy="812.62" r="0.95"/><circle cx="163.72" cy="815.84" r="0.95"/><circle cx="160.83" cy="815.2" r="0.95"/><circle cx="160.44" cy="815.7" r="0.95"/><circle cx="171.17" cy="815.73" r="0.95"/><circle cx="163.71" cy="814.58" r="0.95"/><circle cx="159.78" cy="813.01" r="0.95"/><circle cx="173.88" cy="798.16" r="0.95"/><circle cx="162.16" cy="812.73" r="0.95"/><circle cx="164.03" cy="815.3" r="0.95"/><circle cx="163.87" cy="810.8" r="0.95"/><circle cx="163.42" cy="809.84" r="0.95"/><circle cx="164.3" cy="813.32" r="0.95"/><circle cx="172.65" cy="806.01" r="0.95"/><circle cx="160.75" cy="811.94" r="0.95"/><circle cx="164.92" cy="809.96" r="0.95"/><circle cx="164.71" cy="807.65" r="0.95"/><circle cx="169.61" cy="809.36" r="0.95"/><circle cx="162.79" cy="810.63" r="0.95"/><circle cx="171.58" cy="805.97" r="0.95"/><circle cx="172.23" cy="806.93" r="0.95"/><circle cx="163.72" cy="813.37" r="0.95"/><circle cx="161.01" cy="815.29" r="0.95"/><circle cx="173.17" cy="806.1" r="0.95"/><circle cx="157.55" cy="815.44" r="0.95"/><circle cx="163.89" cy="809.12" r="0.95"/><circle cx="171.92" cy="803.14" r="0.95"/><circle cx="161.44" cy="813.86" r="0.95"/><circle cx="173.62" cy="808.91" r="0.95"/><circle cx="168.08" cy="815.32" r="0.95"/><circle cx="164.93" cy="810.92" r="0.95"/><circle cx="172.92" cy="798.98" r="0.95"/><circle cx="169.99" cy="810.89" r="0.95"/><circle cx="172.22" cy="800.28" r="0.95"/><circle cx="157.42" cy="814.89" r="0.95"/><circle cx="166.25" cy="812.45" r="0.95"/><circle cx="160.48" cy="812.6" r="0.95"/><circle cx="159.9" cy="813.78" r="0.95"/><circle cx="156.37" cy="815.07" r="0.95"/><circle cx="173.94" cy="815.93" r="0.95"/><circle cx="158" cy="813.36" r="0.95"/><circle cx="173.01" cy="807" r="0.95"/><circle cx="161.49" cy="814.49" r="0.95"/><circle cx="169.65" cy="807.27" r="0.95"/><circle cx="164.3" cy="809.69" r="0.95"/><circle cx="157.85" cy="814.89" r="0.95"/><circle cx="172.34" cy="800.26" r="0.95"/><circle cx="165.04" cy="808.03" r="0.95"/><circle cx="172.45" cy="806.95" r="0.95"/><circle cx="158.66" cy="815.66" r="0.95"/><circle cx="168.48" cy="811.26" r="0.95"/><circle cx="165.79" cy="815.53" r="0.95"/><circle cx="173.63" cy="810.92" r="0.95"/><circle cx="167.8" cy="807.79" r="0.95"/><circle cx="162.62" cy="814.6" r="0.95"/><circle cx="166.45" cy="812.13" r="0.95"/><circle cx="157.43" cy="815.54" r="0.95"/><circle cx="156.73" cy="814.01" r="0.95"/><circle cx="159.77" cy="812.38" r="0.95"/><circle cx="167.51" cy="803.65" r="0.95"/><circle cx="164.73" cy="813.51" r="0.95"/><circle cx="157.57" cy="814.33" r="0.95"/><circle cx="168.93" cy="806.27" r="0.95"/><circle cx="172.92" cy="814.25" r="0.95"/><circle cx="168" cy="806.57" r="0.95"/><circle cx="173.51" cy="811.44" r="0.95"/><circle cx="173.32" cy="815.54" r="0.95"/><circle cx="166.96" cy="811.95" r="0.95"/><circle cx="165.65" cy="814.08" r="0.95"/><circle cx="163.15" cy="813.39" r="0.95"/><circle cx="164.62" cy="812.11" r="0.95"/><circle cx="160.06" cy="815.31" r="0.95"/><circle cx="164.7" cy="806.39" r="0.95"/><circle cx="171.78" cy="813.48" r="0.95"/><circle cx="167.79" cy="814.07" r="0.95"/><circle cx="162.05" cy="810.14" r="0.95"/><circle cx="162.3" cy="815.36" r="0.95"/><circle cx="166.44" cy="809.05" r="0.95"/><circle cx="165.5" cy="805.72" r="0.95"/><circle cx="165.54" cy="812.03" r="0.95"/><circle cx="159.88" cy="813.68" r="0.95"/><circle cx="169.84" cy="808.33" r="0.95"/><circle cx="163.27" cy="814.08" r="0.95"/><circle cx="171.72" cy="799.37" r="0.95"/><circle cx="166.88" cy="807.27" r="0.95"/><circle cx="162.04" cy="815.07" r="0.95"/><circle cx="157.06" cy="814.52" r="0.95"/><circle cx="173.06" cy="803.69" r="0.95"/><circle cx="168.52" cy="804.04" r="0.95"/><circle cx="163.67" cy="812.48" r="0.95"/><circle cx="160.84" cy="812.23" r="0.95"/><circle cx="168.84" cy="808.54" r="0.95"/><circle cx="170.49" cy="801.59" r="0.95"/><circle cx="156.85" cy="815.5" r="0.95"/><circle cx="164.7" cy="809.07" r="0.95"/><circle cx="160.5" cy="814.08" r="0.95"/><circle cx="168.34" cy="811.96" r="0.95"/><circle cx="168.45" cy="815.16" r="0.95"/><circle cx="163.67" cy="810.75" r="0.95"/><circle cx="172.06" cy="807.29" r="0.95"/><circle cx="168.37" cy="806.86" r="0.95"/><circle cx="168.05" cy="809.93" r="0.95"/><circle cx="161.89" cy="815.28" r="0.95"/><circle cx="172.5" cy="802.52" r="0.95"/><circle cx="168.11" cy="805.82" r="0.95"/><circle cx="161.85" cy="815.01" r="0.95"/><circle cx="165.9" cy="810.72" r="0.95"/><circle cx="168.07" cy="804.24" r="0.95"/><circle cx="163.3" cy="813.13" r="0.95"/><circle cx="169.11" cy="803.19" r="0.95"/><circle cx="166.53" cy="808.91" r="0.95"/><circle cx="172.59" cy="799.93" r="0.95"/><circle cx="156.84" cy="813.79" r="0.95"/><circle cx="157.77" cy="814.46" r="0.95"/><circle cx="165.3" cy="805.66" r="0.95"/><circle cx="160.34" cy="815.81" r="0.95"/><circle cx="173.83" cy="807.57" r="0.95"/><circle cx="164.52" cy="811.97" r="0.95"/><circle cx="161.16" cy="815.86" r="0.95"/><circle cx="166.35" cy="813.46" r="0.95"/><circle cx="165.29" cy="805.49" r="0.95"/><circle cx="174.29" cy="810.2" r="0.95"/><circle cx="162.22" cy="815.25" r="0.95"/><circle cx="167.3" cy="813.72" r="0.95"/><circle cx="158.35" cy="813.14" r="0.95"/><circle cx="166.39" cy="805.51" r="0.95"/><circle cx="159.99" cy="815.28" r="0.95"/><circle cx="166.75" cy="807.6" r="0.95"/><circle cx="159.32" cy="814.15" r="0.95"/><circle cx="166.45" cy="810.08" r="0.95"/><circle cx="161.84" cy="813.5" r="0.95"/><circle cx="158.05" cy="815.71" r="0.95"/><circle cx="157.1" cy="813.98" r="0.95"/><circle cx="160.64" cy="813.01" r="0.95"/><circle cx="158.14" cy="813.34" r="0.95"/><circle cx="156.53" cy="814.31" r="0.95"/><circle cx="165.89" cy="805.75" r="0.95"/><circle cx="172.55" cy="815.79" r="0.95"/><circle cx="156.94" cy="815.42" r="0.95"/><circle cx="156.82" cy="814.04" r="0.95"/><circle cx="158.68" cy="813.76" r="0.95"/><circle cx="173.58" cy="803.19" r="0.95"/><circle cx="174.51" cy="803.71" r="0.95"/><circle cx="163.23" cy="808.62" r="0.95"/><circle cx="160.03" cy="813.74" r="0.95"/><circle cx="163.72" cy="811.48" r="0.95"/><circle cx="161.54" cy="811.06" r="0.95"/><circle cx="174.44" cy="802.78" r="0.95"/><circle cx="165.25" cy="806.03" r="0.95"/><circle cx="173.62" cy="815.11" r="0.95"/><circle cx="172.46" cy="814.12" r="0.95"/><circle cx="157.74" cy="815.3" r="0.95"/><circle cx="162.9" cy="812.56" r="0.95"/><circle cx="173.75" cy="813.26" r="0.95"/><circle cx="168.03" cy="809.24" r="0.95"/><circle cx="158.34" cy="812.89" r="0.95"/><circle cx="173.03" cy="809.84" r="0.95"/><circle cx="172.19" cy="808.27" r="0.95"/><circle cx="168.53" cy="803.08" r="0.95"/><circle cx="167.89" cy="811.2" r="0.95"/><circle cx="156.98" cy="814.9" r="0.95"/><circle cx="166.76" cy="812.68" r="0.95"/><circle cx="166.72" cy="815.81" r="0.95"/><circle cx="160.7" cy="813.85" r="0.95"/><circle cx="164.97" cy="808.88" r="0.95"/><circle cx="160.31" cy="814.81" r="0.95"/><circle cx="169.63" cy="811.74" r="0.95"/><circle cx="158.8" cy="813.9" r="0.95"/><circle cx="162.51" cy="812.14" r="0.95"/><circle cx="174.03" cy="797.94" r="0.95"/><circle cx="170.72" cy="800.46" r="0.95"/><circle cx="170.75" cy="810.24" r="0.95"/><circle cx="173.35" cy="813.72" r="0.95"/><circle cx="159.89" cy="813.98" r="0.95"/><circle cx="158.3" cy="814.13" r="0.95"/><circle cx="166.15" cy="813.59" r="0.95"/><circle cx="169.83" cy="814.73" r="0.95"/><circle cx="165.08" cy="813.18" r="0.95"/><circle cx="173.44" cy="813.38" r="0.95"/><circle cx="163.08" cy="810.75" r="0.95"/><circle cx="161.64" cy="811.62" r="0.95"/><circle cx="158.1" cy="815.77" r="0.95"/><circle cx="156.24" cy="814.92" r="0.95"/><circle cx="164.92" cy="810.64" r="0.95"/><circle cx="164.78" cy="807.38" r="0.95"/><circle cx="160.02" cy="815.4" r="0.95"/><circle cx="160.62" cy="812.32" r="0.95"/><circle cx="171.09" cy="814.16" r="0.95"/><circle cx="156.02" cy="814.21" r="0.95"/><circle cx="174.02" cy="810.87" r="0.95"/><circle cx="165.89" cy="815.47" r="0.95"/><circle cx="165.47" cy="814.14" r="0.95"/><circle cx="168.69" cy="813.81" r="0.95"/><circle cx="166.5" cy="812.08" r="0.95"/><circle cx="164.96" cy="806.42" r="0.95"/><circle cx="165.73" cy="805.15" r="0.95"/><circle cx="169.4" cy="812.65" r="0.95"/><circle cx="160.7" cy="812.35" r="0.95"/><circle cx="170.45" cy="813.73" r="0.95"/><circle cx="171.06" cy="811.16" r="0.95"/><circle cx="166.55" cy="805.34" r="0.95"/><circle cx="173.08" cy="812.89" r="0.95"/><circle cx="158.65" cy="815.12" r="0.95"/><circle cx="167.26" cy="803.78" r="0.95"/><circle cx="168.15" cy="805.66" r="0.95"/><circle cx="171.29" cy="808.2" r="0.95"/><circle cx="162.99" cy="810.22" r="0.95"/><circle cx="167.55" cy="804.55" r="0.95"/><circle cx="174.55" cy="807.17" r="0.95"/><circle cx="162.41" cy="815.18" r="0.95"/><circle cx="166.87" cy="812.13" r="0.95"/><circle cx="161.86" cy="813.16" r="0.95"/><circle cx="169.55" cy="805.82" r="0.95"/><circle cx="164.56" cy="809.82" r="0.95"/><circle cx="167.68" cy="804.05" r="0.95"/><circle cx="168.71" cy="804.03" r="0.95"/><circle cx="160.48" cy="812.31" r="0.95"/><circle cx="156.11" cy="814.48" r="0.95"/><circle cx="156.27" cy="814.81" r="0.95"/><circle cx="161.1" cy="815.24" r="0.95"/><circle cx="169.82" cy="813.91" r="0.95"/><circle cx="168.65" cy="814.84" r="0.95"/><circle cx="159.87" cy="814.42" r="0.95"/><circle cx="166.61" cy="808.09" r="0.95"/><circle cx="162.69" cy="810.1" r="0.95"/><circle cx="156.53" cy="815.6" r="0.95"/><circle cx="163.31" cy="811.29" r="0.95"/><circle cx="168.17" cy="803.96" r="0.95"/><circle cx="162.51" cy="811.8" r="0.95"/><circle cx="168.84" cy="813.72" r="0.95"/><circle cx="162.84" cy="812.89" r="0.95"/><circle cx="167.16" cy="809.36" r="0.95"/><circle cx="158.58" cy="815.34" r="0.95"/><circle cx="162.1" cy="815.48" r="0.95"/><circle cx="170.34" cy="801.96" r="0.95"/><circle cx="169.65" cy="812.69" r="0.95"/><circle cx="166.93" cy="815.6" r="0.95"/><circle cx="159.93" cy="814.98" r="0.95"/><circle cx="167.12" cy="808.71" r="0.95"/><circle cx="166.07" cy="814.16" r="0.95"/><circle cx="165.34" cy="808.05" r="0.95"/><circle cx="172.24" cy="809.66" r="0.95"/><circle cx="164.35" cy="807.99" r="0.95"/><circle cx="156.84" cy="814.63" r="0.95"/><circle cx="157.9" cy="813.69" r="0.95"/><circle cx="168.57" cy="815" r="0.95"/><circle cx="156.81" cy="813.88" r="0.95"/><circle cx="161.71" cy="812.87" r="0.95"/><circle cx="166.79" cy="811.34" r="0.95"/><circle cx="157.85" cy="813.94" r="0.95"/><circle cx="162.23" cy="813.38" r="0.95"/><circle cx="170.9" cy="800.88" r="0.95"/><circle cx="161.32" cy="814.39" r="0.95"/><circle cx="170.42" cy="808.92" r="0.95"/><circle cx="172.61" cy="809.48" r="0.95"/><circle cx="157.01" cy="815.32" r="0.95"/><circle cx="172.71" cy="805.84" r="0.95"/><circle cx="174.13" cy="800.65" r="0.95"/><circle cx="168.66" cy="813.48" r="0.95"/><circle cx="163.73" cy="815.83" r="0.95"/><circle cx="162.22" cy="814.66" r="0.95"/><circle cx="173.44" cy="813.17" r="0.95"/><circle cx="162.42" cy="815.85" r="0.95"/><circle cx="158.85" cy="813.62" r="0.95"/><circle cx="163.51" cy="811.97" r="0.95"/><circle cx="171.26" cy="804.59" r="0.95"/><circle cx="159.95" cy="812.99" r="0.95"/><circle cx="168.72" cy="807.69" r="0.95"/><circle cx="165.32" cy="806.3" r="0.95"/><circle cx="167.16" cy="815.24" r="0.95"/><circle cx="171.61" cy="804.99" r="0.95"/><circle cx="160.96" cy="812.44" r="0.95"/><circle cx="173.33" cy="802.77" r="0.95"/><circle cx="164.87" cy="807.77" r="0.95"/><circle cx="157.51" cy="815.86" r="0.95"/><circle cx="163.52" cy="811.85" r="0.95"/><circle cx="167.95" cy="807.21" r="0.95"/><circle cx="165.64" cy="811.88" r="0.95"/><circle cx="169.64" cy="807.6" r="0.95"/><circle cx="159.87" cy="813.7" r="0.95"/><circle cx="164.53" cy="808.5" r="0.95"/><circle cx="169.06" cy="801.75" r="0.95"/><circle cx="170.21" cy="808.03" r="0.95"/><circle cx="168.47" cy="811.94" r="0.95"/><circle cx="166.3" cy="804.41" r="0.95"/><circle cx="158.24" cy="814.7" r="0.95"/><circle cx="164.01" cy="809.78" r="0.95"/><circle cx="159.53" cy="813.4" r="0.95"/><circle cx="158.09" cy="813.13" r="0.95"/><circle cx="157.5" cy="814.29" r="0.95"/><circle cx="169.93" cy="807.52" r="0.95"/><circle cx="161.01" cy="814.32" r="0.95"/><circle cx="172.61" cy="807.99" r="0.95"/><circle cx="166.46" cy="804.67" r="0.95"/><circle cx="165.01" cy="807.75" r="0.95"/><circle cx="167.15" cy="805.59" r="0.95"/><circle cx="167.6" cy="814.25" r="0.95"/><circle cx="160.22" cy="814.84" r="0.95"/><circle cx="160.11" cy="813.56" r="0.95"/><circle cx="163.78" cy="812.94" r="0.95"/><circle cx="156.37" cy="814.01" r="0.95"/><circle cx="165.03" cy="813.88" r="0.95"/><circle cx="168.33" cy="814.75" r="0.95"/><circle cx="158.71" cy="812.85" r="0.95"/><circle cx="168.41" cy="811.05" r="0.95"/><circle cx="158.48" cy="813.67" r="0.95"/><circle cx="160.49" cy="814.58" r="0.95"/><circle cx="161.21" cy="813.01" r="0.95"/><circle cx="160.53" cy="815.76" r="0.95"/><circle cx="171.78" cy="807.1" r="0.95"/><circle cx="158.35" cy="815.8" r="0.95"/><circle cx="172.96" cy="806.95" r="0.95"/><circle cx="166.22" cy="805.54" r="0.95"/><circle cx="156.44" cy="815.78" r="0.95"/><circle cx="159.85" cy="813.22" r="0.95"/><circle cx="158.11" cy="814.32" r="0.95"/><circle cx="170.76" cy="809.57" r="0.95"/><circle cx="168.39" cy="815.42" r="0.95"/><circle cx="164.97" cy="812.22" r="0.95"/><circle cx="168.56" cy="810.52" r="0.95"/><circle cx="168.3" cy="803.69" r="0.95"/><circle cx="173.34" cy="801.33" r="0.95"/><circle cx="169.14" cy="802.01" r="0.95"/><circle cx="164" cy="815.82" r="0.95"/><circle cx="170.97" cy="810.18" r="0.95"/><circle cx="162.23" cy="810.17" r="0.95"/><circle cx="163.45" cy="814.95" r="0.95"/><circle cx="172.84" cy="815.95" r="0.95"/><circle cx="156.97" cy="814.36" r="0.95"/><circle cx="159.21" cy="813.39" r="0.95"/><circle cx="142.24" cy="813.32" r="0.95"/><circle cx="147.66" cy="811.53" r="0.95"/><circle cx="152.47" cy="813.17" r="0.95"/><circle cx="144.88" cy="809.01" r="0.95"/><circle cx="142.94" cy="812.08" r="0.95"/><circle cx="142.9" cy="809.13" r="0.95"/><circle cx="148.71" cy="813.12" r="0.95"/><circle cx="155.11" cy="815.42" r="0.95"/><circle cx="151.23" cy="812.52" r="0.95"/><circle cx="143.18" cy="809.2" r="0.95"/><circle cx="146.91" cy="810.58" r="0.95"/><circle cx="152.59" cy="814.63" r="0.95"/><circle cx="147.65" cy="813.07" r="0.95"/><circle cx="143.58" cy="811.08" r="0.95"/><circle cx="152.21" cy="811.82" r="0.95"/><circle cx="148.33" cy="812.28" r="0.95"/><circle cx="151.03" cy="812.1" r="0.95"/><circle cx="151.36" cy="811.31" r="0.95"/><circle cx="153.82" cy="812.84" r="0.95"/><circle cx="148.3" cy="812.27" r="0.95"/><circle cx="144.52" cy="811.73" r="0.95"/><circle cx="149.27" cy="813.79" r="0.95"/><circle cx="155.07" cy="813.87" r="0.95"/><circle cx="153.52" cy="814.96" r="0.95"/><circle cx="150.21" cy="811.19" r="0.95"/><circle cx="147.6" cy="811.81" r="0.95"/><circle cx="144.85" cy="808.29" r="0.95"/><circle cx="150.1" cy="813.44" r="0.95"/><circle cx="154.05" cy="815.16" r="0.95"/><circle cx="149.53" cy="813.53" r="0.95"/><circle cx="154.58" cy="814.62" r="0.95"/><circle cx="155.25" cy="814.11" r="0.95"/><circle cx="143.74" cy="810.95" r="0.95"/><circle cx="148.98" cy="815.03" r="0.95"/><circle cx="154.29" cy="813.59" r="0.95"/><circle cx="155.6" cy="814.99" r="0.95"/><circle cx="144.19" cy="810.47" r="0.95"/><circle cx="153.76" cy="815.1" r="0.95"/><circle cx="152.68" cy="814.05" r="0.95"/><circle cx="147.53" cy="808.95" r="0.95"/><circle cx="151.84" cy="811.54" r="0.95"/><circle cx="152.89" cy="812.77" r="0.95"/><circle cx="145.13" cy="809.97" r="0.95"/><circle cx="143.57" cy="809.34" r="0.95"/><circle cx="151.7" cy="814.13" r="0.95"/><circle cx="150.23" cy="810.6" r="0.95"/><circle cx="151.64" cy="814.6" r="0.95"/><circle cx="155.5" cy="814.33" r="0.95"/><circle cx="146.37" cy="812.82" r="0.95"/><circle cx="146.95" cy="812.72" r="0.95"/><circle cx="153.77" cy="814.74" r="0.95"/><circle cx="155.21" cy="815.28" r="0.95"/><circle cx="147.1" cy="813.84" r="0.95"/><circle cx="153.07" cy="815.59" r="0.95"/><circle cx="144.37" cy="809.22" r="0.95"/><circle cx="152.48" cy="815.36" r="0.95"/><circle cx="148.04" cy="815.59" r="0.95"/><circle cx="153.86" cy="813.16" r="0.95"/><circle cx="142.75" cy="808.94" r="0.95"/><circle cx="145.61" cy="808.23" r="0.95"/><circle cx="144.31" cy="808.06" r="0.95"/><circle cx="146.27" cy="811.75" r="0.95"/><circle cx="149.78" cy="811.31" r="0.95"/><circle cx="147.07" cy="810.25" r="0.95"/><circle cx="153.24" cy="813.59" r="0.95"/><circle cx="142.91" cy="811.98" r="0.95"/><circle cx="145.24" cy="807.99" r="0.95"/><circle cx="148" cy="809.82" r="0.95"/><circle cx="147.97" cy="814.18" r="0.95"/><circle cx="144.83" cy="810.12" r="0.95"/><circle cx="143.59" cy="811.88" r="0.95"/><circle cx="149.52" cy="810.22" r="0.95"/><circle cx="153.71" cy="815.77" r="0.95"/><circle cx="147.14" cy="812.86" r="0.95"/><circle cx="152.91" cy="815.59" r="0.95"/><circle cx="151.77" cy="814.65" r="0.95"/><circle cx="150.56" cy="814.04" r="0.95"/><circle cx="144.56" cy="808.91" r="0.95"/><circle cx="153.78" cy="814.82" r="0.95"/><circle cx="147.33" cy="814.47" r="0.95"/><circle cx="147.03" cy="812.95" r="0.95"/><circle cx="143.87" cy="808.13" r="0.95"/><circle cx="148.34" cy="814.26" r="0.95"/><circle cx="145.8" cy="814.74" r="0.95"/><circle cx="148.74" cy="813.29" r="0.95"/><circle cx="153.15" cy="814.79" r="0.95"/><circle cx="145.17" cy="814.64" r="0.95"/><circle cx="151.98" cy="815.28" r="0.95"/><circle cx="144.31" cy="815.29" r="0.95"/><circle cx="149.7" cy="814.03" r="0.95"/><circle cx="152.48" cy="814.49" r="0.95"/><circle cx="153.85" cy="815.21" r="0.95"/><circle cx="147.44" cy="810.43" r="0.95"/><circle cx="154.2" cy="813.56" r="0.95"/><circle cx="151.58" cy="813.67" r="0.95"/><circle cx="148.08" cy="809.56" r="0.95"/><circle cx="146.82" cy="812.93" r="0.95"/><circle cx="151.67" cy="813.43" r="0.95"/><circle cx="154.72" cy="815.12" r="0.95"/><circle cx="153.61" cy="813.45" r="0.95"/><circle cx="144.09" cy="808.24" r="0.95"/><circle cx="151.85" cy="811.73" r="0.95"/><circle cx="149.44" cy="810.63" r="0.95"/><circle cx="149.59" cy="810.6" r="0.95"/><circle cx="153.26" cy="815.28" r="0.95"/><circle cx="154.4" cy="815.53" r="0.95"/><circle cx="149.23" cy="813.86" r="0.95"/><circle cx="148.28" cy="814.06" r="0.95"/><circle cx="146.41" cy="810.38" r="0.95"/><circle cx="147.71" cy="812.33" r="0.95"/><circle cx="144.26" cy="814.65" r="0.95"/><circle cx="151.73" cy="814.1" r="0.95"/><circle cx="150.03" cy="810.79" r="0.95"/><circle cx="143.43" cy="813.74" r="0.95"/><circle cx="153.85" cy="813.77" r="0.95"/><circle cx="153.29" cy="815.45" r="0.95"/><circle cx="148.13" cy="810.1" r="0.95"/><circle cx="155.57" cy="814.51" r="0.95"/><circle cx="155.57" cy="815.28" r="0.95"/><circle cx="151.4" cy="811.45" r="0.95"/><circle cx="144.45" cy="810.9" r="0.95"/><circle cx="146.54" cy="812.04" r="0.95"/><circle cx="154.34" cy="814.72" r="0.95"/><circle cx="143.87" cy="811.62" r="0.95"/><circle cx="150.29" cy="814.47" r="0.95"/><circle cx="153.29" cy="814.92" r="0.95"/><circle cx="148.79" cy="812.37" r="0.95"/><circle cx="142.57" cy="807.86" r="0.95"/><circle cx="150.83" cy="814.53" r="0.95"/><circle cx="154.82" cy="814.01" r="0.95"/><circle cx="150.42" cy="813.27" r="0.95"/><circle cx="151.73" cy="814.95" r="0.95"/><circle cx="148.5" cy="815.84" r="0.95"/><circle cx="142.95" cy="810.66" r="0.95"/><circle cx="149.49" cy="810.87" r="0.95"/><circle cx="151" cy="812.21" r="0.95"/><circle cx="151.45" cy="814.08" r="0.95"/><circle cx="152.26" cy="815.24" r="0.95"/><circle cx="155.58" cy="814.72" r="0.95"/><circle cx="148.24" cy="811.36" r="0.95"/><circle cx="148.3" cy="813.95" r="0.95"/><circle cx="150.91" cy="811" r="0.95"/><circle cx="150.33" cy="811.08" r="0.95"/><circle cx="147.6" cy="809.15" r="0.95"/><circle cx="155" cy="814.12" r="0.95"/><circle cx="143.38" cy="808.05" r="0.95"/><circle cx="150" cy="813.35" r="0.95"/><circle cx="153.47" cy="813.96" r="0.95"/><circle cx="153.67" cy="814.09" r="0.95"/><circle cx="144.61" cy="808.23" r="0.95"/><circle cx="168.3" cy="793.5" r="0.95"/><circle cx="168.7" cy="798.9" r="0.95"/><circle cx="170" cy="800.2" r="0.95"/><circle cx="166.1" cy="803.3" r="0.95"/><circle cx="142.9" cy="784.9" r="0.95"/><circle cx="142" cy="798" r="0.95"/><circle cx="143.3" cy="800.6" r="0.95"/><circle cx="146.4" cy="802.4" r="0.95"/><circle cx="147.3" cy="802.8" r="0.95"/><circle cx="150.3" cy="805.9" r="0.95"/><circle cx="151.2" cy="810.3" r="0.95"/><circle cx="144.5" cy="804.5" r="0.95"/><circle cx="146" cy="805" r="0.95"/></g>
<g fill="#000" fill-opacity="0.9"><circle cx="148.23" cy="815.97" r="0.95"/><circle cx="148.4" cy="816.86" r="0.95"/><circle cx="155.28" cy="816.19" r="0.95"/><circle cx="145.33" cy="815.33" r="0.95"/><circle cx="156.99" cy="815.8" r="0.95"/><circle cx="146.56" cy="816.3" r="0.95"/><circle cx="161.55" cy="815.78" r="0.95"/><circle cx="152.66" cy="816.33" r="0.95"/><circle cx="165.75" cy="816.04" r="0.95"/><circle cx="147.98" cy="815.65" r="0.95"/><circle cx="158.98" cy="815.58" r="0.95"/><circle cx="149.5" cy="816.08" r="0.95"/><circle cx="151.47" cy="816.91" r="0.95"/><circle cx="154.85" cy="815.72" r="0.95"/><circle cx="155.39" cy="815.19" r="0.95"/><circle cx="150.33" cy="815.62" r="0.95"/><circle cx="163.57" cy="815.55" r="0.95"/><circle cx="146.65" cy="815.06" r="0.95"/><circle cx="147.31" cy="816.93" r="0.95"/><circle cx="157.77" cy="816.41" r="0.95"/><circle cx="151.2" cy="816.7" r="0.95"/><circle cx="163.23" cy="816.93" r="0.95"/><circle cx="150.81" cy="815.02" r="0.95"/><circle cx="145.84" cy="815.6" r="0.95"/><circle cx="158.81" cy="816.28" r="0.95"/><circle cx="158.59" cy="816.67" r="0.95"/><circle cx="163.86" cy="815.31" r="0.95"/><circle cx="160.33" cy="816.93" r="0.95"/><circle cx="150.96" cy="816.68" r="0.95"/><circle cx="167.62" cy="816.97" r="0.95"/><circle cx="162.25" cy="815.11" r="0.95"/><circle cx="166.36" cy="816.55" r="0.95"/><circle cx="165.04" cy="816.76" r="0.95"/><circle cx="153.69" cy="815.51" r="0.95"/><circle cx="153.91" cy="816.54" r="0.95"/><circle cx="158.25" cy="816.22" r="0.95"/><circle cx="164.23" cy="815.36" r="0.95"/><circle cx="144.73" cy="815.36" r="0.95"/><circle cx="148.04" cy="816.57" r="0.95"/><circle cx="167.9" cy="815.11" r="0.95"/><circle cx="157.28" cy="815.23" r="0.95"/><circle cx="157.81" cy="816.49" r="0.95"/><circle cx="155.72" cy="815.68" r="0.95"/><circle cx="145.42" cy="816.34" r="0.95"/><circle cx="162.11" cy="815.7" r="0.95"/><circle cx="144.44" cy="816.73" r="0.95"/><circle cx="167.57" cy="816.75" r="0.95"/><circle cx="165.14" cy="815.52" r="0.95"/><circle cx="150.07" cy="816.46" r="0.95"/><circle cx="152.46" cy="816.74" r="0.95"/><circle cx="147.45" cy="815.02" r="0.95"/><circle cx="155.33" cy="815.32" r="0.95"/><circle cx="162.99" cy="816.58" r="0.95"/><circle cx="161.7" cy="815.38" r="0.95"/><circle cx="144.72" cy="816.29" r="0.95"/><circle cx="152.56" cy="815.89" r="0.95"/><circle cx="156.93" cy="816.08" r="0.95"/><circle cx="165.54" cy="815.04" r="0.95"/><circle cx="154.7" cy="815.22" r="0.95"/><circle cx="148.64" cy="815.18" r="0.95"/><circle cx="143.78" cy="815.55" r="0.95"/><circle cx="157.63" cy="815.62" r="0.95"/><circle cx="150.19" cy="815.7" r="0.95"/><circle cx="154.3" cy="816.55" r="0.95"/><circle cx="153.74" cy="815.67" r="0.95"/><circle cx="167.94" cy="815.25" r="0.95"/><circle cx="160.41" cy="816.06" r="0.95"/><circle cx="160.42" cy="816.53" r="0.95"/><circle cx="152" cy="815.36" r="0.95"/><circle cx="150.91" cy="816.89" r="0.95"/><circle cx="143.94" cy="816.94" r="0.95"/><circle cx="161.04" cy="816.89" r="0.95"/><circle cx="163.58" cy="816.11" r="0.95"/><circle cx="155.74" cy="816.25" r="0.95"/><circle cx="161.77" cy="815.54" r="0.95"/><circle cx="159.35" cy="815.9" r="0.95"/><circle cx="149.48" cy="815.89" r="0.95"/><circle cx="153.96" cy="815.98" r="0.95"/><circle cx="167.44" cy="815.9" r="0.95"/><circle cx="163.49" cy="816.05" r="0.95"/><circle cx="153.59" cy="815.26" r="0.95"/><circle cx="148.85" cy="815.46" r="0.95"/><circle cx="161.15" cy="816.52" r="0.95"/><circle cx="147.12" cy="815.26" r="0.95"/><circle cx="165.76" cy="816.09" r="0.95"/><circle cx="147.39" cy="816.58" r="0.95"/><circle cx="157.04" cy="816.54" r="0.95"/><circle cx="144.03" cy="815.7" r="0.95"/><circle cx="165.31" cy="816.85" r="0.95"/><circle cx="166.5" cy="816.93" r="0.95"/><circle cx="147.83" cy="816.73" r="0.95"/><circle cx="154.52" cy="816.4" r="0.95"/><circle cx="155.02" cy="816.56" r="0.95"/><circle cx="155.73" cy="815.58" r="0.95"/><circle cx="151.97" cy="816.58" r="0.95"/><circle cx="160.73" cy="815.58" r="0.95"/><circle cx="161.74" cy="815.01" r="0.95"/><circle cx="151.62" cy="815.82" r="0.95"/><circle cx="157.59" cy="816.17" r="0.95"/><circle cx="154.13" cy="816.13" r="0.95"/><circle cx="152.67" cy="816.12" r="0.95"/><circle cx="162.76" cy="815.74" r="0.95"/><circle cx="165.52" cy="815.2" r="0.95"/><circle cx="150.64" cy="816.51" r="0.95"/><circle cx="156.06" cy="815.18" r="0.95"/><circle cx="146.04" cy="816.25" r="0.95"/><circle cx="155.24" cy="816.81" r="0.95"/><circle cx="164.83" cy="815.29" r="0.95"/><circle cx="150.84" cy="815.42" r="0.95"/><circle cx="147.95" cy="816.78" r="0.95"/><circle cx="159" cy="816.33" r="0.95"/><circle cx="152.15" cy="815.37" r="0.95"/><circle cx="161.93" cy="815.72" r="0.95"/><circle cx="164.86" cy="816.36" r="0.95"/><circle cx="164.32" cy="815.36" r="0.95"/><circle cx="157.18" cy="816.48" r="0.95"/><circle cx="154.27" cy="815.44" r="0.95"/><circle cx="166.49" cy="816.37" r="0.95"/><circle cx="159.3" cy="815.19" r="0.95"/><circle cx="166.62" cy="816.66" r="0.95"/></g>
<rect x="142.4" y="814.9" width="25.9" height="2.0" rx="1" fill="#000"/>
<line x1="142.3" y1="732.2" x2="142.3" y2="819.8" stroke="#5a5a5a" stroke-width="0.6" stroke-dasharray="1.5 1.2"/>
<line x1="174.6" y1="732.2" x2="174.6" y2="819.8" stroke="#5a5a5a" stroke-width="0.6" stroke-dasharray="1.5 1.2"/>
<line x1="87.3" y1="815.86" x2="229" y2="815.86" stroke="#666" stroke-width="0.6" stroke-dasharray="1.8 1.2"/>
<rect x="86.8" y="732.2" width="1.0" height="88.7" fill="#2a2a2a"/>
<rect x="86.8" y="819.9" width="142.2" height="1.0" fill="#2a2a2a"/>
<rect x="84.3" y="815.8" width="2.6" height="0.8" fill="#333"/>
<text x="83.5" y="818.9" class="vt" font-size="7.5" text-anchor="end">0</text>
<rect x="84.3" y="789.5" width="2.6" height="0.8" fill="#333"/>
<text x="83.5" y="792.6" class="vt" font-size="7.5" text-anchor="end">100</text>
<rect x="84.3" y="763.2" width="2.6" height="0.8" fill="#333"/>
<text x="83.5" y="766.3" class="vt" font-size="7.5" text-anchor="end">200</text>
<rect x="84.3" y="736.9" width="2.6" height="0.8" fill="#333"/>
<text x="83.5" y="740" class="vt" font-size="7.5" text-anchor="end">300</text>
<rect x="115.55" y="820.9" width="0.8" height="2.6" fill="#333"/>
<text x="115.55" y="831.2" class="vt" font-size="7.5" text-anchor="middle">−1</text>
<rect x="158.05" y="820.9" width="0.8" height="2.6" fill="#333"/>
<text x="158.45" y="831.2" class="vt" font-size="7.5" text-anchor="middle">0</text>
<rect x="200.55" y="820.9" width="0.8" height="2.6" fill="#333"/>
<text x="200.95" y="831.2" class="vt" font-size="7.5" text-anchor="middle">1</text>
<text x="131.8" y="840.3" class="vx" font-size="7.35">Log<tspan font-size="5" dy="1.62">2</tspan><tspan dy="-1.62"> fold change</tspan></text>
<text transform="translate(65.5 790.1) rotate(-90)" class="vx" font-size="7.4">−Log<tspan font-size="5.03" dy="1.63">10</tspan><tspan dy="-1.63" font-style="italic"> P</tspan></text>
<text x="99" y="715.46" class="lg" font-size="4.6" textLength="6" lengthAdjust="spacingAndGlyphs">Sig</text>
<circle cx="110.1" cy="713.8" r="2.3" fill="#707070"/>
<text x="114.7" y="715.46" class="lg" font-size="4.6" textLength="5.8" lengthAdjust="spacingAndGlyphs">NS</text>
<circle cx="126" cy="713.8" r="2.3" fill="#c9c6c0"/>
<text x="130.6" y="715.46" class="lg" font-size="4.6" textLength="14.6" lengthAdjust="spacingAndGlyphs">Log<tspan font-size="70%" dy="0.8">2</tspan><tspan dy="-0.8"> FC</tspan></text>
<circle cx="150.7" cy="713.8" r="2.3" fill="#6a6abf"/>
<text x="155.2" y="715.46" class="lg" font-size="4.6" textLength="13.7" lengthAdjust="spacingAndGlyphs">p−value</text>
<circle cx="174.4" cy="713.8" r="2.3" fill="#7fbff8"/>
<text x="178.6" y="715.46" class="lg" font-size="4.6" textLength="37.8" lengthAdjust="spacingAndGlyphs">p − value and log<tspan font-size="70%" dy="0.8">2</tspan><tspan dy="-0.8"> FC</tspan></text></svg></body></html>
